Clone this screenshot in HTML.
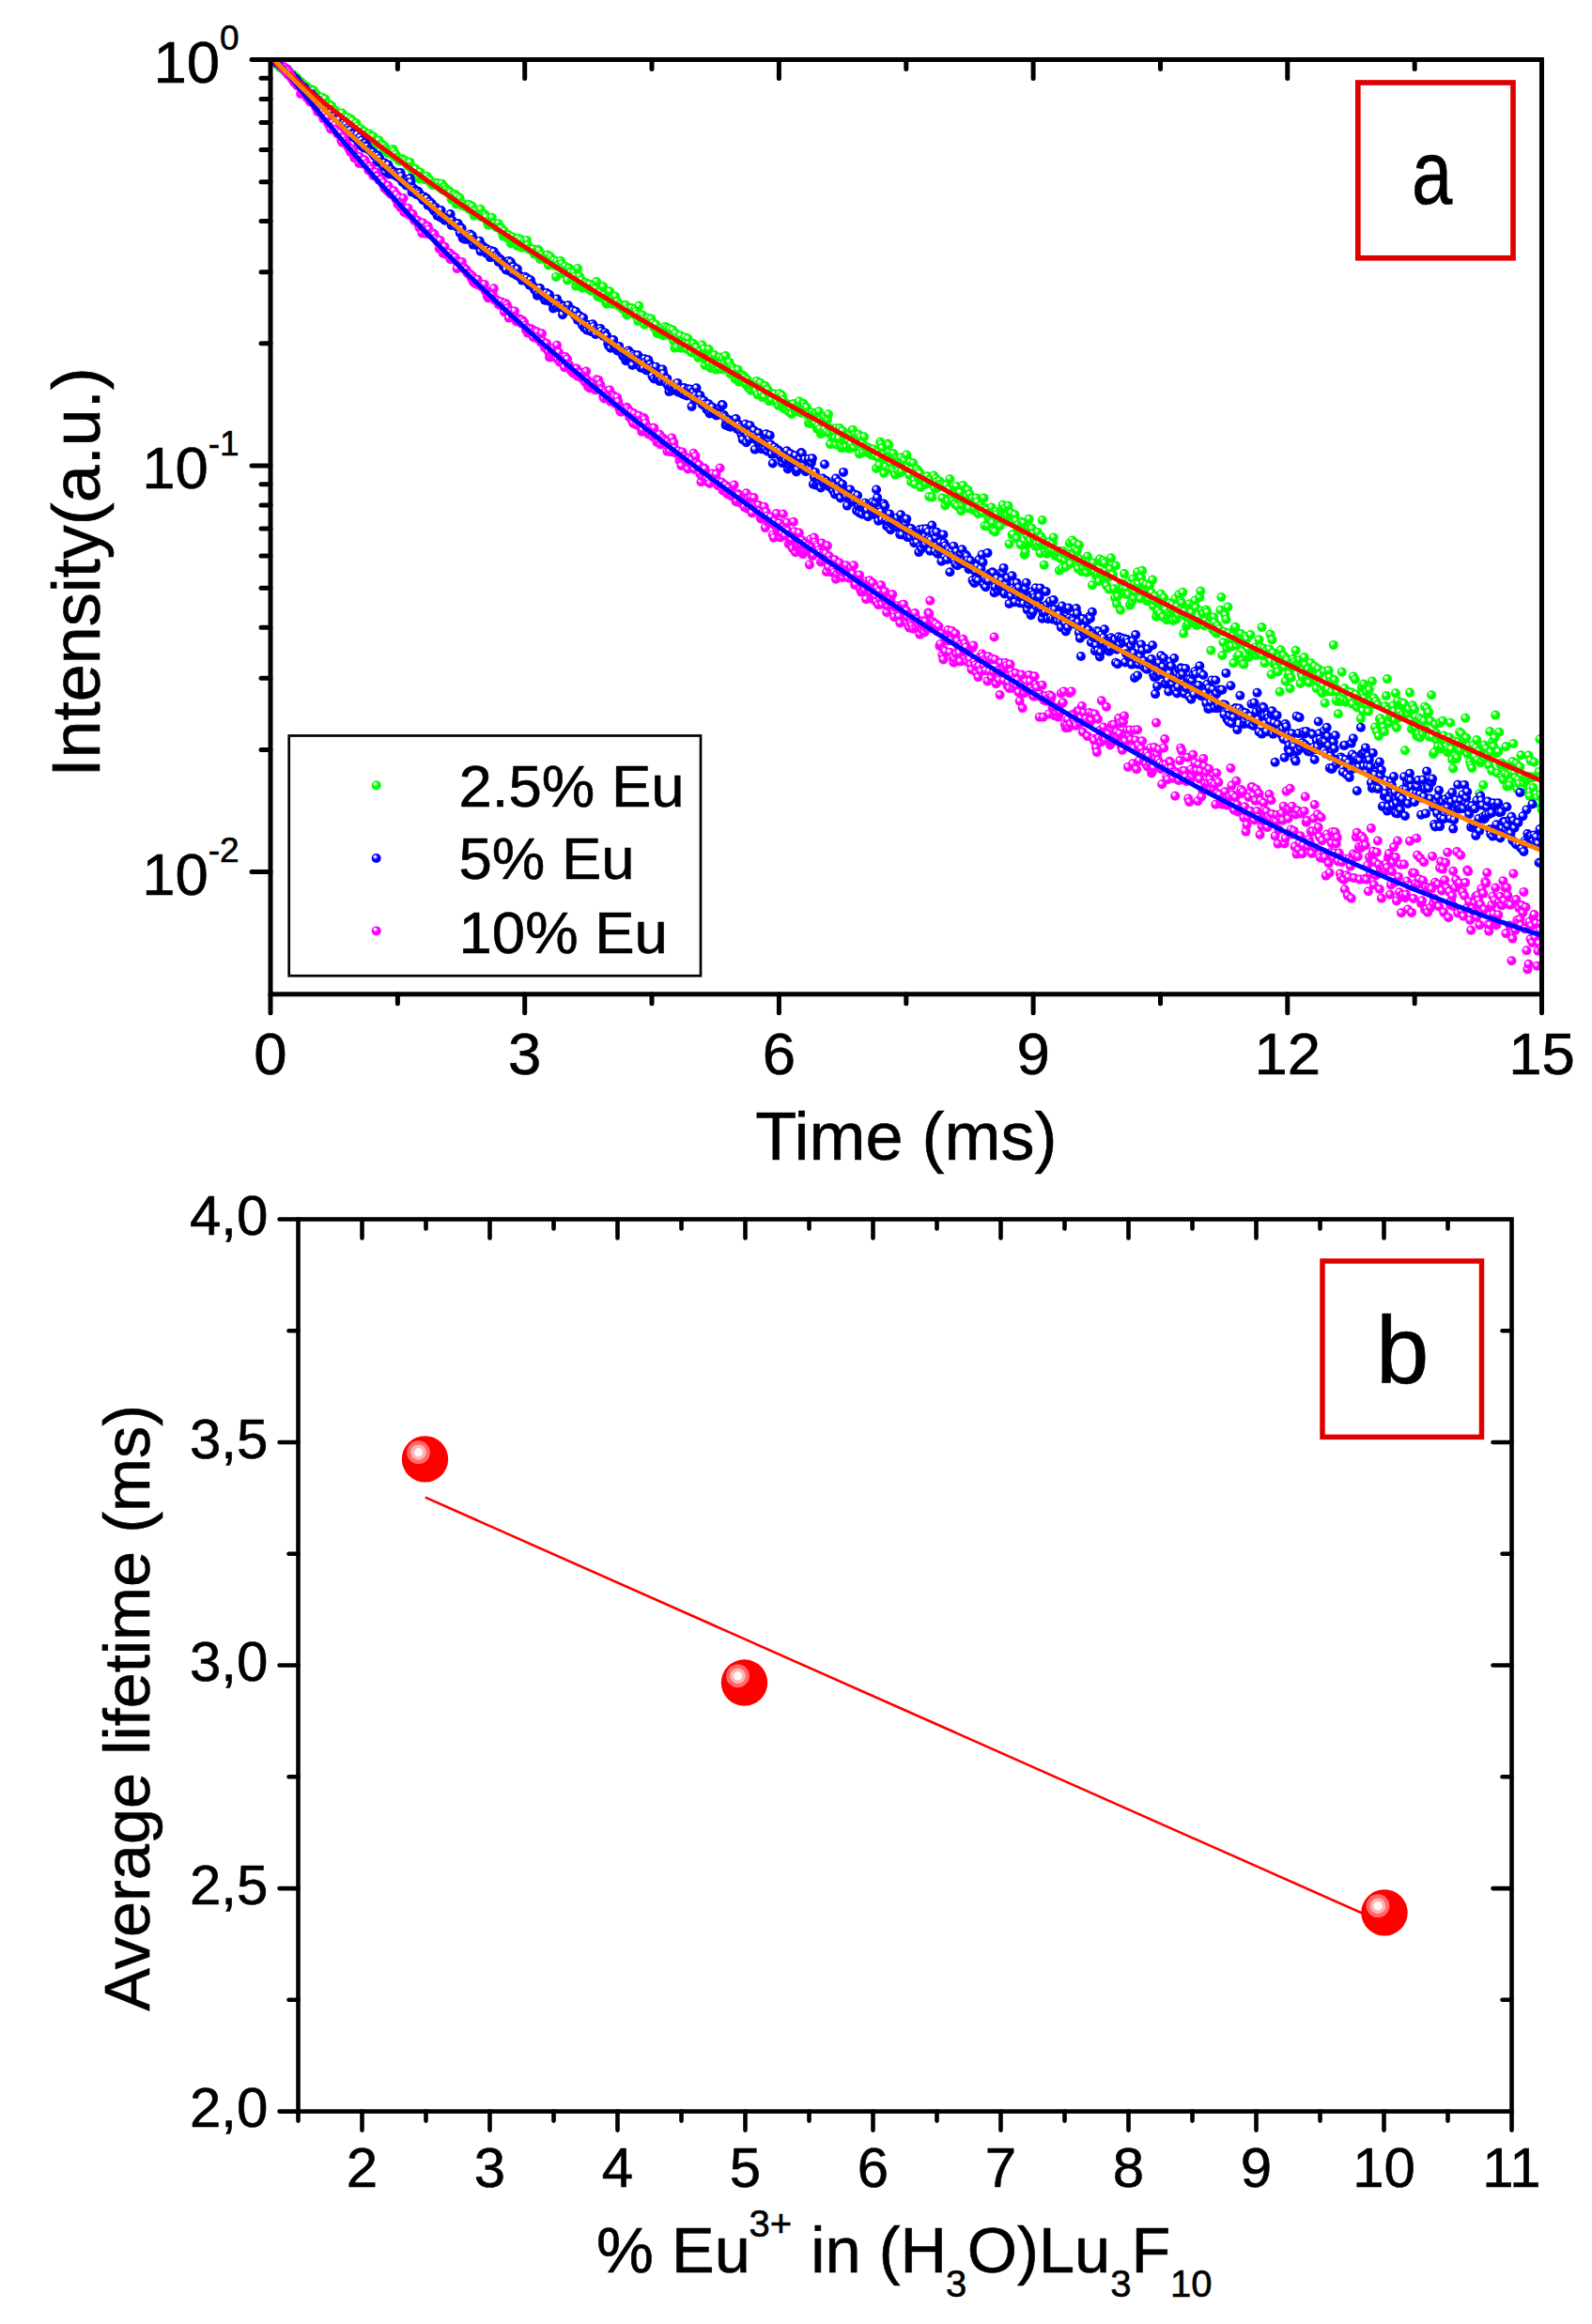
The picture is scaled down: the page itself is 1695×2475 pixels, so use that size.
<!DOCTYPE html>
<html><head><meta charset="utf-8"><title>Luminescence decay of Eu3+ in (H3O)Lu3F10</title><style>html,body{margin:0;padding:0;background:#fff}svg{display:block}text{stroke:#000;stroke-width:0.6px}</style></head><body>
<svg width="1695" height="2475" viewBox="0 0 1695 2475" font-family="'Liberation Sans', Arial, sans-serif">
<defs>
<radialGradient id="gG" cx="0.5" cy="0.5" r="0.5" fx="0.3" fy="0.26"><stop offset="0" stop-color="#fff"/><stop offset="0.12" stop-color="#fff"/><stop offset="0.32" stop-color="#b0ffb0"/><stop offset="0.5" stop-color="#00ff00"/></radialGradient>
<radialGradient id="gB" cx="0.5" cy="0.5" r="0.5" fx="0.3" fy="0.26"><stop offset="0" stop-color="#fff"/><stop offset="0.12" stop-color="#fff"/><stop offset="0.32" stop-color="#b0b0ff"/><stop offset="0.5" stop-color="#0000ff"/></radialGradient>
<radialGradient id="gM" cx="0.5" cy="0.5" r="0.5" fx="0.3" fy="0.26"><stop offset="0" stop-color="#fff"/><stop offset="0.12" stop-color="#fff"/><stop offset="0.32" stop-color="#ffb0ff"/><stop offset="0.5" stop-color="#ff00ff"/></radialGradient>
<clipPath id="cpA"><rect x="288.0" y="63.5" width="1353.5" height="995.3"/></clipPath>
</defs>
<rect width="100%" height="100%" fill="#fff"/>
<g clip-path="url(#cpA)">
<g fill="url(#gG)"><circle cx="288.0" cy="62.1" r="5"/><circle cx="289.0" cy="64.2" r="5"/><circle cx="290.0" cy="65.0" r="5"/><circle cx="291.0" cy="64.0" r="5"/><circle cx="292.0" cy="65.1" r="5"/><circle cx="293.0" cy="65.8" r="5"/><circle cx="294.0" cy="67.8" r="5"/><circle cx="295.0" cy="67.9" r="5"/><circle cx="296.0" cy="69.4" r="5"/><circle cx="297.0" cy="67.6" r="5"/><circle cx="298.0" cy="72.0" r="5"/><circle cx="299.0" cy="71.0" r="5"/><circle cx="300.0" cy="73.1" r="5"/><circle cx="301.0" cy="72.9" r="5"/><circle cx="302.0" cy="73.6" r="5"/><circle cx="303.1" cy="75.5" r="5"/><circle cx="304.1" cy="76.5" r="5"/><circle cx="305.1" cy="76.2" r="5"/><circle cx="306.1" cy="77.3" r="5"/><circle cx="307.1" cy="79.0" r="5"/><circle cx="308.1" cy="77.8" r="5"/><circle cx="309.1" cy="77.7" r="5"/><circle cx="310.1" cy="81.0" r="5"/><circle cx="311.1" cy="80.5" r="5"/><circle cx="312.1" cy="79.4" r="5"/><circle cx="313.1" cy="81.6" r="5"/><circle cx="314.1" cy="82.7" r="5"/><circle cx="315.1" cy="82.5" r="5"/><circle cx="316.1" cy="82.7" r="5"/><circle cx="317.1" cy="85.4" r="5"/><circle cx="318.1" cy="87.4" r="5"/><circle cx="319.1" cy="86.8" r="5"/><circle cx="320.1" cy="86.8" r="5"/><circle cx="321.1" cy="89.0" r="5"/><circle cx="322.1" cy="90.4" r="5"/><circle cx="323.1" cy="89.8" r="5"/><circle cx="324.1" cy="92.1" r="5"/><circle cx="325.1" cy="93.7" r="5"/><circle cx="326.1" cy="92.5" r="5"/><circle cx="327.1" cy="92.5" r="5"/><circle cx="328.1" cy="95.1" r="5"/><circle cx="329.1" cy="96.0" r="5"/><circle cx="330.1" cy="98.1" r="5"/><circle cx="331.1" cy="95.1" r="5"/><circle cx="332.1" cy="96.9" r="5"/><circle cx="333.2" cy="97.2" r="5"/><circle cx="334.2" cy="96.6" r="5"/><circle cx="335.2" cy="100.3" r="5"/><circle cx="336.2" cy="101.7" r="5"/><circle cx="337.2" cy="100.5" r="5"/><circle cx="338.2" cy="104.9" r="5"/><circle cx="339.2" cy="104.5" r="5"/><circle cx="340.2" cy="104.8" r="5"/><circle cx="341.2" cy="105.3" r="5"/><circle cx="342.2" cy="106.9" r="5"/><circle cx="343.2" cy="103.7" r="5"/><circle cx="344.2" cy="107.8" r="5"/><circle cx="345.2" cy="108.7" r="5"/><circle cx="346.2" cy="105.4" r="5"/><circle cx="347.2" cy="110.0" r="5"/><circle cx="348.2" cy="110.0" r="5"/><circle cx="349.2" cy="112.5" r="5"/><circle cx="350.2" cy="110.9" r="5"/><circle cx="351.2" cy="112.8" r="5"/><circle cx="352.2" cy="114.1" r="5"/><circle cx="353.2" cy="112.9" r="5"/><circle cx="354.2" cy="116.9" r="5"/><circle cx="355.2" cy="116.7" r="5"/><circle cx="356.2" cy="119.0" r="5"/><circle cx="357.2" cy="117.9" r="5"/><circle cx="358.2" cy="121.8" r="5"/><circle cx="359.2" cy="121.6" r="5"/><circle cx="360.2" cy="120.8" r="5"/><circle cx="361.2" cy="123.4" r="5"/><circle cx="362.2" cy="124.7" r="5"/><circle cx="363.3" cy="126.6" r="5"/><circle cx="364.3" cy="120.5" r="5"/><circle cx="365.3" cy="126.7" r="5"/><circle cx="366.3" cy="126.4" r="5"/><circle cx="367.3" cy="125.9" r="5"/><circle cx="368.3" cy="124.5" r="5"/><circle cx="369.3" cy="129.8" r="5"/><circle cx="370.3" cy="125.0" r="5"/><circle cx="371.3" cy="129.6" r="5"/><circle cx="372.3" cy="132.2" r="5"/><circle cx="373.3" cy="126.6" r="5"/><circle cx="374.3" cy="130.4" r="5"/><circle cx="375.3" cy="128.5" r="5"/><circle cx="376.3" cy="132.9" r="5"/><circle cx="377.3" cy="137.1" r="5"/><circle cx="378.3" cy="138.8" r="5"/><circle cx="379.3" cy="131.3" r="5"/><circle cx="380.3" cy="134.5" r="5"/><circle cx="381.3" cy="138.0" r="5"/><circle cx="382.3" cy="140.8" r="5"/><circle cx="383.3" cy="138.9" r="5"/><circle cx="384.3" cy="137.2" r="5"/><circle cx="385.3" cy="140.6" r="5"/><circle cx="386.3" cy="140.2" r="5"/><circle cx="387.3" cy="140.6" r="5"/><circle cx="388.3" cy="140.3" r="5"/><circle cx="389.3" cy="143.7" r="5"/><circle cx="390.3" cy="144.4" r="5"/><circle cx="391.3" cy="143.7" r="5"/><circle cx="392.3" cy="144.4" r="5"/><circle cx="393.4" cy="142.5" r="5"/><circle cx="394.4" cy="145.1" r="5"/><circle cx="395.4" cy="149.7" r="5"/><circle cx="396.4" cy="147.6" r="5"/><circle cx="397.4" cy="145.2" r="5"/><circle cx="398.4" cy="152.6" r="5"/><circle cx="399.4" cy="151.6" r="5"/><circle cx="400.4" cy="156.2" r="5"/><circle cx="401.4" cy="152.1" r="5"/><circle cx="402.4" cy="151.3" r="5"/><circle cx="403.4" cy="149.4" r="5"/><circle cx="404.4" cy="156.7" r="5"/><circle cx="405.4" cy="160.4" r="5"/><circle cx="406.4" cy="153.4" r="5"/><circle cx="407.4" cy="154.4" r="5"/><circle cx="408.4" cy="158.3" r="5"/><circle cx="409.4" cy="155.7" r="5"/><circle cx="410.4" cy="158.4" r="5"/><circle cx="411.4" cy="158.8" r="5"/><circle cx="412.4" cy="161.1" r="5"/><circle cx="413.4" cy="163.4" r="5"/><circle cx="414.4" cy="161.0" r="5"/><circle cx="415.4" cy="163.5" r="5"/><circle cx="416.4" cy="161.0" r="5"/><circle cx="417.4" cy="163.8" r="5"/><circle cx="418.4" cy="158.9" r="5"/><circle cx="419.4" cy="161.1" r="5"/><circle cx="420.4" cy="167.2" r="5"/><circle cx="421.4" cy="164.4" r="5"/><circle cx="422.4" cy="168.0" r="5"/><circle cx="423.5" cy="168.4" r="5"/><circle cx="424.5" cy="171.0" r="5"/><circle cx="425.5" cy="170.2" r="5"/><circle cx="426.5" cy="171.6" r="5"/><circle cx="427.5" cy="169.6" r="5"/><circle cx="428.5" cy="169.2" r="5"/><circle cx="429.5" cy="170.2" r="5"/><circle cx="430.5" cy="172.0" r="5"/><circle cx="431.5" cy="171.3" r="5"/><circle cx="432.5" cy="173.6" r="5"/><circle cx="433.5" cy="175.3" r="5"/><circle cx="434.5" cy="176.9" r="5"/><circle cx="435.5" cy="176.2" r="5"/><circle cx="436.5" cy="172.8" r="5"/><circle cx="437.5" cy="178.2" r="5"/><circle cx="438.5" cy="179.7" r="5"/><circle cx="439.5" cy="182.4" r="5"/><circle cx="440.5" cy="182.1" r="5"/><circle cx="441.5" cy="179.5" r="5"/><circle cx="442.5" cy="180.1" r="5"/><circle cx="443.5" cy="188.0" r="5"/><circle cx="444.5" cy="185.6" r="5"/><circle cx="445.5" cy="188.6" r="5"/><circle cx="446.5" cy="190.2" r="5"/><circle cx="447.5" cy="183.6" r="5"/><circle cx="448.5" cy="187.6" r="5"/><circle cx="449.5" cy="188.9" r="5"/><circle cx="450.5" cy="190.0" r="5"/><circle cx="451.5" cy="191.0" r="5"/><circle cx="452.5" cy="190.6" r="5"/><circle cx="453.6" cy="191.2" r="5"/><circle cx="454.6" cy="187.7" r="5"/><circle cx="455.6" cy="191.8" r="5"/><circle cx="456.6" cy="190.9" r="5"/><circle cx="457.6" cy="193.7" r="5"/><circle cx="458.6" cy="192.7" r="5"/><circle cx="459.6" cy="196.1" r="5"/><circle cx="460.6" cy="197.2" r="5"/><circle cx="461.6" cy="196.2" r="5"/><circle cx="462.6" cy="196.4" r="5"/><circle cx="463.6" cy="195.9" r="5"/><circle cx="464.6" cy="194.7" r="5"/><circle cx="465.6" cy="196.0" r="5"/><circle cx="466.6" cy="195.4" r="5"/><circle cx="467.6" cy="198.8" r="5"/><circle cx="468.6" cy="198.6" r="5"/><circle cx="469.6" cy="200.7" r="5"/><circle cx="470.6" cy="195.8" r="5"/><circle cx="471.6" cy="202.5" r="5"/><circle cx="472.6" cy="198.8" r="5"/><circle cx="473.6" cy="199.7" r="5"/><circle cx="474.6" cy="201.9" r="5"/><circle cx="475.6" cy="201.9" r="5"/><circle cx="476.6" cy="205.3" r="5"/><circle cx="477.6" cy="203.6" r="5"/><circle cx="478.6" cy="203.7" r="5"/><circle cx="479.6" cy="205.1" r="5"/><circle cx="480.6" cy="212.1" r="5"/><circle cx="481.6" cy="209.6" r="5"/><circle cx="482.6" cy="206.8" r="5"/><circle cx="483.7" cy="210.6" r="5"/><circle cx="484.7" cy="207.1" r="5"/><circle cx="485.7" cy="217.4" r="5"/><circle cx="486.7" cy="209.0" r="5"/><circle cx="487.7" cy="215.2" r="5"/><circle cx="488.7" cy="216.0" r="5"/><circle cx="489.7" cy="211.0" r="5"/><circle cx="490.7" cy="216.6" r="5"/><circle cx="491.7" cy="218.8" r="5"/><circle cx="492.7" cy="217.9" r="5"/><circle cx="493.7" cy="217.3" r="5"/><circle cx="494.7" cy="220.0" r="5"/><circle cx="495.7" cy="218.5" r="5"/><circle cx="496.7" cy="219.5" r="5"/><circle cx="497.7" cy="218.8" r="5"/><circle cx="498.7" cy="222.1" r="5"/><circle cx="499.7" cy="218.0" r="5"/><circle cx="500.7" cy="223.5" r="5"/><circle cx="501.7" cy="220.4" r="5"/><circle cx="502.7" cy="219.7" r="5"/><circle cx="503.7" cy="224.7" r="5"/><circle cx="504.7" cy="229.6" r="5"/><circle cx="505.7" cy="227.8" r="5"/><circle cx="506.7" cy="224.7" r="5"/><circle cx="507.7" cy="228.7" r="5"/><circle cx="508.7" cy="226.4" r="5"/><circle cx="509.7" cy="227.9" r="5"/><circle cx="510.7" cy="229.5" r="5"/><circle cx="511.7" cy="222.7" r="5"/><circle cx="512.7" cy="231.2" r="5"/><circle cx="513.8" cy="228.3" r="5"/><circle cx="514.8" cy="229.6" r="5"/><circle cx="515.8" cy="228.0" r="5"/><circle cx="516.8" cy="229.0" r="5"/><circle cx="517.8" cy="231.3" r="5"/><circle cx="518.8" cy="236.7" r="5"/><circle cx="519.8" cy="239.7" r="5"/><circle cx="520.8" cy="235.3" r="5"/><circle cx="521.8" cy="238.9" r="5"/><circle cx="522.8" cy="235.6" r="5"/><circle cx="523.8" cy="231.7" r="5"/><circle cx="524.8" cy="238.9" r="5"/><circle cx="525.8" cy="239.9" r="5"/><circle cx="526.8" cy="238.2" r="5"/><circle cx="527.8" cy="241.0" r="5"/><circle cx="528.8" cy="242.5" r="5"/><circle cx="529.8" cy="239.0" r="5"/><circle cx="530.8" cy="238.2" r="5"/><circle cx="531.8" cy="242.0" r="5"/><circle cx="532.8" cy="242.4" r="5"/><circle cx="533.8" cy="243.1" r="5"/><circle cx="534.8" cy="248.5" r="5"/><circle cx="535.8" cy="251.6" r="5"/><circle cx="536.8" cy="246.0" r="5"/><circle cx="537.8" cy="250.6" r="5"/><circle cx="538.8" cy="251.7" r="5"/><circle cx="539.8" cy="251.9" r="5"/><circle cx="540.8" cy="253.9" r="5"/><circle cx="541.8" cy="250.3" r="5"/><circle cx="542.8" cy="254.5" r="5"/><circle cx="543.9" cy="259.2" r="5"/><circle cx="544.9" cy="256.3" r="5"/><circle cx="545.9" cy="252.5" r="5"/><circle cx="546.9" cy="256.8" r="5"/><circle cx="547.9" cy="259.4" r="5"/><circle cx="548.9" cy="257.5" r="5"/><circle cx="549.9" cy="254.9" r="5"/><circle cx="550.9" cy="262.1" r="5"/><circle cx="551.9" cy="253.9" r="5"/><circle cx="552.9" cy="260.1" r="5"/><circle cx="553.9" cy="258.8" r="5"/><circle cx="554.9" cy="255.6" r="5"/><circle cx="555.9" cy="263.7" r="5"/><circle cx="556.9" cy="261.5" r="5"/><circle cx="557.9" cy="257.1" r="5"/><circle cx="558.9" cy="263.4" r="5"/><circle cx="559.9" cy="260.5" r="5"/><circle cx="560.9" cy="255.9" r="5"/><circle cx="561.9" cy="261.2" r="5"/><circle cx="562.9" cy="264.8" r="5"/><circle cx="563.9" cy="265.9" r="5"/><circle cx="564.9" cy="265.0" r="5"/><circle cx="565.9" cy="265.5" r="5"/><circle cx="566.9" cy="267.4" r="5"/><circle cx="567.9" cy="265.5" r="5"/><circle cx="568.9" cy="270.6" r="5"/><circle cx="569.9" cy="268.5" r="5"/><circle cx="570.9" cy="269.4" r="5"/><circle cx="571.9" cy="270.7" r="5"/><circle cx="572.9" cy="265.7" r="5"/><circle cx="574.0" cy="267.1" r="5"/><circle cx="575.0" cy="275.9" r="5"/><circle cx="576.0" cy="272.7" r="5"/><circle cx="577.0" cy="271.3" r="5"/><circle cx="578.0" cy="274.2" r="5"/><circle cx="579.0" cy="273.0" r="5"/><circle cx="580.0" cy="276.1" r="5"/><circle cx="581.0" cy="273.2" r="5"/><circle cx="582.0" cy="277.3" r="5"/><circle cx="583.0" cy="271.5" r="5"/><circle cx="584.0" cy="282.4" r="5"/><circle cx="585.0" cy="276.0" r="5"/><circle cx="586.0" cy="273.4" r="5"/><circle cx="587.0" cy="278.8" r="5"/><circle cx="588.0" cy="279.1" r="5"/><circle cx="589.0" cy="281.2" r="5"/><circle cx="590.0" cy="277.2" r="5"/><circle cx="591.0" cy="283.1" r="5"/><circle cx="592.0" cy="294.9" r="5"/><circle cx="593.0" cy="278.5" r="5"/><circle cx="594.0" cy="283.7" r="5"/><circle cx="595.0" cy="281.7" r="5"/><circle cx="596.0" cy="284.8" r="5"/><circle cx="597.0" cy="278.0" r="5"/><circle cx="598.0" cy="280.9" r="5"/><circle cx="599.0" cy="286.6" r="5"/><circle cx="600.0" cy="285.3" r="5"/><circle cx="601.0" cy="291.7" r="5"/><circle cx="602.0" cy="283.9" r="5"/><circle cx="603.0" cy="287.9" r="5"/><circle cx="604.1" cy="298.5" r="5"/><circle cx="605.1" cy="285.6" r="5"/><circle cx="606.1" cy="285.8" r="5"/><circle cx="607.1" cy="289.5" r="5"/><circle cx="608.1" cy="290.2" r="5"/><circle cx="609.1" cy="295.1" r="5"/><circle cx="610.1" cy="293.6" r="5"/><circle cx="611.1" cy="290.6" r="5"/><circle cx="612.1" cy="294.8" r="5"/><circle cx="613.1" cy="304.6" r="5"/><circle cx="614.1" cy="300.4" r="5"/><circle cx="615.1" cy="286.0" r="5"/><circle cx="616.1" cy="296.0" r="5"/><circle cx="617.1" cy="294.2" r="5"/><circle cx="618.1" cy="300.0" r="5"/><circle cx="619.1" cy="298.3" r="5"/><circle cx="620.1" cy="306.8" r="5"/><circle cx="621.1" cy="303.3" r="5"/><circle cx="622.1" cy="303.6" r="5"/><circle cx="623.1" cy="302.2" r="5"/><circle cx="624.1" cy="301.2" r="5"/><circle cx="625.1" cy="302.8" r="5"/><circle cx="626.1" cy="307.1" r="5"/><circle cx="627.1" cy="305.5" r="5"/><circle cx="628.1" cy="302.8" r="5"/><circle cx="629.1" cy="309.7" r="5"/><circle cx="630.1" cy="306.8" r="5"/><circle cx="631.1" cy="306.8" r="5"/><circle cx="632.1" cy="304.9" r="5"/><circle cx="633.1" cy="307.4" r="5"/><circle cx="634.2" cy="307.3" r="5"/><circle cx="635.2" cy="300.1" r="5"/><circle cx="636.2" cy="315.6" r="5"/><circle cx="637.2" cy="314.7" r="5"/><circle cx="638.2" cy="311.5" r="5"/><circle cx="639.2" cy="317.0" r="5"/><circle cx="640.2" cy="315.8" r="5"/><circle cx="641.2" cy="315.8" r="5"/><circle cx="642.2" cy="305.3" r="5"/><circle cx="643.2" cy="314.1" r="5"/><circle cx="644.2" cy="317.8" r="5"/><circle cx="645.2" cy="322.5" r="5"/><circle cx="646.2" cy="323.8" r="5"/><circle cx="647.2" cy="322.5" r="5"/><circle cx="648.2" cy="312.7" r="5"/><circle cx="649.2" cy="310.2" r="5"/><circle cx="650.2" cy="320.9" r="5"/><circle cx="651.2" cy="319.6" r="5"/><circle cx="652.2" cy="323.7" r="5"/><circle cx="653.2" cy="320.0" r="5"/><circle cx="654.2" cy="322.3" r="5"/><circle cx="655.2" cy="315.7" r="5"/><circle cx="656.2" cy="324.3" r="5"/><circle cx="657.2" cy="321.5" r="5"/><circle cx="658.2" cy="324.8" r="5"/><circle cx="659.2" cy="326.0" r="5"/><circle cx="660.2" cy="324.4" r="5"/><circle cx="661.2" cy="326.6" r="5"/><circle cx="662.2" cy="326.0" r="5"/><circle cx="663.2" cy="329.5" r="5"/><circle cx="664.3" cy="328.0" r="5"/><circle cx="665.3" cy="325.1" r="5"/><circle cx="666.3" cy="325.1" r="5"/><circle cx="667.3" cy="335.4" r="5"/><circle cx="668.3" cy="328.8" r="5"/><circle cx="669.3" cy="333.4" r="5"/><circle cx="670.3" cy="331.8" r="5"/><circle cx="671.3" cy="328.4" r="5"/><circle cx="672.3" cy="328.1" r="5"/><circle cx="673.3" cy="332.5" r="5"/><circle cx="674.3" cy="333.5" r="5"/><circle cx="675.3" cy="335.3" r="5"/><circle cx="676.3" cy="329.0" r="5"/><circle cx="677.3" cy="331.8" r="5"/><circle cx="678.3" cy="334.7" r="5"/><circle cx="679.3" cy="341.9" r="5"/><circle cx="680.3" cy="325.8" r="5"/><circle cx="681.3" cy="338.4" r="5"/><circle cx="682.3" cy="334.9" r="5"/><circle cx="683.3" cy="339.4" r="5"/><circle cx="684.3" cy="335.8" r="5"/><circle cx="685.3" cy="339.6" r="5"/><circle cx="686.3" cy="345.8" r="5"/><circle cx="687.3" cy="341.1" r="5"/><circle cx="688.3" cy="342.2" r="5"/><circle cx="689.3" cy="343.0" r="5"/><circle cx="690.3" cy="338.7" r="5"/><circle cx="691.3" cy="344.0" r="5"/><circle cx="692.3" cy="341.4" r="5"/><circle cx="693.3" cy="339.5" r="5"/><circle cx="694.4" cy="344.6" r="5"/><circle cx="695.4" cy="344.0" r="5"/><circle cx="696.4" cy="348.9" r="5"/><circle cx="697.4" cy="346.3" r="5"/><circle cx="698.4" cy="345.8" r="5"/><circle cx="699.4" cy="354.8" r="5"/><circle cx="700.4" cy="354.0" r="5"/><circle cx="701.4" cy="355.6" r="5"/><circle cx="702.4" cy="352.7" r="5"/><circle cx="703.4" cy="350.7" r="5"/><circle cx="704.4" cy="349.7" r="5"/><circle cx="705.4" cy="351.4" r="5"/><circle cx="706.4" cy="357.4" r="5"/><circle cx="707.4" cy="354.9" r="5"/><circle cx="708.4" cy="347.9" r="5"/><circle cx="709.4" cy="354.4" r="5"/><circle cx="710.4" cy="349.3" r="5"/><circle cx="711.4" cy="356.6" r="5"/><circle cx="712.4" cy="350.3" r="5"/><circle cx="713.4" cy="350.5" r="5"/><circle cx="714.4" cy="358.4" r="5"/><circle cx="715.4" cy="358.4" r="5"/><circle cx="716.4" cy="351.5" r="5"/><circle cx="717.4" cy="363.2" r="5"/><circle cx="718.4" cy="370.6" r="5"/><circle cx="719.4" cy="355.1" r="5"/><circle cx="720.4" cy="369.9" r="5"/><circle cx="721.4" cy="359.5" r="5"/><circle cx="722.4" cy="360.9" r="5"/><circle cx="723.4" cy="363.1" r="5"/><circle cx="724.5" cy="357.4" r="5"/><circle cx="725.5" cy="370.8" r="5"/><circle cx="726.5" cy="368.1" r="5"/><circle cx="727.5" cy="363.5" r="5"/><circle cx="728.5" cy="365.1" r="5"/><circle cx="729.5" cy="359.4" r="5"/><circle cx="730.5" cy="365.0" r="5"/><circle cx="731.5" cy="372.0" r="5"/><circle cx="732.5" cy="360.5" r="5"/><circle cx="733.5" cy="366.8" r="5"/><circle cx="734.5" cy="369.8" r="5"/><circle cx="735.5" cy="374.6" r="5"/><circle cx="736.5" cy="375.5" r="5"/><circle cx="737.5" cy="367.3" r="5"/><circle cx="738.5" cy="366.1" r="5"/><circle cx="739.5" cy="372.5" r="5"/><circle cx="740.5" cy="369.0" r="5"/><circle cx="741.5" cy="370.1" r="5"/><circle cx="742.5" cy="377.3" r="5"/><circle cx="743.5" cy="380.9" r="5"/><circle cx="744.5" cy="375.9" r="5"/><circle cx="745.5" cy="374.5" r="5"/><circle cx="746.5" cy="378.3" r="5"/><circle cx="747.5" cy="367.4" r="5"/><circle cx="748.5" cy="375.8" r="5"/><circle cx="749.5" cy="371.7" r="5"/><circle cx="750.5" cy="388.9" r="5"/><circle cx="751.5" cy="383.3" r="5"/><circle cx="752.5" cy="382.0" r="5"/><circle cx="753.5" cy="382.0" r="5"/><circle cx="754.6" cy="372.1" r="5"/><circle cx="755.6" cy="387.8" r="5"/><circle cx="756.6" cy="392.0" r="5"/><circle cx="757.6" cy="381.4" r="5"/><circle cx="758.6" cy="388.7" r="5"/><circle cx="759.6" cy="388.5" r="5"/><circle cx="760.6" cy="378.0" r="5"/><circle cx="761.6" cy="390.9" r="5"/><circle cx="762.6" cy="393.6" r="5"/><circle cx="763.6" cy="388.5" r="5"/><circle cx="764.6" cy="387.5" r="5"/><circle cx="765.6" cy="392.6" r="5"/><circle cx="766.6" cy="380.6" r="5"/><circle cx="767.6" cy="388.4" r="5"/><circle cx="768.6" cy="393.3" r="5"/><circle cx="769.6" cy="381.7" r="5"/><circle cx="770.6" cy="393.1" r="5"/><circle cx="771.6" cy="387.0" r="5"/><circle cx="772.6" cy="379.0" r="5"/><circle cx="773.6" cy="389.8" r="5"/><circle cx="774.6" cy="386.4" r="5"/><circle cx="775.6" cy="392.9" r="5"/><circle cx="776.6" cy="385.9" r="5"/><circle cx="777.6" cy="397.9" r="5"/><circle cx="778.6" cy="390.3" r="5"/><circle cx="779.6" cy="396.5" r="5"/><circle cx="780.6" cy="392.1" r="5"/><circle cx="781.6" cy="394.6" r="5"/><circle cx="782.6" cy="403.4" r="5"/><circle cx="783.6" cy="399.3" r="5"/><circle cx="784.7" cy="397.0" r="5"/><circle cx="785.7" cy="393.7" r="5"/><circle cx="786.7" cy="406.7" r="5"/><circle cx="787.7" cy="406.0" r="5"/><circle cx="788.7" cy="400.9" r="5"/><circle cx="789.7" cy="404.4" r="5"/><circle cx="790.7" cy="399.6" r="5"/><circle cx="791.7" cy="400.4" r="5"/><circle cx="792.7" cy="401.9" r="5"/><circle cx="793.7" cy="409.1" r="5"/><circle cx="794.7" cy="409.2" r="5"/><circle cx="795.7" cy="404.5" r="5"/><circle cx="796.7" cy="412.6" r="5"/><circle cx="797.7" cy="413.5" r="5"/><circle cx="798.7" cy="410.8" r="5"/><circle cx="799.7" cy="416.0" r="5"/><circle cx="800.7" cy="409.6" r="5"/><circle cx="801.7" cy="410.7" r="5"/><circle cx="802.7" cy="414.1" r="5"/><circle cx="803.7" cy="412.5" r="5"/><circle cx="804.7" cy="416.7" r="5"/><circle cx="805.7" cy="405.9" r="5"/><circle cx="806.7" cy="420.4" r="5"/><circle cx="807.7" cy="409.3" r="5"/><circle cx="808.7" cy="412.5" r="5"/><circle cx="809.7" cy="407.9" r="5"/><circle cx="810.7" cy="419.0" r="5"/><circle cx="811.7" cy="423.1" r="5"/><circle cx="812.7" cy="422.5" r="5"/><circle cx="813.7" cy="422.5" r="5"/><circle cx="814.8" cy="411.0" r="5"/><circle cx="815.8" cy="414.9" r="5"/><circle cx="816.8" cy="417.2" r="5"/><circle cx="817.8" cy="415.2" r="5"/><circle cx="818.8" cy="427.3" r="5"/><circle cx="819.8" cy="422.7" r="5"/><circle cx="820.8" cy="423.1" r="5"/><circle cx="821.8" cy="426.1" r="5"/><circle cx="822.8" cy="419.3" r="5"/><circle cx="823.8" cy="420.0" r="5"/><circle cx="824.8" cy="419.7" r="5"/><circle cx="825.8" cy="427.6" r="5"/><circle cx="826.8" cy="427.4" r="5"/><circle cx="827.8" cy="429.4" r="5"/><circle cx="828.8" cy="432.0" r="5"/><circle cx="829.8" cy="419.3" r="5"/><circle cx="830.8" cy="424.8" r="5"/><circle cx="831.8" cy="428.9" r="5"/><circle cx="832.8" cy="421.3" r="5"/><circle cx="833.8" cy="425.9" r="5"/><circle cx="834.8" cy="435.2" r="5"/><circle cx="835.8" cy="434.8" r="5"/><circle cx="836.8" cy="435.4" r="5"/><circle cx="837.8" cy="430.6" r="5"/><circle cx="838.8" cy="430.4" r="5"/><circle cx="839.8" cy="438.5" r="5"/><circle cx="840.8" cy="431.2" r="5"/><circle cx="841.8" cy="435.3" r="5"/><circle cx="842.8" cy="440.9" r="5"/><circle cx="843.8" cy="431.0" r="5"/><circle cx="844.9" cy="430.1" r="5"/><circle cx="845.9" cy="434.4" r="5"/><circle cx="846.9" cy="437.9" r="5"/><circle cx="847.9" cy="436.9" r="5"/><circle cx="848.9" cy="434.5" r="5"/><circle cx="849.9" cy="437.9" r="5"/><circle cx="850.9" cy="427.6" r="5"/><circle cx="851.9" cy="433.5" r="5"/><circle cx="852.9" cy="439.7" r="5"/><circle cx="853.9" cy="432.9" r="5"/><circle cx="854.9" cy="429.5" r="5"/><circle cx="855.9" cy="430.3" r="5"/><circle cx="856.9" cy="433.3" r="5"/><circle cx="857.9" cy="437.3" r="5"/><circle cx="858.9" cy="434.0" r="5"/><circle cx="859.9" cy="441.9" r="5"/><circle cx="860.9" cy="450.6" r="5"/><circle cx="861.9" cy="441.2" r="5"/><circle cx="862.9" cy="451.2" r="5"/><circle cx="863.9" cy="447.1" r="5"/><circle cx="864.9" cy="439.4" r="5"/><circle cx="865.9" cy="444.8" r="5"/><circle cx="866.9" cy="440.9" r="5"/><circle cx="867.9" cy="450.6" r="5"/><circle cx="868.9" cy="440.0" r="5"/><circle cx="869.9" cy="456.6" r="5"/><circle cx="870.9" cy="453.5" r="5"/><circle cx="871.9" cy="438.2" r="5"/><circle cx="872.9" cy="456.8" r="5"/><circle cx="873.9" cy="462.1" r="5"/><circle cx="875.0" cy="449.3" r="5"/><circle cx="876.0" cy="460.2" r="5"/><circle cx="877.0" cy="444.5" r="5"/><circle cx="878.0" cy="457.3" r="5"/><circle cx="879.0" cy="446.0" r="5"/><circle cx="880.0" cy="460.2" r="5"/><circle cx="881.0" cy="447.1" r="5"/><circle cx="882.0" cy="441.3" r="5"/><circle cx="883.0" cy="461.2" r="5"/><circle cx="884.0" cy="473.1" r="5"/><circle cx="885.0" cy="456.2" r="5"/><circle cx="886.0" cy="466.0" r="5"/><circle cx="887.0" cy="462.3" r="5"/><circle cx="888.0" cy="459.9" r="5"/><circle cx="889.0" cy="466.5" r="5"/><circle cx="890.0" cy="473.4" r="5"/><circle cx="891.0" cy="456.2" r="5"/><circle cx="892.0" cy="468.0" r="5"/><circle cx="893.0" cy="466.9" r="5"/><circle cx="894.0" cy="456.0" r="5"/><circle cx="895.0" cy="475.0" r="5"/><circle cx="896.0" cy="477.1" r="5"/><circle cx="897.0" cy="458.9" r="5"/><circle cx="898.0" cy="477.0" r="5"/><circle cx="899.0" cy="467.9" r="5"/><circle cx="900.0" cy="465.7" r="5"/><circle cx="901.0" cy="476.0" r="5"/><circle cx="902.0" cy="468.2" r="5"/><circle cx="903.0" cy="469.2" r="5"/><circle cx="904.0" cy="477.8" r="5"/><circle cx="905.1" cy="476.0" r="5"/><circle cx="906.1" cy="472.8" r="5"/><circle cx="907.1" cy="458.2" r="5"/><circle cx="908.1" cy="457.9" r="5"/><circle cx="909.1" cy="476.6" r="5"/><circle cx="910.1" cy="463.4" r="5"/><circle cx="911.1" cy="470.8" r="5"/><circle cx="912.1" cy="464.5" r="5"/><circle cx="913.1" cy="469.6" r="5"/><circle cx="914.1" cy="462.8" r="5"/><circle cx="915.1" cy="483.4" r="5"/><circle cx="916.1" cy="465.5" r="5"/><circle cx="917.1" cy="472.8" r="5"/><circle cx="918.1" cy="472.3" r="5"/><circle cx="919.1" cy="481.7" r="5"/><circle cx="920.1" cy="465.2" r="5"/><circle cx="921.1" cy="476.1" r="5"/><circle cx="922.1" cy="475.8" r="5"/><circle cx="923.1" cy="481.7" r="5"/><circle cx="924.1" cy="482.1" r="5"/><circle cx="925.1" cy="477.1" r="5"/><circle cx="926.1" cy="482.3" r="5"/><circle cx="927.1" cy="478.9" r="5"/><circle cx="928.1" cy="484.6" r="5"/><circle cx="929.1" cy="481.4" r="5"/><circle cx="930.1" cy="478.4" r="5"/><circle cx="931.1" cy="484.0" r="5"/><circle cx="932.1" cy="485.7" r="5"/><circle cx="933.1" cy="498.9" r="5"/><circle cx="934.1" cy="481.6" r="5"/><circle cx="935.2" cy="487.5" r="5"/><circle cx="936.2" cy="495.4" r="5"/><circle cx="937.2" cy="470.7" r="5"/><circle cx="938.2" cy="472.9" r="5"/><circle cx="939.2" cy="477.1" r="5"/><circle cx="940.2" cy="484.7" r="5"/><circle cx="941.2" cy="503.9" r="5"/><circle cx="942.2" cy="489.9" r="5"/><circle cx="943.2" cy="497.2" r="5"/><circle cx="944.2" cy="488.3" r="5"/><circle cx="945.2" cy="472.6" r="5"/><circle cx="946.2" cy="474.0" r="5"/><circle cx="947.2" cy="498.3" r="5"/><circle cx="948.2" cy="493.5" r="5"/><circle cx="949.2" cy="483.0" r="5"/><circle cx="950.2" cy="500.4" r="5"/><circle cx="951.2" cy="483.1" r="5"/><circle cx="952.2" cy="502.9" r="5"/><circle cx="953.2" cy="505.6" r="5"/><circle cx="954.2" cy="489.4" r="5"/><circle cx="955.2" cy="488.1" r="5"/><circle cx="956.2" cy="501.9" r="5"/><circle cx="957.2" cy="488.5" r="5"/><circle cx="958.2" cy="503.7" r="5"/><circle cx="959.2" cy="487.3" r="5"/><circle cx="960.2" cy="501.8" r="5"/><circle cx="961.2" cy="495.4" r="5"/><circle cx="962.2" cy="492.3" r="5"/><circle cx="963.2" cy="490.1" r="5"/><circle cx="964.2" cy="498.8" r="5"/><circle cx="965.3" cy="484.5" r="5"/><circle cx="966.3" cy="496.2" r="5"/><circle cx="967.3" cy="497.3" r="5"/><circle cx="968.3" cy="505.9" r="5"/><circle cx="969.3" cy="492.4" r="5"/><circle cx="970.3" cy="513.5" r="5"/><circle cx="971.3" cy="499.3" r="5"/><circle cx="972.3" cy="493.3" r="5"/><circle cx="973.3" cy="511.3" r="5"/><circle cx="974.3" cy="515.7" r="5"/><circle cx="975.3" cy="503.3" r="5"/><circle cx="976.3" cy="499.7" r="5"/><circle cx="977.3" cy="507.7" r="5"/><circle cx="978.3" cy="502.1" r="5"/><circle cx="979.3" cy="504.4" r="5"/><circle cx="980.3" cy="519.0" r="5"/><circle cx="981.3" cy="511.4" r="5"/><circle cx="982.3" cy="509.0" r="5"/><circle cx="983.3" cy="510.6" r="5"/><circle cx="984.3" cy="508.3" r="5"/><circle cx="985.3" cy="516.0" r="5"/><circle cx="986.3" cy="515.5" r="5"/><circle cx="987.3" cy="507.3" r="5"/><circle cx="988.3" cy="511.1" r="5"/><circle cx="989.3" cy="529.0" r="5"/><circle cx="990.3" cy="514.6" r="5"/><circle cx="991.3" cy="511.0" r="5"/><circle cx="992.3" cy="529.6" r="5"/><circle cx="993.3" cy="514.2" r="5"/><circle cx="994.3" cy="506.5" r="5"/><circle cx="995.4" cy="520.5" r="5"/><circle cx="996.4" cy="509.7" r="5"/><circle cx="997.4" cy="513.1" r="5"/><circle cx="998.4" cy="519.4" r="5"/><circle cx="999.4" cy="517.1" r="5"/><circle cx="1000.4" cy="512.4" r="5"/><circle cx="1001.4" cy="515.5" r="5"/><circle cx="1002.4" cy="515.8" r="5"/><circle cx="1003.4" cy="530.3" r="5"/><circle cx="1004.4" cy="515.9" r="5"/><circle cx="1005.4" cy="517.4" r="5"/><circle cx="1006.4" cy="538.4" r="5"/><circle cx="1007.4" cy="516.9" r="5"/><circle cx="1008.4" cy="533.9" r="5"/><circle cx="1009.4" cy="533.5" r="5"/><circle cx="1010.4" cy="521.6" r="5"/><circle cx="1011.4" cy="510.2" r="5"/><circle cx="1012.4" cy="526.9" r="5"/><circle cx="1013.4" cy="530.4" r="5"/><circle cx="1014.4" cy="533.1" r="5"/><circle cx="1015.4" cy="526.5" r="5"/><circle cx="1016.4" cy="536.2" r="5"/><circle cx="1017.4" cy="537.5" r="5"/><circle cx="1018.4" cy="517.9" r="5"/><circle cx="1019.4" cy="539.1" r="5"/><circle cx="1020.4" cy="528.7" r="5"/><circle cx="1021.4" cy="523.3" r="5"/><circle cx="1022.4" cy="524.6" r="5"/><circle cx="1023.4" cy="544.2" r="5"/><circle cx="1024.4" cy="538.1" r="5"/><circle cx="1025.5" cy="517.0" r="5"/><circle cx="1026.5" cy="533.2" r="5"/><circle cx="1027.5" cy="530.4" r="5"/><circle cx="1028.5" cy="531.2" r="5"/><circle cx="1029.5" cy="528.1" r="5"/><circle cx="1030.5" cy="521.7" r="5"/><circle cx="1031.5" cy="541.4" r="5"/><circle cx="1032.5" cy="526.5" r="5"/><circle cx="1033.5" cy="533.7" r="5"/><circle cx="1034.5" cy="530.6" r="5"/><circle cx="1035.5" cy="530.7" r="5"/><circle cx="1036.5" cy="543.5" r="5"/><circle cx="1037.5" cy="541.0" r="5"/><circle cx="1038.5" cy="532.3" r="5"/><circle cx="1039.5" cy="530.4" r="5"/><circle cx="1040.5" cy="534.6" r="5"/><circle cx="1041.5" cy="547.2" r="5"/><circle cx="1042.5" cy="541.4" r="5"/><circle cx="1043.5" cy="542.7" r="5"/><circle cx="1044.5" cy="538.9" r="5"/><circle cx="1045.5" cy="541.0" r="5"/><circle cx="1046.5" cy="546.0" r="5"/><circle cx="1047.5" cy="530.4" r="5"/><circle cx="1048.5" cy="560.1" r="5"/><circle cx="1049.5" cy="541.2" r="5"/><circle cx="1050.5" cy="543.1" r="5"/><circle cx="1051.5" cy="560.2" r="5"/><circle cx="1052.5" cy="552.7" r="5"/><circle cx="1053.5" cy="552.5" r="5"/><circle cx="1054.5" cy="548.1" r="5"/><circle cx="1055.6" cy="540.4" r="5"/><circle cx="1056.6" cy="556.6" r="5"/><circle cx="1057.6" cy="565.3" r="5"/><circle cx="1058.6" cy="546.8" r="5"/><circle cx="1059.6" cy="566.4" r="5"/><circle cx="1060.6" cy="544.9" r="5"/><circle cx="1061.6" cy="547.9" r="5"/><circle cx="1062.6" cy="558.4" r="5"/><circle cx="1063.6" cy="553.7" r="5"/><circle cx="1064.6" cy="560.3" r="5"/><circle cx="1065.6" cy="548.6" r="5"/><circle cx="1066.6" cy="544.7" r="5"/><circle cx="1067.6" cy="537.8" r="5"/><circle cx="1068.6" cy="542.9" r="5"/><circle cx="1069.6" cy="543.9" r="5"/><circle cx="1070.6" cy="541.4" r="5"/><circle cx="1071.6" cy="555.8" r="5"/><circle cx="1072.6" cy="549.6" r="5"/><circle cx="1073.6" cy="538.8" r="5"/><circle cx="1074.6" cy="579.4" r="5"/><circle cx="1075.6" cy="548.7" r="5"/><circle cx="1076.6" cy="546.3" r="5"/><circle cx="1077.6" cy="569.5" r="5"/><circle cx="1078.6" cy="569.1" r="5"/><circle cx="1079.6" cy="549.6" r="5"/><circle cx="1080.6" cy="548.3" r="5"/><circle cx="1081.6" cy="554.5" r="5"/><circle cx="1082.6" cy="573.2" r="5"/><circle cx="1083.6" cy="562.1" r="5"/><circle cx="1084.6" cy="558.3" r="5"/><circle cx="1085.7" cy="565.5" r="5"/><circle cx="1086.7" cy="580.2" r="5"/><circle cx="1087.7" cy="555.8" r="5"/><circle cx="1088.7" cy="565.3" r="5"/><circle cx="1089.7" cy="556.9" r="5"/><circle cx="1090.7" cy="590.7" r="5"/><circle cx="1091.7" cy="587.8" r="5"/><circle cx="1092.7" cy="580.3" r="5"/><circle cx="1093.7" cy="570.8" r="5"/><circle cx="1094.7" cy="578.2" r="5"/><circle cx="1095.7" cy="552.8" r="5"/><circle cx="1096.7" cy="575.7" r="5"/><circle cx="1097.7" cy="562.5" r="5"/><circle cx="1098.7" cy="562.7" r="5"/><circle cx="1099.7" cy="568.9" r="5"/><circle cx="1100.7" cy="573.2" r="5"/><circle cx="1101.7" cy="580.3" r="5"/><circle cx="1102.7" cy="581.7" r="5"/><circle cx="1103.7" cy="579.0" r="5"/><circle cx="1104.7" cy="566.7" r="5"/><circle cx="1105.7" cy="582.8" r="5"/><circle cx="1106.7" cy="578.1" r="5"/><circle cx="1107.7" cy="589.2" r="5"/><circle cx="1108.7" cy="571.8" r="5"/><circle cx="1109.7" cy="554.0" r="5"/><circle cx="1110.7" cy="575.8" r="5"/><circle cx="1111.7" cy="601.8" r="5"/><circle cx="1112.7" cy="587.2" r="5"/><circle cx="1113.7" cy="580.3" r="5"/><circle cx="1114.7" cy="589.7" r="5"/><circle cx="1115.8" cy="585.1" r="5"/><circle cx="1116.8" cy="586.1" r="5"/><circle cx="1117.8" cy="577.3" r="5"/><circle cx="1118.8" cy="582.5" r="5"/><circle cx="1119.8" cy="585.9" r="5"/><circle cx="1120.8" cy="578.4" r="5"/><circle cx="1121.8" cy="572.4" r="5"/><circle cx="1122.8" cy="586.2" r="5"/><circle cx="1123.8" cy="592.2" r="5"/><circle cx="1124.8" cy="592.1" r="5"/><circle cx="1125.8" cy="588.8" r="5"/><circle cx="1126.8" cy="589.1" r="5"/><circle cx="1127.8" cy="607.6" r="5"/><circle cx="1128.8" cy="586.7" r="5"/><circle cx="1129.8" cy="595.2" r="5"/><circle cx="1130.8" cy="605.2" r="5"/><circle cx="1131.8" cy="587.0" r="5"/><circle cx="1132.8" cy="589.6" r="5"/><circle cx="1133.8" cy="596.7" r="5"/><circle cx="1134.8" cy="603.8" r="5"/><circle cx="1135.8" cy="590.5" r="5"/><circle cx="1136.8" cy="592.1" r="5"/><circle cx="1137.8" cy="589.8" r="5"/><circle cx="1138.8" cy="578.6" r="5"/><circle cx="1139.8" cy="600.5" r="5"/><circle cx="1140.8" cy="590.7" r="5"/><circle cx="1141.8" cy="575.5" r="5"/><circle cx="1142.8" cy="591.3" r="5"/><circle cx="1143.8" cy="577.9" r="5"/><circle cx="1144.8" cy="585.0" r="5"/><circle cx="1145.9" cy="595.0" r="5"/><circle cx="1146.9" cy="586.6" r="5"/><circle cx="1147.9" cy="605.6" r="5"/><circle cx="1148.9" cy="580.5" r="5"/><circle cx="1149.9" cy="595.8" r="5"/><circle cx="1150.9" cy="599.9" r="5"/><circle cx="1151.9" cy="608.7" r="5"/><circle cx="1152.9" cy="604.6" r="5"/><circle cx="1153.9" cy="599.3" r="5"/><circle cx="1154.9" cy="597.0" r="5"/><circle cx="1155.9" cy="596.0" r="5"/><circle cx="1156.9" cy="609.8" r="5"/><circle cx="1157.9" cy="592.5" r="5"/><circle cx="1158.9" cy="604.1" r="5"/><circle cx="1159.9" cy="599.1" r="5"/><circle cx="1160.9" cy="603.7" r="5"/><circle cx="1161.9" cy="599.5" r="5"/><circle cx="1162.9" cy="623.2" r="5"/><circle cx="1163.9" cy="599.5" r="5"/><circle cx="1164.9" cy="609.6" r="5"/><circle cx="1165.9" cy="609.9" r="5"/><circle cx="1166.9" cy="612.8" r="5"/><circle cx="1167.9" cy="611.7" r="5"/><circle cx="1168.9" cy="612.0" r="5"/><circle cx="1169.9" cy="619.0" r="5"/><circle cx="1170.9" cy="595.6" r="5"/><circle cx="1171.9" cy="610.4" r="5"/><circle cx="1172.9" cy="598.8" r="5"/><circle cx="1173.9" cy="610.8" r="5"/><circle cx="1174.9" cy="597.4" r="5"/><circle cx="1176.0" cy="599.7" r="5"/><circle cx="1177.0" cy="608.2" r="5"/><circle cx="1178.0" cy="623.6" r="5"/><circle cx="1179.0" cy="615.3" r="5"/><circle cx="1180.0" cy="614.6" r="5"/><circle cx="1181.0" cy="627.7" r="5"/><circle cx="1182.0" cy="606.1" r="5"/><circle cx="1183.0" cy="594.3" r="5"/><circle cx="1184.0" cy="611.3" r="5"/><circle cx="1185.0" cy="612.2" r="5"/><circle cx="1186.0" cy="627.2" r="5"/><circle cx="1187.0" cy="636.8" r="5"/><circle cx="1188.0" cy="602.5" r="5"/><circle cx="1189.0" cy="643.3" r="5"/><circle cx="1190.0" cy="634.8" r="5"/><circle cx="1191.0" cy="627.7" r="5"/><circle cx="1192.0" cy="625.3" r="5"/><circle cx="1193.0" cy="649.7" r="5"/><circle cx="1194.0" cy="626.8" r="5"/><circle cx="1195.0" cy="621.7" r="5"/><circle cx="1196.0" cy="627.0" r="5"/><circle cx="1197.0" cy="611.1" r="5"/><circle cx="1198.0" cy="632.6" r="5"/><circle cx="1199.0" cy="626.7" r="5"/><circle cx="1200.0" cy="633.1" r="5"/><circle cx="1201.0" cy="633.2" r="5"/><circle cx="1202.0" cy="619.6" r="5"/><circle cx="1203.0" cy="644.6" r="5"/><circle cx="1204.0" cy="622.1" r="5"/><circle cx="1205.0" cy="641.1" r="5"/><circle cx="1206.1" cy="616.8" r="5"/><circle cx="1207.1" cy="637.3" r="5"/><circle cx="1208.1" cy="622.4" r="5"/><circle cx="1209.1" cy="630.5" r="5"/><circle cx="1210.1" cy="624.1" r="5"/><circle cx="1211.1" cy="609.2" r="5"/><circle cx="1212.1" cy="621.8" r="5"/><circle cx="1213.1" cy="630.8" r="5"/><circle cx="1214.1" cy="637.4" r="5"/><circle cx="1215.1" cy="615.1" r="5"/><circle cx="1216.1" cy="607.8" r="5"/><circle cx="1217.1" cy="621.0" r="5"/><circle cx="1218.1" cy="629.3" r="5"/><circle cx="1219.1" cy="623.8" r="5"/><circle cx="1220.1" cy="622.6" r="5"/><circle cx="1221.1" cy="639.8" r="5"/><circle cx="1222.1" cy="640.2" r="5"/><circle cx="1223.1" cy="638.2" r="5"/><circle cx="1224.1" cy="623.8" r="5"/><circle cx="1225.1" cy="634.1" r="5"/><circle cx="1226.1" cy="631.2" r="5"/><circle cx="1227.1" cy="617.6" r="5"/><circle cx="1228.1" cy="645.8" r="5"/><circle cx="1229.1" cy="639.8" r="5"/><circle cx="1230.1" cy="635.0" r="5"/><circle cx="1231.1" cy="656.7" r="5"/><circle cx="1232.1" cy="651.1" r="5"/><circle cx="1233.1" cy="650.6" r="5"/><circle cx="1234.1" cy="655.5" r="5"/><circle cx="1235.1" cy="653.0" r="5"/><circle cx="1236.2" cy="632.7" r="5"/><circle cx="1237.2" cy="642.1" r="5"/><circle cx="1238.2" cy="657.2" r="5"/><circle cx="1239.2" cy="636.6" r="5"/><circle cx="1240.2" cy="645.6" r="5"/><circle cx="1241.2" cy="649.5" r="5"/><circle cx="1242.2" cy="660.3" r="5"/><circle cx="1243.2" cy="656.8" r="5"/><circle cx="1244.2" cy="652.7" r="5"/><circle cx="1245.2" cy="642.4" r="5"/><circle cx="1246.2" cy="653.7" r="5"/><circle cx="1247.2" cy="649.2" r="5"/><circle cx="1248.2" cy="643.8" r="5"/><circle cx="1249.2" cy="660.9" r="5"/><circle cx="1250.2" cy="649.6" r="5"/><circle cx="1251.2" cy="637.7" r="5"/><circle cx="1252.2" cy="659.8" r="5"/><circle cx="1253.2" cy="646.0" r="5"/><circle cx="1254.2" cy="655.0" r="5"/><circle cx="1255.2" cy="633.3" r="5"/><circle cx="1256.2" cy="650.0" r="5"/><circle cx="1257.2" cy="640.3" r="5"/><circle cx="1258.2" cy="642.2" r="5"/><circle cx="1259.2" cy="630.8" r="5"/><circle cx="1260.2" cy="674.6" r="5"/><circle cx="1261.2" cy="651.0" r="5"/><circle cx="1262.2" cy="656.4" r="5"/><circle cx="1263.2" cy="666.7" r="5"/><circle cx="1264.2" cy="655.0" r="5"/><circle cx="1265.2" cy="664.4" r="5"/><circle cx="1266.3" cy="643.2" r="5"/><circle cx="1267.3" cy="659.1" r="5"/><circle cx="1268.3" cy="652.5" r="5"/><circle cx="1269.3" cy="663.1" r="5"/><circle cx="1270.3" cy="659.7" r="5"/><circle cx="1271.3" cy="643.9" r="5"/><circle cx="1272.3" cy="639.6" r="5"/><circle cx="1273.3" cy="647.1" r="5"/><circle cx="1274.3" cy="665.9" r="5"/><circle cx="1275.3" cy="661.9" r="5"/><circle cx="1276.3" cy="662.1" r="5"/><circle cx="1277.3" cy="636.1" r="5"/><circle cx="1278.3" cy="629.5" r="5"/><circle cx="1279.3" cy="650.5" r="5"/><circle cx="1280.3" cy="653.0" r="5"/><circle cx="1281.3" cy="653.4" r="5"/><circle cx="1282.3" cy="666.5" r="5"/><circle cx="1283.3" cy="661.3" r="5"/><circle cx="1284.3" cy="649.5" r="5"/><circle cx="1285.3" cy="652.1" r="5"/><circle cx="1286.3" cy="663.7" r="5"/><circle cx="1287.3" cy="664.1" r="5"/><circle cx="1288.3" cy="665.7" r="5"/><circle cx="1289.3" cy="692.8" r="5"/><circle cx="1290.3" cy="666.7" r="5"/><circle cx="1291.3" cy="670.6" r="5"/><circle cx="1292.3" cy="657.4" r="5"/><circle cx="1293.3" cy="663.0" r="5"/><circle cx="1294.3" cy="673.5" r="5"/><circle cx="1295.3" cy="674.8" r="5"/><circle cx="1296.4" cy="666.3" r="5"/><circle cx="1297.4" cy="672.2" r="5"/><circle cx="1298.4" cy="669.7" r="5"/><circle cx="1299.4" cy="649.7" r="5"/><circle cx="1300.4" cy="636.0" r="5"/><circle cx="1301.4" cy="698.0" r="5"/><circle cx="1302.4" cy="684.2" r="5"/><circle cx="1303.4" cy="672.9" r="5"/><circle cx="1304.4" cy="655.0" r="5"/><circle cx="1305.4" cy="659.7" r="5"/><circle cx="1306.4" cy="690.6" r="5"/><circle cx="1307.4" cy="646.5" r="5"/><circle cx="1308.4" cy="674.3" r="5"/><circle cx="1309.4" cy="688.2" r="5"/><circle cx="1310.4" cy="680.8" r="5"/><circle cx="1311.4" cy="688.3" r="5"/><circle cx="1312.4" cy="677.7" r="5"/><circle cx="1313.4" cy="706.2" r="5"/><circle cx="1314.4" cy="669.5" r="5"/><circle cx="1315.4" cy="667.8" r="5"/><circle cx="1316.4" cy="687.7" r="5"/><circle cx="1317.4" cy="699.3" r="5"/><circle cx="1318.4" cy="682.8" r="5"/><circle cx="1319.4" cy="697.6" r="5"/><circle cx="1320.4" cy="681.7" r="5"/><circle cx="1321.4" cy="675.0" r="5"/><circle cx="1322.4" cy="703.7" r="5"/><circle cx="1323.4" cy="706.6" r="5"/><circle cx="1324.4" cy="707.8" r="5"/><circle cx="1325.4" cy="686.8" r="5"/><circle cx="1326.5" cy="677.9" r="5"/><circle cx="1327.5" cy="680.4" r="5"/><circle cx="1328.5" cy="691.0" r="5"/><circle cx="1329.5" cy="700.1" r="5"/><circle cx="1330.5" cy="698.9" r="5"/><circle cx="1331.5" cy="676.0" r="5"/><circle cx="1332.5" cy="696.0" r="5"/><circle cx="1333.5" cy="694.5" r="5"/><circle cx="1334.5" cy="693.9" r="5"/><circle cx="1335.5" cy="691.1" r="5"/><circle cx="1336.5" cy="689.4" r="5"/><circle cx="1337.5" cy="697.9" r="5"/><circle cx="1338.5" cy="693.3" r="5"/><circle cx="1339.5" cy="691.9" r="5"/><circle cx="1340.5" cy="681.3" r="5"/><circle cx="1341.5" cy="695.6" r="5"/><circle cx="1342.5" cy="689.5" r="5"/><circle cx="1343.5" cy="668.1" r="5"/><circle cx="1344.5" cy="698.1" r="5"/><circle cx="1345.5" cy="690.6" r="5"/><circle cx="1346.5" cy="706.3" r="5"/><circle cx="1347.5" cy="692.5" r="5"/><circle cx="1348.5" cy="693.6" r="5"/><circle cx="1349.5" cy="696.7" r="5"/><circle cx="1350.5" cy="696.1" r="5"/><circle cx="1351.5" cy="691.4" r="5"/><circle cx="1352.5" cy="675.6" r="5"/><circle cx="1353.5" cy="718.2" r="5"/><circle cx="1354.5" cy="681.5" r="5"/><circle cx="1355.5" cy="695.3" r="5"/><circle cx="1356.6" cy="707.5" r="5"/><circle cx="1357.6" cy="704.0" r="5"/><circle cx="1358.6" cy="706.6" r="5"/><circle cx="1359.6" cy="710.9" r="5"/><circle cx="1360.6" cy="715.4" r="5"/><circle cx="1361.6" cy="704.3" r="5"/><circle cx="1362.6" cy="736.8" r="5"/><circle cx="1363.6" cy="692.3" r="5"/><circle cx="1364.6" cy="706.1" r="5"/><circle cx="1365.6" cy="699.3" r="5"/><circle cx="1366.6" cy="698.1" r="5"/><circle cx="1367.6" cy="710.3" r="5"/><circle cx="1368.6" cy="725.5" r="5"/><circle cx="1369.6" cy="701.2" r="5"/><circle cx="1370.6" cy="702.9" r="5"/><circle cx="1371.6" cy="719.5" r="5"/><circle cx="1372.6" cy="717.4" r="5"/><circle cx="1373.6" cy="733.3" r="5"/><circle cx="1374.6" cy="721.8" r="5"/><circle cx="1375.6" cy="711.0" r="5"/><circle cx="1376.6" cy="702.1" r="5"/><circle cx="1377.6" cy="708.9" r="5"/><circle cx="1378.6" cy="704.9" r="5"/><circle cx="1379.6" cy="692.8" r="5"/><circle cx="1380.6" cy="708.5" r="5"/><circle cx="1381.6" cy="705.7" r="5"/><circle cx="1382.6" cy="706.5" r="5"/><circle cx="1383.6" cy="703.0" r="5"/><circle cx="1384.6" cy="727.9" r="5"/><circle cx="1385.6" cy="717.9" r="5"/><circle cx="1386.7" cy="720.7" r="5"/><circle cx="1387.7" cy="703.4" r="5"/><circle cx="1388.7" cy="700.1" r="5"/><circle cx="1389.7" cy="708.4" r="5"/><circle cx="1390.7" cy="717.9" r="5"/><circle cx="1391.7" cy="712.0" r="5"/><circle cx="1392.7" cy="712.9" r="5"/><circle cx="1393.7" cy="726.9" r="5"/><circle cx="1394.7" cy="719.7" r="5"/><circle cx="1395.7" cy="706.3" r="5"/><circle cx="1396.7" cy="714.3" r="5"/><circle cx="1397.7" cy="711.5" r="5"/><circle cx="1398.7" cy="723.3" r="5"/><circle cx="1399.7" cy="709.7" r="5"/><circle cx="1400.7" cy="721.3" r="5"/><circle cx="1401.7" cy="733.1" r="5"/><circle cx="1402.7" cy="725.5" r="5"/><circle cx="1403.7" cy="712.4" r="5"/><circle cx="1404.7" cy="718.7" r="5"/><circle cx="1405.7" cy="727.7" r="5"/><circle cx="1406.7" cy="734.5" r="5"/><circle cx="1407.7" cy="738.3" r="5"/><circle cx="1408.7" cy="730.1" r="5"/><circle cx="1409.7" cy="714.9" r="5"/><circle cx="1410.7" cy="748.8" r="5"/><circle cx="1411.7" cy="736.2" r="5"/><circle cx="1412.7" cy="736.4" r="5"/><circle cx="1413.7" cy="733.8" r="5"/><circle cx="1414.7" cy="714.1" r="5"/><circle cx="1415.7" cy="721.3" r="5"/><circle cx="1416.8" cy="726.2" r="5"/><circle cx="1417.8" cy="736.7" r="5"/><circle cx="1418.8" cy="726.6" r="5"/><circle cx="1419.8" cy="686.9" r="5"/><circle cx="1420.8" cy="724.1" r="5"/><circle cx="1421.8" cy="732.4" r="5"/><circle cx="1422.8" cy="746.4" r="5"/><circle cx="1423.8" cy="736.8" r="5"/><circle cx="1424.8" cy="760.3" r="5"/><circle cx="1425.8" cy="747.1" r="5"/><circle cx="1426.8" cy="747.0" r="5"/><circle cx="1427.8" cy="744.0" r="5"/><circle cx="1428.8" cy="715.7" r="5"/><circle cx="1429.8" cy="745.8" r="5"/><circle cx="1430.8" cy="745.2" r="5"/><circle cx="1431.8" cy="733.2" r="5"/><circle cx="1432.8" cy="747.8" r="5"/><circle cx="1433.8" cy="745.8" r="5"/><circle cx="1434.8" cy="736.9" r="5"/><circle cx="1435.8" cy="741.6" r="5"/><circle cx="1436.8" cy="737.5" r="5"/><circle cx="1437.8" cy="744.0" r="5"/><circle cx="1438.8" cy="737.2" r="5"/><circle cx="1439.8" cy="749.7" r="5"/><circle cx="1440.8" cy="720.4" r="5"/><circle cx="1441.8" cy="740.5" r="5"/><circle cx="1442.8" cy="723.6" r="5"/><circle cx="1443.8" cy="739.6" r="5"/><circle cx="1444.8" cy="753.3" r="5"/><circle cx="1445.8" cy="747.4" r="5"/><circle cx="1446.9" cy="745.1" r="5"/><circle cx="1447.9" cy="746.6" r="5"/><circle cx="1448.9" cy="765.3" r="5"/><circle cx="1449.9" cy="731.9" r="5"/><circle cx="1450.9" cy="757.0" r="5"/><circle cx="1451.9" cy="728.6" r="5"/><circle cx="1452.9" cy="742.8" r="5"/><circle cx="1453.9" cy="750.1" r="5"/><circle cx="1454.9" cy="737.2" r="5"/><circle cx="1455.9" cy="751.3" r="5"/><circle cx="1456.9" cy="757.8" r="5"/><circle cx="1457.9" cy="734.5" r="5"/><circle cx="1458.9" cy="749.6" r="5"/><circle cx="1459.9" cy="746.0" r="5"/><circle cx="1460.9" cy="725.5" r="5"/><circle cx="1461.9" cy="750.1" r="5"/><circle cx="1462.9" cy="743.6" r="5"/><circle cx="1463.9" cy="774.5" r="5"/><circle cx="1464.9" cy="746.9" r="5"/><circle cx="1465.9" cy="779.3" r="5"/><circle cx="1466.9" cy="750.6" r="5"/><circle cx="1467.9" cy="783.9" r="5"/><circle cx="1468.9" cy="765.7" r="5"/><circle cx="1469.9" cy="765.2" r="5"/><circle cx="1470.9" cy="768.9" r="5"/><circle cx="1471.9" cy="768.5" r="5"/><circle cx="1472.9" cy="774.6" r="5"/><circle cx="1473.9" cy="779.1" r="5"/><circle cx="1474.9" cy="752.1" r="5"/><circle cx="1475.9" cy="741.0" r="5"/><circle cx="1477.0" cy="723.1" r="5"/><circle cx="1478.0" cy="756.1" r="5"/><circle cx="1479.0" cy="770.3" r="5"/><circle cx="1480.0" cy="764.1" r="5"/><circle cx="1481.0" cy="761.8" r="5"/><circle cx="1482.0" cy="756.2" r="5"/><circle cx="1483.0" cy="751.7" r="5"/><circle cx="1484.0" cy="757.7" r="5"/><circle cx="1485.0" cy="766.8" r="5"/><circle cx="1486.0" cy="738.3" r="5"/><circle cx="1487.0" cy="775.0" r="5"/><circle cx="1488.0" cy="746.4" r="5"/><circle cx="1489.0" cy="764.7" r="5"/><circle cx="1490.0" cy="758.2" r="5"/><circle cx="1491.0" cy="762.5" r="5"/><circle cx="1492.0" cy="750.9" r="5"/><circle cx="1493.0" cy="748.4" r="5"/><circle cx="1494.0" cy="761.0" r="5"/><circle cx="1495.0" cy="749.4" r="5"/><circle cx="1496.0" cy="799.3" r="5"/><circle cx="1497.0" cy="760.2" r="5"/><circle cx="1498.0" cy="758.8" r="5"/><circle cx="1499.0" cy="760.4" r="5"/><circle cx="1500.0" cy="755.4" r="5"/><circle cx="1501.0" cy="737.6" r="5"/><circle cx="1502.0" cy="767.6" r="5"/><circle cx="1503.0" cy="776.5" r="5"/><circle cx="1504.0" cy="751.2" r="5"/><circle cx="1505.0" cy="772.2" r="5"/><circle cx="1506.0" cy="755.4" r="5"/><circle cx="1507.1" cy="774.9" r="5"/><circle cx="1508.1" cy="782.8" r="5"/><circle cx="1509.1" cy="784.4" r="5"/><circle cx="1510.1" cy="781.6" r="5"/><circle cx="1511.1" cy="764.6" r="5"/><circle cx="1512.1" cy="785.4" r="5"/><circle cx="1513.1" cy="766.1" r="5"/><circle cx="1514.1" cy="778.0" r="5"/><circle cx="1515.1" cy="781.6" r="5"/><circle cx="1516.1" cy="768.0" r="5"/><circle cx="1517.1" cy="752.6" r="5"/><circle cx="1518.1" cy="777.7" r="5"/><circle cx="1519.1" cy="754.2" r="5"/><circle cx="1520.1" cy="759.7" r="5"/><circle cx="1521.1" cy="758.7" r="5"/><circle cx="1522.1" cy="784.7" r="5"/><circle cx="1523.1" cy="767.9" r="5"/><circle cx="1524.1" cy="740.2" r="5"/><circle cx="1525.1" cy="785.0" r="5"/><circle cx="1526.1" cy="802.9" r="5"/><circle cx="1527.1" cy="801.3" r="5"/><circle cx="1528.1" cy="771.6" r="5"/><circle cx="1529.1" cy="780.9" r="5"/><circle cx="1530.1" cy="788.7" r="5"/><circle cx="1531.1" cy="795.2" r="5"/><circle cx="1532.1" cy="784.5" r="5"/><circle cx="1533.1" cy="770.0" r="5"/><circle cx="1534.1" cy="797.5" r="5"/><circle cx="1535.1" cy="795.0" r="5"/><circle cx="1536.1" cy="767.8" r="5"/><circle cx="1537.2" cy="783.6" r="5"/><circle cx="1538.2" cy="791.3" r="5"/><circle cx="1539.2" cy="788.4" r="5"/><circle cx="1540.2" cy="794.8" r="5"/><circle cx="1541.2" cy="801.2" r="5"/><circle cx="1542.2" cy="797.3" r="5"/><circle cx="1543.2" cy="785.5" r="5"/><circle cx="1544.2" cy="769.7" r="5"/><circle cx="1545.2" cy="797.6" r="5"/><circle cx="1546.2" cy="808.9" r="5"/><circle cx="1547.2" cy="818.5" r="5"/><circle cx="1548.2" cy="789.6" r="5"/><circle cx="1549.2" cy="789.7" r="5"/><circle cx="1550.2" cy="808.3" r="5"/><circle cx="1551.2" cy="806.9" r="5"/><circle cx="1552.2" cy="790.5" r="5"/><circle cx="1553.2" cy="799.3" r="5"/><circle cx="1554.2" cy="779.7" r="5"/><circle cx="1555.2" cy="799.0" r="5"/><circle cx="1556.2" cy="781.4" r="5"/><circle cx="1557.2" cy="792.5" r="5"/><circle cx="1558.2" cy="794.8" r="5"/><circle cx="1559.2" cy="788.6" r="5"/><circle cx="1560.2" cy="764.8" r="5"/><circle cx="1561.2" cy="785.7" r="5"/><circle cx="1562.2" cy="802.9" r="5"/><circle cx="1563.2" cy="797.5" r="5"/><circle cx="1564.2" cy="794.6" r="5"/><circle cx="1565.2" cy="811.6" r="5"/><circle cx="1566.2" cy="815.1" r="5"/><circle cx="1567.3" cy="818.0" r="5"/><circle cx="1568.3" cy="793.6" r="5"/><circle cx="1569.3" cy="806.6" r="5"/><circle cx="1570.3" cy="805.9" r="5"/><circle cx="1571.3" cy="796.2" r="5"/><circle cx="1572.3" cy="788.0" r="5"/><circle cx="1573.3" cy="809.2" r="5"/><circle cx="1574.3" cy="800.4" r="5"/><circle cx="1575.3" cy="845.3" r="5"/><circle cx="1576.3" cy="812.2" r="5"/><circle cx="1577.3" cy="810.3" r="5"/><circle cx="1578.3" cy="805.3" r="5"/><circle cx="1579.3" cy="836.0" r="5"/><circle cx="1580.3" cy="793.5" r="5"/><circle cx="1581.3" cy="808.1" r="5"/><circle cx="1582.3" cy="797.2" r="5"/><circle cx="1583.3" cy="805.0" r="5"/><circle cx="1584.3" cy="804.6" r="5"/><circle cx="1585.3" cy="814.9" r="5"/><circle cx="1586.3" cy="779.0" r="5"/><circle cx="1587.3" cy="800.8" r="5"/><circle cx="1588.3" cy="820.9" r="5"/><circle cx="1589.3" cy="789.5" r="5"/><circle cx="1590.3" cy="795.1" r="5"/><circle cx="1591.3" cy="785.7" r="5"/><circle cx="1592.3" cy="761.6" r="5"/><circle cx="1593.3" cy="802.2" r="5"/><circle cx="1594.3" cy="823.5" r="5"/><circle cx="1595.3" cy="800.4" r="5"/><circle cx="1596.3" cy="779.7" r="5"/><circle cx="1597.4" cy="814.3" r="5"/><circle cx="1598.4" cy="812.4" r="5"/><circle cx="1599.4" cy="827.3" r="5"/><circle cx="1600.4" cy="830.5" r="5"/><circle cx="1601.4" cy="814.8" r="5"/><circle cx="1602.4" cy="824.1" r="5"/><circle cx="1603.4" cy="795.1" r="5"/><circle cx="1604.4" cy="837.5" r="5"/><circle cx="1605.4" cy="825.2" r="5"/><circle cx="1606.4" cy="837.2" r="5"/><circle cx="1607.4" cy="836.2" r="5"/><circle cx="1608.4" cy="818.6" r="5"/><circle cx="1609.4" cy="823.1" r="5"/><circle cx="1610.4" cy="811.0" r="5"/><circle cx="1611.4" cy="792.0" r="5"/><circle cx="1612.4" cy="822.9" r="5"/><circle cx="1613.4" cy="828.4" r="5"/><circle cx="1614.4" cy="813.0" r="5"/><circle cx="1615.4" cy="840.5" r="5"/><circle cx="1616.4" cy="830.6" r="5"/><circle cx="1617.4" cy="834.8" r="5"/><circle cx="1618.4" cy="816.8" r="5"/><circle cx="1619.4" cy="804.2" r="5"/><circle cx="1620.4" cy="843.0" r="5"/><circle cx="1621.4" cy="840.5" r="5"/><circle cx="1622.4" cy="833.8" r="5"/><circle cx="1623.4" cy="828.5" r="5"/><circle cx="1624.4" cy="828.7" r="5"/><circle cx="1625.4" cy="831.1" r="5"/><circle cx="1626.4" cy="826.7" r="5"/><circle cx="1627.5" cy="804.5" r="5"/><circle cx="1628.5" cy="847.8" r="5"/><circle cx="1629.5" cy="809.9" r="5"/><circle cx="1630.5" cy="827.3" r="5"/><circle cx="1631.5" cy="828.5" r="5"/><circle cx="1632.5" cy="839.1" r="5"/><circle cx="1633.5" cy="811.8" r="5"/><circle cx="1634.5" cy="855.0" r="5"/><circle cx="1635.5" cy="845.7" r="5"/><circle cx="1636.5" cy="849.5" r="5"/><circle cx="1637.5" cy="855.8" r="5"/><circle cx="1638.5" cy="821.9" r="5"/><circle cx="1639.5" cy="787.3" r="5"/><circle cx="1640.5" cy="846.7" r="5"/><circle cx="1641.5" cy="862.3" r="5"/></g>
<g fill="url(#gB)"><circle cx="288.0" cy="60.1" r="5"/><circle cx="289.0" cy="59.3" r="5"/><circle cx="290.0" cy="62.1" r="5"/><circle cx="291.0" cy="61.9" r="5"/><circle cx="292.0" cy="64.3" r="5"/><circle cx="293.0" cy="64.3" r="5"/><circle cx="294.0" cy="63.9" r="5"/><circle cx="295.0" cy="67.4" r="5"/><circle cx="296.0" cy="67.1" r="5"/><circle cx="297.0" cy="67.0" r="5"/><circle cx="298.0" cy="69.1" r="5"/><circle cx="299.0" cy="69.0" r="5"/><circle cx="300.0" cy="71.5" r="5"/><circle cx="301.0" cy="71.9" r="5"/><circle cx="302.0" cy="72.3" r="5"/><circle cx="303.1" cy="74.4" r="5"/><circle cx="304.1" cy="73.0" r="5"/><circle cx="305.1" cy="76.7" r="5"/><circle cx="306.1" cy="74.0" r="5"/><circle cx="307.1" cy="79.6" r="5"/><circle cx="308.1" cy="78.7" r="5"/><circle cx="309.1" cy="79.2" r="5"/><circle cx="310.1" cy="79.3" r="5"/><circle cx="311.1" cy="81.8" r="5"/><circle cx="312.1" cy="82.1" r="5"/><circle cx="313.1" cy="82.9" r="5"/><circle cx="314.1" cy="85.2" r="5"/><circle cx="315.1" cy="84.3" r="5"/><circle cx="316.1" cy="85.8" r="5"/><circle cx="317.1" cy="87.9" r="5"/><circle cx="318.1" cy="90.2" r="5"/><circle cx="319.1" cy="89.5" r="5"/><circle cx="320.1" cy="90.7" r="5"/><circle cx="321.1" cy="91.9" r="5"/><circle cx="322.1" cy="93.7" r="5"/><circle cx="323.1" cy="95.9" r="5"/><circle cx="324.1" cy="93.3" r="5"/><circle cx="325.1" cy="95.3" r="5"/><circle cx="326.1" cy="96.6" r="5"/><circle cx="327.1" cy="98.4" r="5"/><circle cx="328.1" cy="100.9" r="5"/><circle cx="329.1" cy="99.6" r="5"/><circle cx="330.1" cy="100.8" r="5"/><circle cx="331.1" cy="103.0" r="5"/><circle cx="332.1" cy="100.2" r="5"/><circle cx="333.2" cy="101.8" r="5"/><circle cx="334.2" cy="103.1" r="5"/><circle cx="335.2" cy="105.0" r="5"/><circle cx="336.2" cy="106.0" r="5"/><circle cx="337.2" cy="105.9" r="5"/><circle cx="338.2" cy="110.4" r="5"/><circle cx="339.2" cy="107.4" r="5"/><circle cx="340.2" cy="109.3" r="5"/><circle cx="341.2" cy="112.6" r="5"/><circle cx="342.2" cy="112.8" r="5"/><circle cx="343.2" cy="112.3" r="5"/><circle cx="344.2" cy="114.0" r="5"/><circle cx="345.2" cy="115.9" r="5"/><circle cx="346.2" cy="115.4" r="5"/><circle cx="347.2" cy="117.8" r="5"/><circle cx="348.2" cy="116.1" r="5"/><circle cx="349.2" cy="118.9" r="5"/><circle cx="350.2" cy="116.7" r="5"/><circle cx="351.2" cy="119.5" r="5"/><circle cx="352.2" cy="119.9" r="5"/><circle cx="353.2" cy="125.8" r="5"/><circle cx="354.2" cy="123.6" r="5"/><circle cx="355.2" cy="126.0" r="5"/><circle cx="356.2" cy="124.3" r="5"/><circle cx="357.2" cy="126.9" r="5"/><circle cx="358.2" cy="127.6" r="5"/><circle cx="359.2" cy="127.3" r="5"/><circle cx="360.2" cy="131.7" r="5"/><circle cx="361.2" cy="127.5" r="5"/><circle cx="362.2" cy="133.1" r="5"/><circle cx="363.3" cy="137.8" r="5"/><circle cx="364.3" cy="131.5" r="5"/><circle cx="365.3" cy="134.0" r="5"/><circle cx="366.3" cy="131.2" r="5"/><circle cx="367.3" cy="135.5" r="5"/><circle cx="368.3" cy="132.7" r="5"/><circle cx="369.3" cy="138.9" r="5"/><circle cx="370.3" cy="137.8" r="5"/><circle cx="371.3" cy="135.9" r="5"/><circle cx="372.3" cy="138.3" r="5"/><circle cx="373.3" cy="138.7" r="5"/><circle cx="374.3" cy="142.4" r="5"/><circle cx="375.3" cy="145.8" r="5"/><circle cx="376.3" cy="143.7" r="5"/><circle cx="377.3" cy="142.9" r="5"/><circle cx="378.3" cy="145.0" r="5"/><circle cx="379.3" cy="148.3" r="5"/><circle cx="380.3" cy="143.4" r="5"/><circle cx="381.3" cy="151.3" r="5"/><circle cx="382.3" cy="151.8" r="5"/><circle cx="383.3" cy="146.3" r="5"/><circle cx="384.3" cy="155.2" r="5"/><circle cx="385.3" cy="149.4" r="5"/><circle cx="386.3" cy="153.8" r="5"/><circle cx="387.3" cy="157.5" r="5"/><circle cx="388.3" cy="152.0" r="5"/><circle cx="389.3" cy="152.6" r="5"/><circle cx="390.3" cy="155.1" r="5"/><circle cx="391.3" cy="156.2" r="5"/><circle cx="392.3" cy="159.4" r="5"/><circle cx="393.4" cy="159.2" r="5"/><circle cx="394.4" cy="160.0" r="5"/><circle cx="395.4" cy="161.1" r="5"/><circle cx="396.4" cy="162.8" r="5"/><circle cx="397.4" cy="162.5" r="5"/><circle cx="398.4" cy="165.8" r="5"/><circle cx="399.4" cy="166.0" r="5"/><circle cx="400.4" cy="165.0" r="5"/><circle cx="401.4" cy="172.5" r="5"/><circle cx="402.4" cy="166.0" r="5"/><circle cx="403.4" cy="171.4" r="5"/><circle cx="404.4" cy="168.8" r="5"/><circle cx="405.4" cy="172.7" r="5"/><circle cx="406.4" cy="174.2" r="5"/><circle cx="407.4" cy="175.7" r="5"/><circle cx="408.4" cy="178.1" r="5"/><circle cx="409.4" cy="173.5" r="5"/><circle cx="410.4" cy="183.6" r="5"/><circle cx="411.4" cy="178.4" r="5"/><circle cx="412.4" cy="176.0" r="5"/><circle cx="413.4" cy="175.5" r="5"/><circle cx="414.4" cy="185.5" r="5"/><circle cx="415.4" cy="183.7" r="5"/><circle cx="416.4" cy="180.5" r="5"/><circle cx="417.4" cy="183.4" r="5"/><circle cx="418.4" cy="185.9" r="5"/><circle cx="419.4" cy="184.1" r="5"/><circle cx="420.4" cy="183.3" r="5"/><circle cx="421.4" cy="184.9" r="5"/><circle cx="422.4" cy="187.9" r="5"/><circle cx="423.5" cy="186.6" r="5"/><circle cx="424.5" cy="184.2" r="5"/><circle cx="425.5" cy="189.7" r="5"/><circle cx="426.5" cy="184.1" r="5"/><circle cx="427.5" cy="187.7" r="5"/><circle cx="428.5" cy="193.9" r="5"/><circle cx="429.5" cy="192.5" r="5"/><circle cx="430.5" cy="193.7" r="5"/><circle cx="431.5" cy="194.2" r="5"/><circle cx="432.5" cy="197.5" r="5"/><circle cx="433.5" cy="195.6" r="5"/><circle cx="434.5" cy="191.0" r="5"/><circle cx="435.5" cy="197.7" r="5"/><circle cx="436.5" cy="190.0" r="5"/><circle cx="437.5" cy="193.9" r="5"/><circle cx="438.5" cy="204.6" r="5"/><circle cx="439.5" cy="203.9" r="5"/><circle cx="440.5" cy="200.7" r="5"/><circle cx="441.5" cy="202.8" r="5"/><circle cx="442.5" cy="203.7" r="5"/><circle cx="443.5" cy="207.1" r="5"/><circle cx="444.5" cy="203.4" r="5"/><circle cx="445.5" cy="204.1" r="5"/><circle cx="446.5" cy="206.1" r="5"/><circle cx="447.5" cy="208.9" r="5"/><circle cx="448.5" cy="209.8" r="5"/><circle cx="449.5" cy="209.2" r="5"/><circle cx="450.5" cy="213.3" r="5"/><circle cx="451.5" cy="209.4" r="5"/><circle cx="452.5" cy="212.3" r="5"/><circle cx="453.6" cy="211.2" r="5"/><circle cx="454.6" cy="211.5" r="5"/><circle cx="455.6" cy="218.8" r="5"/><circle cx="456.6" cy="215.7" r="5"/><circle cx="457.6" cy="214.9" r="5"/><circle cx="458.6" cy="218.8" r="5"/><circle cx="459.6" cy="216.9" r="5"/><circle cx="460.6" cy="222.2" r="5"/><circle cx="461.6" cy="223.7" r="5"/><circle cx="462.6" cy="225.0" r="5"/><circle cx="463.6" cy="220.7" r="5"/><circle cx="464.6" cy="223.8" r="5"/><circle cx="465.6" cy="229.8" r="5"/><circle cx="466.6" cy="224.5" r="5"/><circle cx="467.6" cy="229.8" r="5"/><circle cx="468.6" cy="231.3" r="5"/><circle cx="469.6" cy="224.0" r="5"/><circle cx="470.6" cy="232.3" r="5"/><circle cx="471.6" cy="231.4" r="5"/><circle cx="472.6" cy="232.0" r="5"/><circle cx="473.6" cy="234.8" r="5"/><circle cx="474.6" cy="232.0" r="5"/><circle cx="475.6" cy="231.8" r="5"/><circle cx="476.6" cy="233.6" r="5"/><circle cx="477.6" cy="231.4" r="5"/><circle cx="478.6" cy="234.4" r="5"/><circle cx="479.6" cy="228.0" r="5"/><circle cx="480.6" cy="239.9" r="5"/><circle cx="481.6" cy="235.0" r="5"/><circle cx="482.6" cy="238.7" r="5"/><circle cx="483.7" cy="239.1" r="5"/><circle cx="484.7" cy="239.4" r="5"/><circle cx="485.7" cy="240.2" r="5"/><circle cx="486.7" cy="241.6" r="5"/><circle cx="487.7" cy="238.1" r="5"/><circle cx="488.7" cy="242.2" r="5"/><circle cx="489.7" cy="248.1" r="5"/><circle cx="490.7" cy="242.5" r="5"/><circle cx="491.7" cy="243.3" r="5"/><circle cx="492.7" cy="253.8" r="5"/><circle cx="493.7" cy="252.3" r="5"/><circle cx="494.7" cy="254.7" r="5"/><circle cx="495.7" cy="251.3" r="5"/><circle cx="496.7" cy="252.5" r="5"/><circle cx="497.7" cy="254.9" r="5"/><circle cx="498.7" cy="254.6" r="5"/><circle cx="499.7" cy="253.4" r="5"/><circle cx="500.7" cy="249.6" r="5"/><circle cx="501.7" cy="252.5" r="5"/><circle cx="502.7" cy="251.0" r="5"/><circle cx="503.7" cy="260.6" r="5"/><circle cx="504.7" cy="255.4" r="5"/><circle cx="505.7" cy="257.2" r="5"/><circle cx="506.7" cy="259.8" r="5"/><circle cx="507.7" cy="259.9" r="5"/><circle cx="508.7" cy="262.0" r="5"/><circle cx="509.7" cy="259.0" r="5"/><circle cx="510.7" cy="256.7" r="5"/><circle cx="511.7" cy="267.7" r="5"/><circle cx="512.7" cy="261.0" r="5"/><circle cx="513.8" cy="262.6" r="5"/><circle cx="514.8" cy="262.8" r="5"/><circle cx="515.8" cy="264.6" r="5"/><circle cx="516.8" cy="266.8" r="5"/><circle cx="517.8" cy="269.8" r="5"/><circle cx="518.8" cy="265.3" r="5"/><circle cx="519.8" cy="270.4" r="5"/><circle cx="520.8" cy="267.8" r="5"/><circle cx="521.8" cy="274.1" r="5"/><circle cx="522.8" cy="266.9" r="5"/><circle cx="523.8" cy="271.4" r="5"/><circle cx="524.8" cy="273.8" r="5"/><circle cx="525.8" cy="268.1" r="5"/><circle cx="526.8" cy="273.1" r="5"/><circle cx="527.8" cy="273.8" r="5"/><circle cx="528.8" cy="272.2" r="5"/><circle cx="529.8" cy="274.3" r="5"/><circle cx="530.8" cy="279.0" r="5"/><circle cx="531.8" cy="277.6" r="5"/><circle cx="532.8" cy="276.0" r="5"/><circle cx="533.8" cy="277.5" r="5"/><circle cx="534.8" cy="280.2" r="5"/><circle cx="535.8" cy="283.8" r="5"/><circle cx="536.8" cy="283.1" r="5"/><circle cx="537.8" cy="283.9" r="5"/><circle cx="538.8" cy="287.4" r="5"/><circle cx="539.8" cy="278.7" r="5"/><circle cx="540.8" cy="279.5" r="5"/><circle cx="541.8" cy="277.9" r="5"/><circle cx="542.8" cy="288.8" r="5"/><circle cx="543.9" cy="279.3" r="5"/><circle cx="544.9" cy="287.5" r="5"/><circle cx="545.9" cy="291.0" r="5"/><circle cx="546.9" cy="284.1" r="5"/><circle cx="547.9" cy="287.2" r="5"/><circle cx="548.9" cy="289.2" r="5"/><circle cx="549.9" cy="293.1" r="5"/><circle cx="550.9" cy="286.6" r="5"/><circle cx="551.9" cy="292.6" r="5"/><circle cx="552.9" cy="294.8" r="5"/><circle cx="553.9" cy="294.2" r="5"/><circle cx="554.9" cy="294.4" r="5"/><circle cx="555.9" cy="298.6" r="5"/><circle cx="556.9" cy="295.8" r="5"/><circle cx="557.9" cy="295.1" r="5"/><circle cx="558.9" cy="294.8" r="5"/><circle cx="559.9" cy="298.8" r="5"/><circle cx="560.9" cy="296.1" r="5"/><circle cx="561.9" cy="300.7" r="5"/><circle cx="562.9" cy="299.5" r="5"/><circle cx="563.9" cy="303.7" r="5"/><circle cx="564.9" cy="298.2" r="5"/><circle cx="565.9" cy="302.3" r="5"/><circle cx="566.9" cy="304.2" r="5"/><circle cx="567.9" cy="305.4" r="5"/><circle cx="568.9" cy="308.5" r="5"/><circle cx="569.9" cy="307.2" r="5"/><circle cx="570.9" cy="310.4" r="5"/><circle cx="571.9" cy="314.7" r="5"/><circle cx="572.9" cy="312.5" r="5"/><circle cx="574.0" cy="307.6" r="5"/><circle cx="575.0" cy="307.1" r="5"/><circle cx="576.0" cy="315.0" r="5"/><circle cx="577.0" cy="312.3" r="5"/><circle cx="578.0" cy="315.4" r="5"/><circle cx="579.0" cy="314.4" r="5"/><circle cx="580.0" cy="319.6" r="5"/><circle cx="581.0" cy="319.7" r="5"/><circle cx="582.0" cy="312.0" r="5"/><circle cx="583.0" cy="317.4" r="5"/><circle cx="584.0" cy="316.1" r="5"/><circle cx="585.0" cy="313.7" r="5"/><circle cx="586.0" cy="321.5" r="5"/><circle cx="587.0" cy="319.2" r="5"/><circle cx="588.0" cy="321.6" r="5"/><circle cx="589.0" cy="328.5" r="5"/><circle cx="590.0" cy="324.8" r="5"/><circle cx="591.0" cy="325.2" r="5"/><circle cx="592.0" cy="320.5" r="5"/><circle cx="593.0" cy="318.4" r="5"/><circle cx="594.0" cy="327.5" r="5"/><circle cx="595.0" cy="323.0" r="5"/><circle cx="596.0" cy="324.7" r="5"/><circle cx="597.0" cy="324.4" r="5"/><circle cx="598.0" cy="326.3" r="5"/><circle cx="599.0" cy="335.2" r="5"/><circle cx="600.0" cy="326.0" r="5"/><circle cx="601.0" cy="326.3" r="5"/><circle cx="602.0" cy="328.9" r="5"/><circle cx="603.0" cy="330.5" r="5"/><circle cx="604.1" cy="326.4" r="5"/><circle cx="605.1" cy="325.2" r="5"/><circle cx="606.1" cy="329.7" r="5"/><circle cx="607.1" cy="331.4" r="5"/><circle cx="608.1" cy="330.2" r="5"/><circle cx="609.1" cy="330.1" r="5"/><circle cx="610.1" cy="330.8" r="5"/><circle cx="611.1" cy="334.0" r="5"/><circle cx="612.1" cy="336.0" r="5"/><circle cx="613.1" cy="331.7" r="5"/><circle cx="614.1" cy="336.8" r="5"/><circle cx="615.1" cy="341.0" r="5"/><circle cx="616.1" cy="339.5" r="5"/><circle cx="617.1" cy="336.3" r="5"/><circle cx="618.1" cy="340.5" r="5"/><circle cx="619.1" cy="342.4" r="5"/><circle cx="620.1" cy="346.5" r="5"/><circle cx="621.1" cy="338.6" r="5"/><circle cx="622.1" cy="349.1" r="5"/><circle cx="623.1" cy="345.4" r="5"/><circle cx="624.1" cy="348.9" r="5"/><circle cx="625.1" cy="351.6" r="5"/><circle cx="626.1" cy="346.0" r="5"/><circle cx="627.1" cy="346.2" r="5"/><circle cx="628.1" cy="349.4" r="5"/><circle cx="629.1" cy="352.9" r="5"/><circle cx="630.1" cy="348.2" r="5"/><circle cx="631.1" cy="345.2" r="5"/><circle cx="632.1" cy="347.7" r="5"/><circle cx="633.1" cy="352.8" r="5"/><circle cx="634.2" cy="356.1" r="5"/><circle cx="635.2" cy="350.2" r="5"/><circle cx="636.2" cy="351.2" r="5"/><circle cx="637.2" cy="352.1" r="5"/><circle cx="638.2" cy="352.5" r="5"/><circle cx="639.2" cy="349.9" r="5"/><circle cx="640.2" cy="352.7" r="5"/><circle cx="641.2" cy="356.3" r="5"/><circle cx="642.2" cy="357.6" r="5"/><circle cx="643.2" cy="358.3" r="5"/><circle cx="644.2" cy="354.4" r="5"/><circle cx="645.2" cy="357.1" r="5"/><circle cx="646.2" cy="357.8" r="5"/><circle cx="647.2" cy="366.1" r="5"/><circle cx="648.2" cy="368.4" r="5"/><circle cx="649.2" cy="365.5" r="5"/><circle cx="650.2" cy="370.7" r="5"/><circle cx="651.2" cy="364.3" r="5"/><circle cx="652.2" cy="365.3" r="5"/><circle cx="653.2" cy="362.0" r="5"/><circle cx="654.2" cy="369.8" r="5"/><circle cx="655.2" cy="368.3" r="5"/><circle cx="656.2" cy="371.2" r="5"/><circle cx="657.2" cy="373.5" r="5"/><circle cx="658.2" cy="371.0" r="5"/><circle cx="659.2" cy="368.9" r="5"/><circle cx="660.2" cy="374.3" r="5"/><circle cx="661.2" cy="374.6" r="5"/><circle cx="662.2" cy="376.0" r="5"/><circle cx="663.2" cy="379.2" r="5"/><circle cx="664.3" cy="375.5" r="5"/><circle cx="665.3" cy="375.7" r="5"/><circle cx="666.3" cy="384.2" r="5"/><circle cx="667.3" cy="381.2" r="5"/><circle cx="668.3" cy="377.7" r="5"/><circle cx="669.3" cy="373.6" r="5"/><circle cx="670.3" cy="375.8" r="5"/><circle cx="671.3" cy="379.7" r="5"/><circle cx="672.3" cy="381.3" r="5"/><circle cx="673.3" cy="388.9" r="5"/><circle cx="674.3" cy="377.6" r="5"/><circle cx="675.3" cy="380.2" r="5"/><circle cx="676.3" cy="378.9" r="5"/><circle cx="677.3" cy="381.5" r="5"/><circle cx="678.3" cy="380.2" r="5"/><circle cx="679.3" cy="378.3" r="5"/><circle cx="680.3" cy="388.8" r="5"/><circle cx="681.3" cy="385.7" r="5"/><circle cx="682.3" cy="391.8" r="5"/><circle cx="683.3" cy="385.0" r="5"/><circle cx="684.3" cy="389.5" r="5"/><circle cx="685.3" cy="392.5" r="5"/><circle cx="686.3" cy="382.2" r="5"/><circle cx="687.3" cy="385.5" r="5"/><circle cx="688.3" cy="394.5" r="5"/><circle cx="689.3" cy="392.3" r="5"/><circle cx="690.3" cy="383.3" r="5"/><circle cx="691.3" cy="388.7" r="5"/><circle cx="692.3" cy="388.1" r="5"/><circle cx="693.3" cy="391.4" r="5"/><circle cx="694.4" cy="400.6" r="5"/><circle cx="695.4" cy="391.1" r="5"/><circle cx="696.4" cy="403.4" r="5"/><circle cx="697.4" cy="393.3" r="5"/><circle cx="698.4" cy="390.7" r="5"/><circle cx="699.4" cy="402.7" r="5"/><circle cx="700.4" cy="400.0" r="5"/><circle cx="701.4" cy="402.4" r="5"/><circle cx="702.4" cy="406.1" r="5"/><circle cx="703.4" cy="404.0" r="5"/><circle cx="704.4" cy="405.5" r="5"/><circle cx="705.4" cy="393.4" r="5"/><circle cx="706.4" cy="397.9" r="5"/><circle cx="707.4" cy="403.5" r="5"/><circle cx="708.4" cy="403.6" r="5"/><circle cx="709.4" cy="408.2" r="5"/><circle cx="710.4" cy="403.4" r="5"/><circle cx="711.4" cy="411.1" r="5"/><circle cx="712.4" cy="417.1" r="5"/><circle cx="713.4" cy="412.0" r="5"/><circle cx="714.4" cy="413.3" r="5"/><circle cx="715.4" cy="412.9" r="5"/><circle cx="716.4" cy="415.8" r="5"/><circle cx="717.4" cy="413.0" r="5"/><circle cx="718.4" cy="410.0" r="5"/><circle cx="719.4" cy="414.1" r="5"/><circle cx="720.4" cy="414.6" r="5"/><circle cx="721.4" cy="407.9" r="5"/><circle cx="722.4" cy="417.7" r="5"/><circle cx="723.4" cy="416.9" r="5"/><circle cx="724.5" cy="416.3" r="5"/><circle cx="725.5" cy="413.7" r="5"/><circle cx="726.5" cy="419.4" r="5"/><circle cx="727.5" cy="419.8" r="5"/><circle cx="728.5" cy="413.1" r="5"/><circle cx="729.5" cy="418.8" r="5"/><circle cx="730.5" cy="421.0" r="5"/><circle cx="731.5" cy="421.4" r="5"/><circle cx="732.5" cy="414.4" r="5"/><circle cx="733.5" cy="414.5" r="5"/><circle cx="734.5" cy="420.3" r="5"/><circle cx="735.5" cy="414.7" r="5"/><circle cx="736.5" cy="433.0" r="5"/><circle cx="737.5" cy="417.2" r="5"/><circle cx="738.5" cy="417.7" r="5"/><circle cx="739.5" cy="426.4" r="5"/><circle cx="740.5" cy="421.3" r="5"/><circle cx="741.5" cy="413.3" r="5"/><circle cx="742.5" cy="425.4" r="5"/><circle cx="743.5" cy="422.8" r="5"/><circle cx="744.5" cy="425.1" r="5"/><circle cx="745.5" cy="421.1" r="5"/><circle cx="746.5" cy="425.8" r="5"/><circle cx="747.5" cy="430.4" r="5"/><circle cx="748.5" cy="431.1" r="5"/><circle cx="749.5" cy="426.8" r="5"/><circle cx="750.5" cy="430.6" r="5"/><circle cx="751.5" cy="430.5" r="5"/><circle cx="752.5" cy="436.3" r="5"/><circle cx="753.5" cy="435.6" r="5"/><circle cx="754.6" cy="430.2" r="5"/><circle cx="755.6" cy="440.4" r="5"/><circle cx="756.6" cy="434.0" r="5"/><circle cx="757.6" cy="440.0" r="5"/><circle cx="758.6" cy="433.7" r="5"/><circle cx="759.6" cy="440.1" r="5"/><circle cx="760.6" cy="438.1" r="5"/><circle cx="761.6" cy="439.8" r="5"/><circle cx="762.6" cy="442.5" r="5"/><circle cx="763.6" cy="442.0" r="5"/><circle cx="764.6" cy="440.9" r="5"/><circle cx="765.6" cy="441.4" r="5"/><circle cx="766.6" cy="434.5" r="5"/><circle cx="767.6" cy="441.3" r="5"/><circle cx="768.6" cy="431.0" r="5"/><circle cx="769.6" cy="431.5" r="5"/><circle cx="770.6" cy="441.9" r="5"/><circle cx="771.6" cy="443.8" r="5"/><circle cx="772.6" cy="452.8" r="5"/><circle cx="773.6" cy="449.2" r="5"/><circle cx="774.6" cy="453.4" r="5"/><circle cx="775.6" cy="447.1" r="5"/><circle cx="776.6" cy="451.0" r="5"/><circle cx="777.6" cy="454.8" r="5"/><circle cx="778.6" cy="452.7" r="5"/><circle cx="779.6" cy="452.6" r="5"/><circle cx="780.6" cy="451.5" r="5"/><circle cx="781.6" cy="447.3" r="5"/><circle cx="782.6" cy="447.9" r="5"/><circle cx="783.6" cy="446.0" r="5"/><circle cx="784.7" cy="456.6" r="5"/><circle cx="785.7" cy="454.2" r="5"/><circle cx="786.7" cy="452.1" r="5"/><circle cx="787.7" cy="459.0" r="5"/><circle cx="788.7" cy="454.8" r="5"/><circle cx="789.7" cy="463.5" r="5"/><circle cx="790.7" cy="468.1" r="5"/><circle cx="791.7" cy="460.0" r="5"/><circle cx="792.7" cy="454.8" r="5"/><circle cx="793.7" cy="451.7" r="5"/><circle cx="794.7" cy="471.3" r="5"/><circle cx="795.7" cy="463.6" r="5"/><circle cx="796.7" cy="454.9" r="5"/><circle cx="797.7" cy="467.6" r="5"/><circle cx="798.7" cy="453.3" r="5"/><circle cx="799.7" cy="460.8" r="5"/><circle cx="800.7" cy="462.7" r="5"/><circle cx="801.7" cy="463.2" r="5"/><circle cx="802.7" cy="458.4" r="5"/><circle cx="803.7" cy="478.7" r="5"/><circle cx="804.7" cy="463.7" r="5"/><circle cx="805.7" cy="469.3" r="5"/><circle cx="806.7" cy="469.5" r="5"/><circle cx="807.7" cy="461.1" r="5"/><circle cx="808.7" cy="467.2" r="5"/><circle cx="809.7" cy="473.5" r="5"/><circle cx="810.7" cy="478.2" r="5"/><circle cx="811.7" cy="471.2" r="5"/><circle cx="812.7" cy="476.7" r="5"/><circle cx="813.7" cy="472.4" r="5"/><circle cx="814.8" cy="478.8" r="5"/><circle cx="815.8" cy="462.2" r="5"/><circle cx="816.8" cy="480.4" r="5"/><circle cx="817.8" cy="475.5" r="5"/><circle cx="818.8" cy="476.3" r="5"/><circle cx="819.8" cy="463.7" r="5"/><circle cx="820.8" cy="473.6" r="5"/><circle cx="821.8" cy="483.6" r="5"/><circle cx="822.8" cy="493.5" r="5"/><circle cx="823.8" cy="477.1" r="5"/><circle cx="824.8" cy="476.4" r="5"/><circle cx="825.8" cy="483.3" r="5"/><circle cx="826.8" cy="483.4" r="5"/><circle cx="827.8" cy="478.9" r="5"/><circle cx="828.8" cy="482.6" r="5"/><circle cx="829.8" cy="480.6" r="5"/><circle cx="830.8" cy="485.8" r="5"/><circle cx="831.8" cy="487.8" r="5"/><circle cx="832.8" cy="493.1" r="5"/><circle cx="833.8" cy="488.2" r="5"/><circle cx="834.8" cy="487.7" r="5"/><circle cx="835.8" cy="486.0" r="5"/><circle cx="836.8" cy="490.6" r="5"/><circle cx="837.8" cy="480.2" r="5"/><circle cx="838.8" cy="499.4" r="5"/><circle cx="839.8" cy="488.7" r="5"/><circle cx="840.8" cy="496.5" r="5"/><circle cx="841.8" cy="483.2" r="5"/><circle cx="842.8" cy="494.3" r="5"/><circle cx="843.8" cy="491.5" r="5"/><circle cx="844.9" cy="489.0" r="5"/><circle cx="845.9" cy="487.0" r="5"/><circle cx="846.9" cy="485.2" r="5"/><circle cx="847.9" cy="502.5" r="5"/><circle cx="848.9" cy="500.2" r="5"/><circle cx="849.9" cy="493.3" r="5"/><circle cx="850.9" cy="493.1" r="5"/><circle cx="851.9" cy="488.7" r="5"/><circle cx="852.9" cy="482.1" r="5"/><circle cx="853.9" cy="482.8" r="5"/><circle cx="854.9" cy="491.4" r="5"/><circle cx="855.9" cy="494.6" r="5"/><circle cx="856.9" cy="489.3" r="5"/><circle cx="857.9" cy="502.2" r="5"/><circle cx="858.9" cy="501.0" r="5"/><circle cx="859.9" cy="499.7" r="5"/><circle cx="860.9" cy="488.8" r="5"/><circle cx="861.9" cy="498.7" r="5"/><circle cx="862.9" cy="500.7" r="5"/><circle cx="863.9" cy="492.8" r="5"/><circle cx="864.9" cy="488.3" r="5"/><circle cx="865.9" cy="515.8" r="5"/><circle cx="866.9" cy="508.1" r="5"/><circle cx="867.9" cy="502.9" r="5"/><circle cx="868.9" cy="516.6" r="5"/><circle cx="869.9" cy="514.2" r="5"/><circle cx="870.9" cy="510.5" r="5"/><circle cx="871.9" cy="510.0" r="5"/><circle cx="872.9" cy="514.0" r="5"/><circle cx="873.9" cy="519.5" r="5"/><circle cx="875.0" cy="511.2" r="5"/><circle cx="876.0" cy="509.5" r="5"/><circle cx="877.0" cy="515.5" r="5"/><circle cx="878.0" cy="494.5" r="5"/><circle cx="879.0" cy="514.2" r="5"/><circle cx="880.0" cy="512.1" r="5"/><circle cx="881.0" cy="515.3" r="5"/><circle cx="882.0" cy="515.3" r="5"/><circle cx="883.0" cy="518.4" r="5"/><circle cx="884.0" cy="517.2" r="5"/><circle cx="885.0" cy="517.4" r="5"/><circle cx="886.0" cy="517.3" r="5"/><circle cx="887.0" cy="522.5" r="5"/><circle cx="888.0" cy="516.9" r="5"/><circle cx="889.0" cy="526.5" r="5"/><circle cx="890.0" cy="509.5" r="5"/><circle cx="891.0" cy="522.3" r="5"/><circle cx="892.0" cy="525.2" r="5"/><circle cx="893.0" cy="513.0" r="5"/><circle cx="894.0" cy="519.1" r="5"/><circle cx="895.0" cy="530.5" r="5"/><circle cx="896.0" cy="520.3" r="5"/><circle cx="897.0" cy="515.7" r="5"/><circle cx="898.0" cy="502.9" r="5"/><circle cx="899.0" cy="526.0" r="5"/><circle cx="900.0" cy="525.4" r="5"/><circle cx="901.0" cy="529.1" r="5"/><circle cx="902.0" cy="538.6" r="5"/><circle cx="903.0" cy="524.4" r="5"/><circle cx="904.0" cy="526.5" r="5"/><circle cx="905.1" cy="521.4" r="5"/><circle cx="906.1" cy="527.8" r="5"/><circle cx="907.1" cy="528.1" r="5"/><circle cx="908.1" cy="534.5" r="5"/><circle cx="909.1" cy="533.7" r="5"/><circle cx="910.1" cy="526.6" r="5"/><circle cx="911.1" cy="530.5" r="5"/><circle cx="912.1" cy="543.9" r="5"/><circle cx="913.1" cy="527.7" r="5"/><circle cx="914.1" cy="540.1" r="5"/><circle cx="915.1" cy="546.1" r="5"/><circle cx="916.1" cy="540.5" r="5"/><circle cx="917.1" cy="538.2" r="5"/><circle cx="918.1" cy="547.8" r="5"/><circle cx="919.1" cy="541.0" r="5"/><circle cx="920.1" cy="538.0" r="5"/><circle cx="921.1" cy="535.7" r="5"/><circle cx="922.1" cy="546.0" r="5"/><circle cx="923.1" cy="543.5" r="5"/><circle cx="924.1" cy="550.2" r="5"/><circle cx="925.1" cy="537.0" r="5"/><circle cx="926.1" cy="538.1" r="5"/><circle cx="927.1" cy="537.8" r="5"/><circle cx="928.1" cy="542.6" r="5"/><circle cx="929.1" cy="534.9" r="5"/><circle cx="930.1" cy="547.9" r="5"/><circle cx="931.1" cy="544.5" r="5"/><circle cx="932.1" cy="535.6" r="5"/><circle cx="933.1" cy="521.5" r="5"/><circle cx="934.1" cy="530.1" r="5"/><circle cx="935.2" cy="554.8" r="5"/><circle cx="936.2" cy="545.8" r="5"/><circle cx="937.2" cy="548.1" r="5"/><circle cx="938.2" cy="545.0" r="5"/><circle cx="939.2" cy="553.4" r="5"/><circle cx="940.2" cy="536.4" r="5"/><circle cx="941.2" cy="536.8" r="5"/><circle cx="942.2" cy="539.0" r="5"/><circle cx="943.2" cy="553.8" r="5"/><circle cx="944.2" cy="560.5" r="5"/><circle cx="945.2" cy="560.4" r="5"/><circle cx="946.2" cy="555.7" r="5"/><circle cx="947.2" cy="547.4" r="5"/><circle cx="948.2" cy="564.2" r="5"/><circle cx="949.2" cy="556.0" r="5"/><circle cx="950.2" cy="559.2" r="5"/><circle cx="951.2" cy="558.3" r="5"/><circle cx="952.2" cy="557.1" r="5"/><circle cx="953.2" cy="555.2" r="5"/><circle cx="954.2" cy="556.3" r="5"/><circle cx="955.2" cy="551.6" r="5"/><circle cx="956.2" cy="562.1" r="5"/><circle cx="957.2" cy="559.0" r="5"/><circle cx="958.2" cy="569.2" r="5"/><circle cx="959.2" cy="548.2" r="5"/><circle cx="960.2" cy="569.5" r="5"/><circle cx="961.2" cy="560.3" r="5"/><circle cx="962.2" cy="561.3" r="5"/><circle cx="963.2" cy="555.0" r="5"/><circle cx="964.2" cy="557.8" r="5"/><circle cx="965.3" cy="552.7" r="5"/><circle cx="966.3" cy="572.1" r="5"/><circle cx="967.3" cy="564.0" r="5"/><circle cx="968.3" cy="572.0" r="5"/><circle cx="969.3" cy="572.3" r="5"/><circle cx="970.3" cy="563.1" r="5"/><circle cx="971.3" cy="566.7" r="5"/><circle cx="972.3" cy="568.5" r="5"/><circle cx="973.3" cy="578.2" r="5"/><circle cx="974.3" cy="570.9" r="5"/><circle cx="975.3" cy="572.9" r="5"/><circle cx="976.3" cy="577.8" r="5"/><circle cx="977.3" cy="570.1" r="5"/><circle cx="978.3" cy="588.1" r="5"/><circle cx="979.3" cy="564.0" r="5"/><circle cx="980.3" cy="581.7" r="5"/><circle cx="981.3" cy="584.5" r="5"/><circle cx="982.3" cy="563.6" r="5"/><circle cx="983.3" cy="580.1" r="5"/><circle cx="984.3" cy="575.6" r="5"/><circle cx="985.3" cy="579.8" r="5"/><circle cx="986.3" cy="563.3" r="5"/><circle cx="987.3" cy="575.1" r="5"/><circle cx="988.3" cy="566.5" r="5"/><circle cx="989.3" cy="573.8" r="5"/><circle cx="990.3" cy="586.8" r="5"/><circle cx="991.3" cy="575.0" r="5"/><circle cx="992.3" cy="559.6" r="5"/><circle cx="993.3" cy="566.8" r="5"/><circle cx="994.3" cy="569.0" r="5"/><circle cx="995.4" cy="587.3" r="5"/><circle cx="996.4" cy="573.2" r="5"/><circle cx="997.4" cy="566.8" r="5"/><circle cx="998.4" cy="589.8" r="5"/><circle cx="999.4" cy="583.7" r="5"/><circle cx="1000.4" cy="586.4" r="5"/><circle cx="1001.4" cy="577.9" r="5"/><circle cx="1002.4" cy="597.8" r="5"/><circle cx="1003.4" cy="585.3" r="5"/><circle cx="1004.4" cy="569.4" r="5"/><circle cx="1005.4" cy="578.5" r="5"/><circle cx="1006.4" cy="581.2" r="5"/><circle cx="1007.4" cy="586.8" r="5"/><circle cx="1008.4" cy="595.9" r="5"/><circle cx="1009.4" cy="583.9" r="5"/><circle cx="1010.4" cy="585.6" r="5"/><circle cx="1011.4" cy="609.3" r="5"/><circle cx="1012.4" cy="591.6" r="5"/><circle cx="1013.4" cy="586.7" r="5"/><circle cx="1014.4" cy="591.7" r="5"/><circle cx="1015.4" cy="581.7" r="5"/><circle cx="1016.4" cy="597.2" r="5"/><circle cx="1017.4" cy="600.9" r="5"/><circle cx="1018.4" cy="587.5" r="5"/><circle cx="1019.4" cy="602.2" r="5"/><circle cx="1020.4" cy="591.5" r="5"/><circle cx="1021.4" cy="598.0" r="5"/><circle cx="1022.4" cy="591.1" r="5"/><circle cx="1023.4" cy="590.0" r="5"/><circle cx="1024.4" cy="585.3" r="5"/><circle cx="1025.5" cy="600.1" r="5"/><circle cx="1026.5" cy="597.5" r="5"/><circle cx="1027.5" cy="599.0" r="5"/><circle cx="1028.5" cy="591.1" r="5"/><circle cx="1029.5" cy="592.7" r="5"/><circle cx="1030.5" cy="596.7" r="5"/><circle cx="1031.5" cy="606.2" r="5"/><circle cx="1032.5" cy="604.1" r="5"/><circle cx="1033.5" cy="597.3" r="5"/><circle cx="1034.5" cy="605.2" r="5"/><circle cx="1035.5" cy="618.1" r="5"/><circle cx="1036.5" cy="604.7" r="5"/><circle cx="1037.5" cy="621.0" r="5"/><circle cx="1038.5" cy="609.0" r="5"/><circle cx="1039.5" cy="617.0" r="5"/><circle cx="1040.5" cy="602.9" r="5"/><circle cx="1041.5" cy="618.2" r="5"/><circle cx="1042.5" cy="596.1" r="5"/><circle cx="1043.5" cy="609.8" r="5"/><circle cx="1044.5" cy="605.6" r="5"/><circle cx="1045.5" cy="590.7" r="5"/><circle cx="1046.5" cy="598.9" r="5"/><circle cx="1047.5" cy="622.5" r="5"/><circle cx="1048.5" cy="616.1" r="5"/><circle cx="1049.5" cy="625.3" r="5"/><circle cx="1050.5" cy="618.0" r="5"/><circle cx="1051.5" cy="588.9" r="5"/><circle cx="1052.5" cy="618.8" r="5"/><circle cx="1053.5" cy="611.0" r="5"/><circle cx="1054.5" cy="611.4" r="5"/><circle cx="1055.6" cy="611.9" r="5"/><circle cx="1056.6" cy="609.3" r="5"/><circle cx="1057.6" cy="610.2" r="5"/><circle cx="1058.6" cy="631.3" r="5"/><circle cx="1059.6" cy="625.5" r="5"/><circle cx="1060.6" cy="615.8" r="5"/><circle cx="1061.6" cy="615.8" r="5"/><circle cx="1062.6" cy="629.4" r="5"/><circle cx="1063.6" cy="625.5" r="5"/><circle cx="1064.6" cy="622.9" r="5"/><circle cx="1065.6" cy="610.2" r="5"/><circle cx="1066.6" cy="618.0" r="5"/><circle cx="1067.6" cy="610.7" r="5"/><circle cx="1068.6" cy="604.9" r="5"/><circle cx="1069.6" cy="632.4" r="5"/><circle cx="1070.6" cy="623.3" r="5"/><circle cx="1071.6" cy="621.6" r="5"/><circle cx="1072.6" cy="615.8" r="5"/><circle cx="1073.6" cy="632.0" r="5"/><circle cx="1074.6" cy="642.9" r="5"/><circle cx="1075.6" cy="630.1" r="5"/><circle cx="1076.6" cy="634.8" r="5"/><circle cx="1077.6" cy="613.3" r="5"/><circle cx="1078.6" cy="626.7" r="5"/><circle cx="1079.6" cy="629.3" r="5"/><circle cx="1080.6" cy="641.2" r="5"/><circle cx="1081.6" cy="627.8" r="5"/><circle cx="1082.6" cy="620.8" r="5"/><circle cx="1083.6" cy="629.6" r="5"/><circle cx="1084.6" cy="625.8" r="5"/><circle cx="1085.7" cy="642.2" r="5"/><circle cx="1086.7" cy="636.5" r="5"/><circle cx="1087.7" cy="637.1" r="5"/><circle cx="1088.7" cy="636.5" r="5"/><circle cx="1089.7" cy="643.0" r="5"/><circle cx="1090.7" cy="630.8" r="5"/><circle cx="1091.7" cy="627.3" r="5"/><circle cx="1092.7" cy="620.7" r="5"/><circle cx="1093.7" cy="649.4" r="5"/><circle cx="1094.7" cy="642.0" r="5"/><circle cx="1095.7" cy="643.9" r="5"/><circle cx="1096.7" cy="639.5" r="5"/><circle cx="1097.7" cy="655.3" r="5"/><circle cx="1098.7" cy="630.6" r="5"/><circle cx="1099.7" cy="651.6" r="5"/><circle cx="1100.7" cy="632.9" r="5"/><circle cx="1101.7" cy="636.3" r="5"/><circle cx="1102.7" cy="626.2" r="5"/><circle cx="1103.7" cy="639.7" r="5"/><circle cx="1104.7" cy="636.6" r="5"/><circle cx="1105.7" cy="644.0" r="5"/><circle cx="1106.7" cy="635.6" r="5"/><circle cx="1107.7" cy="626.4" r="5"/><circle cx="1108.7" cy="648.4" r="5"/><circle cx="1109.7" cy="658.7" r="5"/><circle cx="1110.7" cy="653.0" r="5"/><circle cx="1111.7" cy="646.2" r="5"/><circle cx="1112.7" cy="651.9" r="5"/><circle cx="1113.7" cy="630.0" r="5"/><circle cx="1114.7" cy="644.0" r="5"/><circle cx="1115.8" cy="659.1" r="5"/><circle cx="1116.8" cy="651.9" r="5"/><circle cx="1117.8" cy="640.5" r="5"/><circle cx="1118.8" cy="657.9" r="5"/><circle cx="1119.8" cy="649.6" r="5"/><circle cx="1120.8" cy="659.4" r="5"/><circle cx="1121.8" cy="639.1" r="5"/><circle cx="1122.8" cy="649.1" r="5"/><circle cx="1123.8" cy="658.8" r="5"/><circle cx="1124.8" cy="657.7" r="5"/><circle cx="1125.8" cy="661.4" r="5"/><circle cx="1126.8" cy="655.3" r="5"/><circle cx="1127.8" cy="654.1" r="5"/><circle cx="1128.8" cy="661.9" r="5"/><circle cx="1129.8" cy="668.1" r="5"/><circle cx="1130.8" cy="645.5" r="5"/><circle cx="1131.8" cy="659.3" r="5"/><circle cx="1132.8" cy="660.3" r="5"/><circle cx="1133.8" cy="663.7" r="5"/><circle cx="1134.8" cy="672.5" r="5"/><circle cx="1135.8" cy="649.1" r="5"/><circle cx="1136.8" cy="668.3" r="5"/><circle cx="1137.8" cy="647.6" r="5"/><circle cx="1138.8" cy="658.3" r="5"/><circle cx="1139.8" cy="661.0" r="5"/><circle cx="1140.8" cy="663.4" r="5"/><circle cx="1141.8" cy="659.6" r="5"/><circle cx="1142.8" cy="661.0" r="5"/><circle cx="1143.8" cy="664.4" r="5"/><circle cx="1144.8" cy="664.8" r="5"/><circle cx="1145.9" cy="648.0" r="5"/><circle cx="1146.9" cy="653.6" r="5"/><circle cx="1147.9" cy="662.7" r="5"/><circle cx="1148.9" cy="673.9" r="5"/><circle cx="1149.9" cy="679.7" r="5"/><circle cx="1150.9" cy="699.0" r="5"/><circle cx="1151.9" cy="669.4" r="5"/><circle cx="1152.9" cy="659.1" r="5"/><circle cx="1153.9" cy="668.7" r="5"/><circle cx="1154.9" cy="675.8" r="5"/><circle cx="1155.9" cy="671.9" r="5"/><circle cx="1156.9" cy="661.4" r="5"/><circle cx="1157.9" cy="671.3" r="5"/><circle cx="1158.9" cy="670.8" r="5"/><circle cx="1159.9" cy="656.8" r="5"/><circle cx="1160.9" cy="658.4" r="5"/><circle cx="1161.9" cy="684.3" r="5"/><circle cx="1162.9" cy="651.8" r="5"/><circle cx="1163.9" cy="678.6" r="5"/><circle cx="1164.9" cy="675.1" r="5"/><circle cx="1165.9" cy="693.3" r="5"/><circle cx="1166.9" cy="687.3" r="5"/><circle cx="1167.9" cy="672.0" r="5"/><circle cx="1168.9" cy="693.0" r="5"/><circle cx="1169.9" cy="672.7" r="5"/><circle cx="1170.9" cy="699.5" r="5"/><circle cx="1171.9" cy="694.5" r="5"/><circle cx="1172.9" cy="676.1" r="5"/><circle cx="1173.9" cy="684.8" r="5"/><circle cx="1174.9" cy="679.0" r="5"/><circle cx="1176.0" cy="670.2" r="5"/><circle cx="1177.0" cy="691.3" r="5"/><circle cx="1178.0" cy="685.2" r="5"/><circle cx="1179.0" cy="689.6" r="5"/><circle cx="1180.0" cy="691.1" r="5"/><circle cx="1181.0" cy="693.8" r="5"/><circle cx="1182.0" cy="690.1" r="5"/><circle cx="1183.0" cy="679.3" r="5"/><circle cx="1184.0" cy="682.1" r="5"/><circle cx="1185.0" cy="685.7" r="5"/><circle cx="1186.0" cy="681.4" r="5"/><circle cx="1187.0" cy="681.5" r="5"/><circle cx="1188.0" cy="705.7" r="5"/><circle cx="1189.0" cy="691.8" r="5"/><circle cx="1190.0" cy="707.2" r="5"/><circle cx="1191.0" cy="678.3" r="5"/><circle cx="1192.0" cy="686.3" r="5"/><circle cx="1193.0" cy="680.0" r="5"/><circle cx="1194.0" cy="679.6" r="5"/><circle cx="1195.0" cy="681.5" r="5"/><circle cx="1196.0" cy="684.0" r="5"/><circle cx="1197.0" cy="680.3" r="5"/><circle cx="1198.0" cy="705.4" r="5"/><circle cx="1199.0" cy="696.2" r="5"/><circle cx="1200.0" cy="681.1" r="5"/><circle cx="1201.0" cy="684.2" r="5"/><circle cx="1202.0" cy="700.2" r="5"/><circle cx="1203.0" cy="697.9" r="5"/><circle cx="1204.0" cy="687.9" r="5"/><circle cx="1205.0" cy="707.6" r="5"/><circle cx="1206.1" cy="682.7" r="5"/><circle cx="1207.1" cy="695.6" r="5"/><circle cx="1208.1" cy="721.9" r="5"/><circle cx="1209.1" cy="676.1" r="5"/><circle cx="1210.1" cy="704.0" r="5"/><circle cx="1211.1" cy="719.4" r="5"/><circle cx="1212.1" cy="707.6" r="5"/><circle cx="1213.1" cy="702.2" r="5"/><circle cx="1214.1" cy="698.9" r="5"/><circle cx="1215.1" cy="686.4" r="5"/><circle cx="1216.1" cy="692.9" r="5"/><circle cx="1217.1" cy="709.3" r="5"/><circle cx="1218.1" cy="703.9" r="5"/><circle cx="1219.1" cy="711.5" r="5"/><circle cx="1220.1" cy="708.7" r="5"/><circle cx="1221.1" cy="712.8" r="5"/><circle cx="1222.1" cy="691.3" r="5"/><circle cx="1223.1" cy="707.4" r="5"/><circle cx="1224.1" cy="707.1" r="5"/><circle cx="1225.1" cy="707.9" r="5"/><circle cx="1226.1" cy="702.0" r="5"/><circle cx="1227.1" cy="687.2" r="5"/><circle cx="1228.1" cy="718.7" r="5"/><circle cx="1229.1" cy="721.1" r="5"/><circle cx="1230.1" cy="739.1" r="5"/><circle cx="1231.1" cy="720.6" r="5"/><circle cx="1232.1" cy="730.7" r="5"/><circle cx="1233.1" cy="717.5" r="5"/><circle cx="1234.1" cy="706.0" r="5"/><circle cx="1235.1" cy="718.2" r="5"/><circle cx="1236.2" cy="698.3" r="5"/><circle cx="1237.2" cy="713.6" r="5"/><circle cx="1238.2" cy="710.2" r="5"/><circle cx="1239.2" cy="700.8" r="5"/><circle cx="1240.2" cy="728.3" r="5"/><circle cx="1241.2" cy="727.8" r="5"/><circle cx="1242.2" cy="720.7" r="5"/><circle cx="1243.2" cy="724.5" r="5"/><circle cx="1244.2" cy="736.5" r="5"/><circle cx="1245.2" cy="717.1" r="5"/><circle cx="1246.2" cy="704.8" r="5"/><circle cx="1247.2" cy="709.5" r="5"/><circle cx="1248.2" cy="728.5" r="5"/><circle cx="1249.2" cy="722.2" r="5"/><circle cx="1250.2" cy="701.0" r="5"/><circle cx="1251.2" cy="734.6" r="5"/><circle cx="1252.2" cy="723.1" r="5"/><circle cx="1253.2" cy="738.5" r="5"/><circle cx="1254.2" cy="731.6" r="5"/><circle cx="1255.2" cy="713.2" r="5"/><circle cx="1256.2" cy="720.4" r="5"/><circle cx="1257.2" cy="711.3" r="5"/><circle cx="1258.2" cy="712.2" r="5"/><circle cx="1259.2" cy="718.2" r="5"/><circle cx="1260.2" cy="726.9" r="5"/><circle cx="1261.2" cy="738.7" r="5"/><circle cx="1262.2" cy="712.0" r="5"/><circle cx="1263.2" cy="732.9" r="5"/><circle cx="1264.2" cy="724.6" r="5"/><circle cx="1265.2" cy="723.5" r="5"/><circle cx="1266.3" cy="742.0" r="5"/><circle cx="1267.3" cy="723.7" r="5"/><circle cx="1268.3" cy="744.7" r="5"/><circle cx="1269.3" cy="725.2" r="5"/><circle cx="1270.3" cy="718.5" r="5"/><circle cx="1271.3" cy="739.8" r="5"/><circle cx="1272.3" cy="715.0" r="5"/><circle cx="1273.3" cy="717.8" r="5"/><circle cx="1274.3" cy="730.8" r="5"/><circle cx="1275.3" cy="734.1" r="5"/><circle cx="1276.3" cy="729.9" r="5"/><circle cx="1277.3" cy="709.2" r="5"/><circle cx="1278.3" cy="716.7" r="5"/><circle cx="1279.3" cy="741.4" r="5"/><circle cx="1280.3" cy="739.5" r="5"/><circle cx="1281.3" cy="719.0" r="5"/><circle cx="1282.3" cy="737.1" r="5"/><circle cx="1283.3" cy="737.9" r="5"/><circle cx="1284.3" cy="748.9" r="5"/><circle cx="1285.3" cy="728.8" r="5"/><circle cx="1286.3" cy="755.0" r="5"/><circle cx="1287.3" cy="732.9" r="5"/><circle cx="1288.3" cy="754.5" r="5"/><circle cx="1289.3" cy="747.9" r="5"/><circle cx="1290.3" cy="724.6" r="5"/><circle cx="1291.3" cy="734.2" r="5"/><circle cx="1292.3" cy="743.5" r="5"/><circle cx="1293.3" cy="754.1" r="5"/><circle cx="1294.3" cy="724.5" r="5"/><circle cx="1295.3" cy="738.7" r="5"/><circle cx="1296.4" cy="754.3" r="5"/><circle cx="1297.4" cy="751.3" r="5"/><circle cx="1298.4" cy="734.4" r="5"/><circle cx="1299.4" cy="734.9" r="5"/><circle cx="1300.4" cy="750.9" r="5"/><circle cx="1301.4" cy="734.7" r="5"/><circle cx="1302.4" cy="750.2" r="5"/><circle cx="1303.4" cy="760.9" r="5"/><circle cx="1304.4" cy="750.7" r="5"/><circle cx="1305.4" cy="716.9" r="5"/><circle cx="1306.4" cy="765.7" r="5"/><circle cx="1307.4" cy="765.2" r="5"/><circle cx="1308.4" cy="768.7" r="5"/><circle cx="1309.4" cy="762.1" r="5"/><circle cx="1310.4" cy="730.2" r="5"/><circle cx="1311.4" cy="770.5" r="5"/><circle cx="1312.4" cy="757.7" r="5"/><circle cx="1313.4" cy="764.0" r="5"/><circle cx="1314.4" cy="754.9" r="5"/><circle cx="1315.4" cy="754.1" r="5"/><circle cx="1316.4" cy="754.6" r="5"/><circle cx="1317.4" cy="777.2" r="5"/><circle cx="1318.4" cy="758.6" r="5"/><circle cx="1319.4" cy="754.6" r="5"/><circle cx="1320.4" cy="740.7" r="5"/><circle cx="1321.4" cy="762.6" r="5"/><circle cx="1322.4" cy="757.8" r="5"/><circle cx="1323.4" cy="759.7" r="5"/><circle cx="1324.4" cy="771.1" r="5"/><circle cx="1325.4" cy="767.5" r="5"/><circle cx="1326.5" cy="759.2" r="5"/><circle cx="1327.5" cy="762.9" r="5"/><circle cx="1328.5" cy="762.8" r="5"/><circle cx="1329.5" cy="769.5" r="5"/><circle cx="1330.5" cy="771.3" r="5"/><circle cx="1331.5" cy="762.8" r="5"/><circle cx="1332.5" cy="749.7" r="5"/><circle cx="1333.5" cy="772.0" r="5"/><circle cx="1334.5" cy="773.0" r="5"/><circle cx="1335.5" cy="748.5" r="5"/><circle cx="1336.5" cy="768.4" r="5"/><circle cx="1337.5" cy="758.3" r="5"/><circle cx="1338.5" cy="737.7" r="5"/><circle cx="1339.5" cy="766.6" r="5"/><circle cx="1340.5" cy="779.5" r="5"/><circle cx="1341.5" cy="756.3" r="5"/><circle cx="1342.5" cy="755.7" r="5"/><circle cx="1343.5" cy="781.6" r="5"/><circle cx="1344.5" cy="752.7" r="5"/><circle cx="1345.5" cy="753.9" r="5"/><circle cx="1346.5" cy="762.6" r="5"/><circle cx="1347.5" cy="778.6" r="5"/><circle cx="1348.5" cy="779.2" r="5"/><circle cx="1349.5" cy="761.2" r="5"/><circle cx="1350.5" cy="764.5" r="5"/><circle cx="1351.5" cy="771.3" r="5"/><circle cx="1352.5" cy="768.4" r="5"/><circle cx="1353.5" cy="760.7" r="5"/><circle cx="1354.5" cy="757.2" r="5"/><circle cx="1355.5" cy="781.8" r="5"/><circle cx="1356.6" cy="769.8" r="5"/><circle cx="1357.6" cy="811.8" r="5"/><circle cx="1358.6" cy="779.4" r="5"/><circle cx="1359.6" cy="761.9" r="5"/><circle cx="1360.6" cy="771.6" r="5"/><circle cx="1361.6" cy="778.1" r="5"/><circle cx="1362.6" cy="778.1" r="5"/><circle cx="1363.6" cy="780.5" r="5"/><circle cx="1364.6" cy="782.6" r="5"/><circle cx="1365.6" cy="776.1" r="5"/><circle cx="1366.6" cy="787.3" r="5"/><circle cx="1367.6" cy="806.8" r="5"/><circle cx="1368.6" cy="771.0" r="5"/><circle cx="1369.6" cy="773.9" r="5"/><circle cx="1370.6" cy="788.7" r="5"/><circle cx="1371.6" cy="797.5" r="5"/><circle cx="1372.6" cy="793.8" r="5"/><circle cx="1373.6" cy="801.2" r="5"/><circle cx="1374.6" cy="783.8" r="5"/><circle cx="1375.6" cy="781.3" r="5"/><circle cx="1376.6" cy="792.7" r="5"/><circle cx="1377.6" cy="794.9" r="5"/><circle cx="1378.6" cy="808.4" r="5"/><circle cx="1379.6" cy="810.6" r="5"/><circle cx="1380.6" cy="762.7" r="5"/><circle cx="1381.6" cy="799.7" r="5"/><circle cx="1382.6" cy="781.1" r="5"/><circle cx="1383.6" cy="764.1" r="5"/><circle cx="1384.6" cy="796.9" r="5"/><circle cx="1385.6" cy="791.9" r="5"/><circle cx="1386.7" cy="791.1" r="5"/><circle cx="1387.7" cy="779.4" r="5"/><circle cx="1388.7" cy="781.6" r="5"/><circle cx="1389.7" cy="793.2" r="5"/><circle cx="1390.7" cy="778.9" r="5"/><circle cx="1391.7" cy="798.4" r="5"/><circle cx="1392.7" cy="800.2" r="5"/><circle cx="1393.7" cy="796.4" r="5"/><circle cx="1394.7" cy="800.7" r="5"/><circle cx="1395.7" cy="796.7" r="5"/><circle cx="1396.7" cy="781.3" r="5"/><circle cx="1397.7" cy="782.4" r="5"/><circle cx="1398.7" cy="795.8" r="5"/><circle cx="1399.7" cy="809.0" r="5"/><circle cx="1400.7" cy="798.2" r="5"/><circle cx="1401.7" cy="788.7" r="5"/><circle cx="1402.7" cy="795.5" r="5"/><circle cx="1403.7" cy="768.5" r="5"/><circle cx="1404.7" cy="781.3" r="5"/><circle cx="1405.7" cy="787.3" r="5"/><circle cx="1406.7" cy="791.3" r="5"/><circle cx="1407.7" cy="789.8" r="5"/><circle cx="1408.7" cy="791.6" r="5"/><circle cx="1409.7" cy="778.6" r="5"/><circle cx="1410.7" cy="789.8" r="5"/><circle cx="1411.7" cy="802.6" r="5"/><circle cx="1412.7" cy="774.8" r="5"/><circle cx="1413.7" cy="784.2" r="5"/><circle cx="1414.7" cy="794.1" r="5"/><circle cx="1415.7" cy="818.0" r="5"/><circle cx="1416.8" cy="805.1" r="5"/><circle cx="1417.8" cy="819.1" r="5"/><circle cx="1418.8" cy="818.2" r="5"/><circle cx="1419.8" cy="790.2" r="5"/><circle cx="1420.8" cy="797.1" r="5"/><circle cx="1421.8" cy="783.2" r="5"/><circle cx="1422.8" cy="814.0" r="5"/><circle cx="1423.8" cy="809.1" r="5"/><circle cx="1424.8" cy="808.9" r="5"/><circle cx="1425.8" cy="810.6" r="5"/><circle cx="1426.8" cy="809.4" r="5"/><circle cx="1427.8" cy="806.4" r="5"/><circle cx="1428.8" cy="808.2" r="5"/><circle cx="1429.8" cy="822.2" r="5"/><circle cx="1430.8" cy="794.0" r="5"/><circle cx="1431.8" cy="793.7" r="5"/><circle cx="1432.8" cy="809.1" r="5"/><circle cx="1433.8" cy="825.0" r="5"/><circle cx="1434.8" cy="815.9" r="5"/><circle cx="1435.8" cy="812.2" r="5"/><circle cx="1436.8" cy="827.9" r="5"/><circle cx="1437.8" cy="820.1" r="5"/><circle cx="1438.8" cy="791.6" r="5"/><circle cx="1439.8" cy="803.5" r="5"/><circle cx="1440.8" cy="786.4" r="5"/><circle cx="1441.8" cy="808.9" r="5"/><circle cx="1442.8" cy="805.9" r="5"/><circle cx="1443.8" cy="818.2" r="5"/><circle cx="1444.8" cy="842.2" r="5"/><circle cx="1445.8" cy="808.9" r="5"/><circle cx="1446.9" cy="816.7" r="5"/><circle cx="1447.9" cy="809.7" r="5"/><circle cx="1448.9" cy="774.7" r="5"/><circle cx="1449.9" cy="803.1" r="5"/><circle cx="1450.9" cy="803.3" r="5"/><circle cx="1451.9" cy="816.2" r="5"/><circle cx="1452.9" cy="801.1" r="5"/><circle cx="1453.9" cy="796.4" r="5"/><circle cx="1454.9" cy="821.9" r="5"/><circle cx="1455.9" cy="816.0" r="5"/><circle cx="1456.9" cy="805.1" r="5"/><circle cx="1457.9" cy="809.5" r="5"/><circle cx="1458.9" cy="817.0" r="5"/><circle cx="1459.9" cy="833.5" r="5"/><circle cx="1460.9" cy="839.4" r="5"/><circle cx="1461.9" cy="802.0" r="5"/><circle cx="1462.9" cy="838.9" r="5"/><circle cx="1463.9" cy="825.1" r="5"/><circle cx="1464.9" cy="831.2" r="5"/><circle cx="1465.9" cy="839.7" r="5"/><circle cx="1466.9" cy="815.2" r="5"/><circle cx="1467.9" cy="840.0" r="5"/><circle cx="1468.9" cy="811.5" r="5"/><circle cx="1469.9" cy="826.2" r="5"/><circle cx="1470.9" cy="820.0" r="5"/><circle cx="1471.9" cy="859.0" r="5"/><circle cx="1472.9" cy="858.4" r="5"/><circle cx="1473.9" cy="847.9" r="5"/><circle cx="1474.9" cy="845.0" r="5"/><circle cx="1475.9" cy="831.4" r="5"/><circle cx="1477.0" cy="863.6" r="5"/><circle cx="1478.0" cy="859.1" r="5"/><circle cx="1479.0" cy="851.5" r="5"/><circle cx="1480.0" cy="836.7" r="5"/><circle cx="1481.0" cy="832.7" r="5"/><circle cx="1482.0" cy="836.9" r="5"/><circle cx="1483.0" cy="857.8" r="5"/><circle cx="1484.0" cy="827.1" r="5"/><circle cx="1485.0" cy="843.7" r="5"/><circle cx="1486.0" cy="866.0" r="5"/><circle cx="1487.0" cy="855.4" r="5"/><circle cx="1488.0" cy="866.5" r="5"/><circle cx="1489.0" cy="848.6" r="5"/><circle cx="1490.0" cy="848.5" r="5"/><circle cx="1491.0" cy="862.4" r="5"/><circle cx="1492.0" cy="854.5" r="5"/><circle cx="1493.0" cy="850.9" r="5"/><circle cx="1494.0" cy="840.4" r="5"/><circle cx="1495.0" cy="827.2" r="5"/><circle cx="1496.0" cy="869.0" r="5"/><circle cx="1497.0" cy="840.2" r="5"/><circle cx="1498.0" cy="833.6" r="5"/><circle cx="1499.0" cy="855.9" r="5"/><circle cx="1500.0" cy="830.5" r="5"/><circle cx="1501.0" cy="823.8" r="5"/><circle cx="1502.0" cy="831.3" r="5"/><circle cx="1503.0" cy="838.2" r="5"/><circle cx="1504.0" cy="844.8" r="5"/><circle cx="1505.0" cy="848.2" r="5"/><circle cx="1506.0" cy="854.3" r="5"/><circle cx="1507.1" cy="837.5" r="5"/><circle cx="1508.1" cy="845.0" r="5"/><circle cx="1509.1" cy="837.8" r="5"/><circle cx="1510.1" cy="831.1" r="5"/><circle cx="1511.1" cy="846.0" r="5"/><circle cx="1512.1" cy="846.1" r="5"/><circle cx="1513.1" cy="867.7" r="5"/><circle cx="1514.1" cy="849.9" r="5"/><circle cx="1515.1" cy="830.5" r="5"/><circle cx="1516.1" cy="848.4" r="5"/><circle cx="1517.1" cy="839.8" r="5"/><circle cx="1518.1" cy="866.4" r="5"/><circle cx="1519.1" cy="821.4" r="5"/><circle cx="1520.1" cy="838.3" r="5"/><circle cx="1521.1" cy="839.5" r="5"/><circle cx="1522.1" cy="851.5" r="5"/><circle cx="1523.1" cy="850.6" r="5"/><circle cx="1524.1" cy="833.5" r="5"/><circle cx="1525.1" cy="829.5" r="5"/><circle cx="1526.1" cy="859.8" r="5"/><circle cx="1527.1" cy="878.0" r="5"/><circle cx="1528.1" cy="880.4" r="5"/><circle cx="1529.1" cy="853.7" r="5"/><circle cx="1530.1" cy="866.1" r="5"/><circle cx="1531.1" cy="849.1" r="5"/><circle cx="1532.1" cy="841.8" r="5"/><circle cx="1533.1" cy="880.1" r="5"/><circle cx="1534.1" cy="871.0" r="5"/><circle cx="1535.1" cy="856.9" r="5"/><circle cx="1536.1" cy="853.9" r="5"/><circle cx="1537.2" cy="872.1" r="5"/><circle cx="1538.2" cy="860.8" r="5"/><circle cx="1539.2" cy="851.2" r="5"/><circle cx="1540.2" cy="862.5" r="5"/><circle cx="1541.2" cy="859.4" r="5"/><circle cx="1542.2" cy="852.8" r="5"/><circle cx="1543.2" cy="848.1" r="5"/><circle cx="1544.2" cy="871.8" r="5"/><circle cx="1545.2" cy="854.1" r="5"/><circle cx="1546.2" cy="844.1" r="5"/><circle cx="1547.2" cy="882.6" r="5"/><circle cx="1548.2" cy="873.1" r="5"/><circle cx="1549.2" cy="862.1" r="5"/><circle cx="1550.2" cy="851.9" r="5"/><circle cx="1551.2" cy="858.6" r="5"/><circle cx="1552.2" cy="835.7" r="5"/><circle cx="1553.2" cy="857.6" r="5"/><circle cx="1554.2" cy="861.4" r="5"/><circle cx="1555.2" cy="852.4" r="5"/><circle cx="1556.2" cy="860.6" r="5"/><circle cx="1557.2" cy="846.2" r="5"/><circle cx="1558.2" cy="860.9" r="5"/><circle cx="1559.2" cy="835.9" r="5"/><circle cx="1560.2" cy="854.5" r="5"/><circle cx="1561.2" cy="849.8" r="5"/><circle cx="1562.2" cy="843.2" r="5"/><circle cx="1563.2" cy="857.7" r="5"/><circle cx="1564.2" cy="867.1" r="5"/><circle cx="1565.2" cy="859.9" r="5"/><circle cx="1566.2" cy="880.9" r="5"/><circle cx="1567.3" cy="858.2" r="5"/><circle cx="1568.3" cy="880.9" r="5"/><circle cx="1569.3" cy="877.9" r="5"/><circle cx="1570.3" cy="861.2" r="5"/><circle cx="1571.3" cy="889.9" r="5"/><circle cx="1572.3" cy="852.5" r="5"/><circle cx="1573.3" cy="878.9" r="5"/><circle cx="1574.3" cy="871.9" r="5"/><circle cx="1575.3" cy="884.7" r="5"/><circle cx="1576.3" cy="847.8" r="5"/><circle cx="1577.3" cy="852.4" r="5"/><circle cx="1578.3" cy="857.8" r="5"/><circle cx="1579.3" cy="869.9" r="5"/><circle cx="1580.3" cy="872.2" r="5"/><circle cx="1581.3" cy="870.7" r="5"/><circle cx="1582.3" cy="867.8" r="5"/><circle cx="1583.3" cy="859.9" r="5"/><circle cx="1584.3" cy="853.6" r="5"/><circle cx="1585.3" cy="867.2" r="5"/><circle cx="1586.3" cy="883.2" r="5"/><circle cx="1587.3" cy="888.5" r="5"/><circle cx="1588.3" cy="865.7" r="5"/><circle cx="1589.3" cy="890.6" r="5"/><circle cx="1590.3" cy="855.2" r="5"/><circle cx="1591.3" cy="885.8" r="5"/><circle cx="1592.3" cy="859.2" r="5"/><circle cx="1593.3" cy="878.2" r="5"/><circle cx="1594.3" cy="857.3" r="5"/><circle cx="1595.3" cy="855.3" r="5"/><circle cx="1596.3" cy="865.2" r="5"/><circle cx="1597.4" cy="892.5" r="5"/><circle cx="1598.4" cy="864.7" r="5"/><circle cx="1599.4" cy="881.8" r="5"/><circle cx="1600.4" cy="875.3" r="5"/><circle cx="1601.4" cy="875.1" r="5"/><circle cx="1602.4" cy="875.6" r="5"/><circle cx="1603.4" cy="883.6" r="5"/><circle cx="1604.4" cy="859.3" r="5"/><circle cx="1605.4" cy="879.7" r="5"/><circle cx="1606.4" cy="887.5" r="5"/><circle cx="1607.4" cy="873.4" r="5"/><circle cx="1608.4" cy="887.4" r="5"/><circle cx="1609.4" cy="869.8" r="5"/><circle cx="1610.4" cy="895.1" r="5"/><circle cx="1611.4" cy="874.0" r="5"/><circle cx="1612.4" cy="881.8" r="5"/><circle cx="1613.4" cy="897.9" r="5"/><circle cx="1614.4" cy="899.5" r="5"/><circle cx="1615.4" cy="875.9" r="5"/><circle cx="1616.4" cy="876.3" r="5"/><circle cx="1617.4" cy="900.0" r="5"/><circle cx="1618.4" cy="844.1" r="5"/><circle cx="1619.4" cy="903.3" r="5"/><circle cx="1620.4" cy="903.9" r="5"/><circle cx="1621.4" cy="869.2" r="5"/><circle cx="1622.4" cy="906.9" r="5"/><circle cx="1623.4" cy="895.7" r="5"/><circle cx="1624.4" cy="898.1" r="5"/><circle cx="1625.4" cy="862.4" r="5"/><circle cx="1626.4" cy="888.1" r="5"/><circle cx="1627.5" cy="891.6" r="5"/><circle cx="1628.5" cy="890.1" r="5"/><circle cx="1629.5" cy="890.4" r="5"/><circle cx="1630.5" cy="890.4" r="5"/><circle cx="1631.5" cy="856.4" r="5"/><circle cx="1632.5" cy="895.8" r="5"/><circle cx="1633.5" cy="889.5" r="5"/><circle cx="1634.5" cy="898.3" r="5"/><circle cx="1635.5" cy="891.5" r="5"/><circle cx="1636.5" cy="897.5" r="5"/><circle cx="1637.5" cy="898.5" r="5"/><circle cx="1638.5" cy="918.7" r="5"/><circle cx="1639.5" cy="883.1" r="5"/><circle cx="1640.5" cy="919.1" r="5"/><circle cx="1641.5" cy="892.4" r="5"/></g>
<g fill="url(#gM)"><circle cx="291.0" cy="60.6" r="5"/><circle cx="292.0" cy="60.8" r="5"/><circle cx="293.0" cy="61.3" r="5"/><circle cx="294.0" cy="63.2" r="5"/><circle cx="295.0" cy="65.1" r="5"/><circle cx="296.0" cy="66.4" r="5"/><circle cx="297.0" cy="67.1" r="5"/><circle cx="298.0" cy="68.4" r="5"/><circle cx="299.0" cy="68.3" r="5"/><circle cx="300.0" cy="71.4" r="5"/><circle cx="301.0" cy="72.3" r="5"/><circle cx="302.0" cy="73.3" r="5"/><circle cx="303.1" cy="71.8" r="5"/><circle cx="304.1" cy="75.5" r="5"/><circle cx="305.1" cy="77.1" r="5"/><circle cx="306.1" cy="78.6" r="5"/><circle cx="307.1" cy="75.2" r="5"/><circle cx="308.1" cy="77.4" r="5"/><circle cx="309.1" cy="81.8" r="5"/><circle cx="310.1" cy="81.3" r="5"/><circle cx="311.1" cy="84.4" r="5"/><circle cx="312.1" cy="85.1" r="5"/><circle cx="313.1" cy="87.8" r="5"/><circle cx="314.1" cy="87.1" r="5"/><circle cx="315.1" cy="87.5" r="5"/><circle cx="316.1" cy="90.9" r="5"/><circle cx="317.1" cy="91.1" r="5"/><circle cx="318.1" cy="91.2" r="5"/><circle cx="319.1" cy="91.1" r="5"/><circle cx="320.1" cy="100.0" r="5"/><circle cx="321.1" cy="95.9" r="5"/><circle cx="322.1" cy="97.4" r="5"/><circle cx="323.1" cy="95.7" r="5"/><circle cx="324.1" cy="98.3" r="5"/><circle cx="325.1" cy="101.0" r="5"/><circle cx="326.1" cy="102.7" r="5"/><circle cx="327.1" cy="104.4" r="5"/><circle cx="328.1" cy="103.0" r="5"/><circle cx="329.1" cy="106.1" r="5"/><circle cx="330.1" cy="108.4" r="5"/><circle cx="331.1" cy="106.8" r="5"/><circle cx="332.1" cy="108.9" r="5"/><circle cx="333.2" cy="106.9" r="5"/><circle cx="334.2" cy="109.6" r="5"/><circle cx="335.2" cy="109.5" r="5"/><circle cx="336.2" cy="114.4" r="5"/><circle cx="337.2" cy="114.1" r="5"/><circle cx="338.2" cy="118.9" r="5"/><circle cx="339.2" cy="117.3" r="5"/><circle cx="340.2" cy="119.3" r="5"/><circle cx="341.2" cy="120.2" r="5"/><circle cx="342.2" cy="121.0" r="5"/><circle cx="343.2" cy="119.5" r="5"/><circle cx="344.2" cy="126.1" r="5"/><circle cx="345.2" cy="124.0" r="5"/><circle cx="346.2" cy="122.2" r="5"/><circle cx="347.2" cy="125.7" r="5"/><circle cx="348.2" cy="125.7" r="5"/><circle cx="349.2" cy="131.1" r="5"/><circle cx="350.2" cy="132.6" r="5"/><circle cx="351.2" cy="134.7" r="5"/><circle cx="352.2" cy="137.4" r="5"/><circle cx="353.2" cy="132.3" r="5"/><circle cx="354.2" cy="131.1" r="5"/><circle cx="355.2" cy="134.5" r="5"/><circle cx="356.2" cy="138.3" r="5"/><circle cx="357.2" cy="132.6" r="5"/><circle cx="358.2" cy="138.4" r="5"/><circle cx="359.2" cy="142.5" r="5"/><circle cx="360.2" cy="140.0" r="5"/><circle cx="361.2" cy="142.5" r="5"/><circle cx="362.2" cy="141.8" r="5"/><circle cx="363.3" cy="149.5" r="5"/><circle cx="364.3" cy="151.7" r="5"/><circle cx="365.3" cy="145.7" r="5"/><circle cx="366.3" cy="146.9" r="5"/><circle cx="367.3" cy="150.4" r="5"/><circle cx="368.3" cy="153.1" r="5"/><circle cx="369.3" cy="153.6" r="5"/><circle cx="370.3" cy="155.6" r="5"/><circle cx="371.3" cy="157.6" r="5"/><circle cx="372.3" cy="159.4" r="5"/><circle cx="373.3" cy="162.3" r="5"/><circle cx="374.3" cy="159.5" r="5"/><circle cx="375.3" cy="158.8" r="5"/><circle cx="376.3" cy="161.2" r="5"/><circle cx="377.3" cy="168.2" r="5"/><circle cx="378.3" cy="165.7" r="5"/><circle cx="379.3" cy="166.3" r="5"/><circle cx="380.3" cy="169.1" r="5"/><circle cx="381.3" cy="170.1" r="5"/><circle cx="382.3" cy="173.9" r="5"/><circle cx="383.3" cy="167.0" r="5"/><circle cx="384.3" cy="171.0" r="5"/><circle cx="385.3" cy="173.1" r="5"/><circle cx="386.3" cy="174.5" r="5"/><circle cx="387.3" cy="172.4" r="5"/><circle cx="388.3" cy="170.3" r="5"/><circle cx="389.3" cy="174.7" r="5"/><circle cx="390.3" cy="174.5" r="5"/><circle cx="391.3" cy="177.0" r="5"/><circle cx="392.3" cy="181.5" r="5"/><circle cx="393.4" cy="181.5" r="5"/><circle cx="394.4" cy="177.7" r="5"/><circle cx="395.4" cy="179.9" r="5"/><circle cx="396.4" cy="183.5" r="5"/><circle cx="397.4" cy="187.3" r="5"/><circle cx="398.4" cy="185.4" r="5"/><circle cx="399.4" cy="186.6" r="5"/><circle cx="400.4" cy="183.4" r="5"/><circle cx="401.4" cy="187.3" r="5"/><circle cx="402.4" cy="187.9" r="5"/><circle cx="403.4" cy="191.7" r="5"/><circle cx="404.4" cy="191.4" r="5"/><circle cx="405.4" cy="191.1" r="5"/><circle cx="406.4" cy="191.4" r="5"/><circle cx="407.4" cy="195.8" r="5"/><circle cx="408.4" cy="194.5" r="5"/><circle cx="409.4" cy="200.4" r="5"/><circle cx="410.4" cy="199.3" r="5"/><circle cx="411.4" cy="199.2" r="5"/><circle cx="412.4" cy="203.2" r="5"/><circle cx="413.4" cy="197.8" r="5"/><circle cx="414.4" cy="205.1" r="5"/><circle cx="415.4" cy="202.0" r="5"/><circle cx="416.4" cy="207.0" r="5"/><circle cx="417.4" cy="204.0" r="5"/><circle cx="418.4" cy="204.2" r="5"/><circle cx="419.4" cy="203.2" r="5"/><circle cx="420.4" cy="209.3" r="5"/><circle cx="421.4" cy="211.9" r="5"/><circle cx="422.4" cy="207.6" r="5"/><circle cx="423.5" cy="217.4" r="5"/><circle cx="424.5" cy="213.6" r="5"/><circle cx="425.5" cy="210.7" r="5"/><circle cx="426.5" cy="220.9" r="5"/><circle cx="427.5" cy="215.2" r="5"/><circle cx="428.5" cy="221.8" r="5"/><circle cx="429.5" cy="211.0" r="5"/><circle cx="430.5" cy="226.2" r="5"/><circle cx="431.5" cy="221.9" r="5"/><circle cx="432.5" cy="222.8" r="5"/><circle cx="433.5" cy="224.9" r="5"/><circle cx="434.5" cy="221.7" r="5"/><circle cx="435.5" cy="228.8" r="5"/><circle cx="436.5" cy="228.6" r="5"/><circle cx="437.5" cy="229.2" r="5"/><circle cx="438.5" cy="228.0" r="5"/><circle cx="439.5" cy="228.0" r="5"/><circle cx="440.5" cy="233.5" r="5"/><circle cx="441.5" cy="235.2" r="5"/><circle cx="442.5" cy="234.5" r="5"/><circle cx="443.5" cy="234.5" r="5"/><circle cx="444.5" cy="234.9" r="5"/><circle cx="445.5" cy="239.1" r="5"/><circle cx="446.5" cy="242.4" r="5"/><circle cx="447.5" cy="238.5" r="5"/><circle cx="448.5" cy="237.6" r="5"/><circle cx="449.5" cy="248.4" r="5"/><circle cx="450.5" cy="237.5" r="5"/><circle cx="451.5" cy="243.7" r="5"/><circle cx="452.5" cy="243.8" r="5"/><circle cx="453.6" cy="249.0" r="5"/><circle cx="454.6" cy="244.8" r="5"/><circle cx="455.6" cy="241.1" r="5"/><circle cx="456.6" cy="244.4" r="5"/><circle cx="457.6" cy="249.2" r="5"/><circle cx="458.6" cy="249.9" r="5"/><circle cx="459.6" cy="249.3" r="5"/><circle cx="460.6" cy="250.7" r="5"/><circle cx="461.6" cy="248.6" r="5"/><circle cx="462.6" cy="249.9" r="5"/><circle cx="463.6" cy="253.5" r="5"/><circle cx="464.6" cy="254.4" r="5"/><circle cx="465.6" cy="257.2" r="5"/><circle cx="466.6" cy="255.4" r="5"/><circle cx="467.6" cy="264.8" r="5"/><circle cx="468.6" cy="256.0" r="5"/><circle cx="469.6" cy="265.1" r="5"/><circle cx="470.6" cy="265.5" r="5"/><circle cx="471.6" cy="269.6" r="5"/><circle cx="472.6" cy="270.0" r="5"/><circle cx="473.6" cy="262.8" r="5"/><circle cx="474.6" cy="268.4" r="5"/><circle cx="475.6" cy="270.4" r="5"/><circle cx="476.6" cy="271.8" r="5"/><circle cx="477.6" cy="271.6" r="5"/><circle cx="478.6" cy="269.4" r="5"/><circle cx="479.6" cy="276.2" r="5"/><circle cx="480.6" cy="272.7" r="5"/><circle cx="481.6" cy="272.1" r="5"/><circle cx="482.6" cy="275.1" r="5"/><circle cx="483.7" cy="273.8" r="5"/><circle cx="484.7" cy="274.3" r="5"/><circle cx="485.7" cy="277.9" r="5"/><circle cx="486.7" cy="286.1" r="5"/><circle cx="487.7" cy="279.3" r="5"/><circle cx="488.7" cy="279.5" r="5"/><circle cx="489.7" cy="278.8" r="5"/><circle cx="490.7" cy="282.3" r="5"/><circle cx="491.7" cy="278.9" r="5"/><circle cx="492.7" cy="285.1" r="5"/><circle cx="493.7" cy="285.2" r="5"/><circle cx="494.7" cy="285.7" r="5"/><circle cx="495.7" cy="288.0" r="5"/><circle cx="496.7" cy="287.4" r="5"/><circle cx="497.7" cy="290.9" r="5"/><circle cx="498.7" cy="291.5" r="5"/><circle cx="499.7" cy="292.4" r="5"/><circle cx="500.7" cy="292.0" r="5"/><circle cx="501.7" cy="295.9" r="5"/><circle cx="502.7" cy="293.9" r="5"/><circle cx="503.7" cy="299.9" r="5"/><circle cx="504.7" cy="296.7" r="5"/><circle cx="505.7" cy="302.0" r="5"/><circle cx="506.7" cy="299.6" r="5"/><circle cx="507.7" cy="299.5" r="5"/><circle cx="508.7" cy="297.7" r="5"/><circle cx="509.7" cy="303.6" r="5"/><circle cx="510.7" cy="303.7" r="5"/><circle cx="511.7" cy="303.1" r="5"/><circle cx="512.7" cy="305.2" r="5"/><circle cx="513.8" cy="305.4" r="5"/><circle cx="514.8" cy="303.3" r="5"/><circle cx="515.8" cy="302.9" r="5"/><circle cx="516.8" cy="310.3" r="5"/><circle cx="517.8" cy="310.1" r="5"/><circle cx="518.8" cy="315.4" r="5"/><circle cx="519.8" cy="317.4" r="5"/><circle cx="520.8" cy="314.6" r="5"/><circle cx="521.8" cy="315.0" r="5"/><circle cx="522.8" cy="315.6" r="5"/><circle cx="523.8" cy="314.5" r="5"/><circle cx="524.8" cy="313.1" r="5"/><circle cx="525.8" cy="307.2" r="5"/><circle cx="526.8" cy="319.6" r="5"/><circle cx="527.8" cy="320.0" r="5"/><circle cx="528.8" cy="319.6" r="5"/><circle cx="529.8" cy="320.3" r="5"/><circle cx="530.8" cy="324.2" r="5"/><circle cx="531.8" cy="324.5" r="5"/><circle cx="532.8" cy="322.7" r="5"/><circle cx="533.8" cy="321.5" r="5"/><circle cx="534.8" cy="325.3" r="5"/><circle cx="535.8" cy="326.9" r="5"/><circle cx="536.8" cy="332.1" r="5"/><circle cx="537.8" cy="322.9" r="5"/><circle cx="538.8" cy="328.3" r="5"/><circle cx="539.8" cy="324.8" r="5"/><circle cx="540.8" cy="328.1" r="5"/><circle cx="541.8" cy="338.6" r="5"/><circle cx="542.8" cy="330.6" r="5"/><circle cx="543.9" cy="332.0" r="5"/><circle cx="544.9" cy="331.6" r="5"/><circle cx="545.9" cy="337.9" r="5"/><circle cx="546.9" cy="334.3" r="5"/><circle cx="547.9" cy="331.4" r="5"/><circle cx="548.9" cy="338.8" r="5"/><circle cx="549.9" cy="342.4" r="5"/><circle cx="550.9" cy="340.4" r="5"/><circle cx="551.9" cy="341.6" r="5"/><circle cx="552.9" cy="339.5" r="5"/><circle cx="553.9" cy="340.2" r="5"/><circle cx="554.9" cy="344.4" r="5"/><circle cx="555.9" cy="340.9" r="5"/><circle cx="556.9" cy="344.3" r="5"/><circle cx="557.9" cy="343.0" r="5"/><circle cx="558.9" cy="346.5" r="5"/><circle cx="559.9" cy="351.4" r="5"/><circle cx="560.9" cy="349.6" r="5"/><circle cx="561.9" cy="354.7" r="5"/><circle cx="562.9" cy="353.1" r="5"/><circle cx="563.9" cy="352.5" r="5"/><circle cx="564.9" cy="350.1" r="5"/><circle cx="565.9" cy="354.3" r="5"/><circle cx="566.9" cy="351.1" r="5"/><circle cx="567.9" cy="359.3" r="5"/><circle cx="568.9" cy="352.5" r="5"/><circle cx="569.9" cy="352.9" r="5"/><circle cx="570.9" cy="355.7" r="5"/><circle cx="571.9" cy="353.6" r="5"/><circle cx="572.9" cy="361.0" r="5"/><circle cx="574.0" cy="358.7" r="5"/><circle cx="575.0" cy="360.6" r="5"/><circle cx="576.0" cy="364.6" r="5"/><circle cx="577.0" cy="355.3" r="5"/><circle cx="578.0" cy="363.3" r="5"/><circle cx="579.0" cy="366.6" r="5"/><circle cx="580.0" cy="370.2" r="5"/><circle cx="581.0" cy="368.1" r="5"/><circle cx="582.0" cy="365.9" r="5"/><circle cx="583.0" cy="372.9" r="5"/><circle cx="584.0" cy="374.4" r="5"/><circle cx="585.0" cy="380.4" r="5"/><circle cx="586.0" cy="380.4" r="5"/><circle cx="587.0" cy="371.8" r="5"/><circle cx="588.0" cy="378.3" r="5"/><circle cx="589.0" cy="374.4" r="5"/><circle cx="590.0" cy="370.4" r="5"/><circle cx="591.0" cy="378.1" r="5"/><circle cx="592.0" cy="381.0" r="5"/><circle cx="593.0" cy="367.8" r="5"/><circle cx="594.0" cy="382.9" r="5"/><circle cx="595.0" cy="375.2" r="5"/><circle cx="596.0" cy="385.7" r="5"/><circle cx="597.0" cy="381.3" r="5"/><circle cx="598.0" cy="381.2" r="5"/><circle cx="599.0" cy="386.0" r="5"/><circle cx="600.0" cy="380.2" r="5"/><circle cx="601.0" cy="391.2" r="5"/><circle cx="602.0" cy="380.0" r="5"/><circle cx="603.0" cy="382.8" r="5"/><circle cx="604.1" cy="382.5" r="5"/><circle cx="605.1" cy="389.9" r="5"/><circle cx="606.1" cy="388.8" r="5"/><circle cx="607.1" cy="393.0" r="5"/><circle cx="608.1" cy="394.9" r="5"/><circle cx="609.1" cy="395.0" r="5"/><circle cx="610.1" cy="397.4" r="5"/><circle cx="611.1" cy="397.5" r="5"/><circle cx="612.1" cy="394.2" r="5"/><circle cx="613.1" cy="392.5" r="5"/><circle cx="614.1" cy="392.8" r="5"/><circle cx="615.1" cy="400.8" r="5"/><circle cx="616.1" cy="396.6" r="5"/><circle cx="617.1" cy="396.3" r="5"/><circle cx="618.1" cy="397.6" r="5"/><circle cx="619.1" cy="401.1" r="5"/><circle cx="620.1" cy="403.4" r="5"/><circle cx="621.1" cy="401.6" r="5"/><circle cx="622.1" cy="399.5" r="5"/><circle cx="623.1" cy="407.3" r="5"/><circle cx="624.1" cy="395.6" r="5"/><circle cx="625.1" cy="404.4" r="5"/><circle cx="626.1" cy="411.9" r="5"/><circle cx="627.1" cy="409.0" r="5"/><circle cx="628.1" cy="413.4" r="5"/><circle cx="629.1" cy="408.8" r="5"/><circle cx="630.1" cy="411.8" r="5"/><circle cx="631.1" cy="409.8" r="5"/><circle cx="632.1" cy="408.3" r="5"/><circle cx="633.1" cy="412.7" r="5"/><circle cx="634.2" cy="415.5" r="5"/><circle cx="635.2" cy="404.3" r="5"/><circle cx="636.2" cy="409.6" r="5"/><circle cx="637.2" cy="404.9" r="5"/><circle cx="638.2" cy="409.9" r="5"/><circle cx="639.2" cy="409.5" r="5"/><circle cx="640.2" cy="414.0" r="5"/><circle cx="641.2" cy="415.5" r="5"/><circle cx="642.2" cy="422.2" r="5"/><circle cx="643.2" cy="424.5" r="5"/><circle cx="644.2" cy="416.5" r="5"/><circle cx="645.2" cy="418.0" r="5"/><circle cx="646.2" cy="424.5" r="5"/><circle cx="647.2" cy="419.2" r="5"/><circle cx="648.2" cy="420.8" r="5"/><circle cx="649.2" cy="415.6" r="5"/><circle cx="650.2" cy="427.7" r="5"/><circle cx="651.2" cy="426.8" r="5"/><circle cx="652.2" cy="421.4" r="5"/><circle cx="653.2" cy="421.3" r="5"/><circle cx="654.2" cy="422.9" r="5"/><circle cx="655.2" cy="429.9" r="5"/><circle cx="656.2" cy="426.2" r="5"/><circle cx="657.2" cy="423.4" r="5"/><circle cx="658.2" cy="427.8" r="5"/><circle cx="659.2" cy="434.6" r="5"/><circle cx="660.2" cy="437.6" r="5"/><circle cx="661.2" cy="438.7" r="5"/><circle cx="662.2" cy="434.3" r="5"/><circle cx="663.2" cy="435.5" r="5"/><circle cx="664.3" cy="435.7" r="5"/><circle cx="665.3" cy="438.2" r="5"/><circle cx="666.3" cy="438.8" r="5"/><circle cx="667.3" cy="433.7" r="5"/><circle cx="668.3" cy="435.1" r="5"/><circle cx="669.3" cy="437.9" r="5"/><circle cx="670.3" cy="444.4" r="5"/><circle cx="671.3" cy="439.1" r="5"/><circle cx="672.3" cy="438.9" r="5"/><circle cx="673.3" cy="448.7" r="5"/><circle cx="674.3" cy="450.9" r="5"/><circle cx="675.3" cy="440.6" r="5"/><circle cx="676.3" cy="445.4" r="5"/><circle cx="677.3" cy="452.2" r="5"/><circle cx="678.3" cy="445.9" r="5"/><circle cx="679.3" cy="453.3" r="5"/><circle cx="680.3" cy="442.8" r="5"/><circle cx="681.3" cy="450.0" r="5"/><circle cx="682.3" cy="454.4" r="5"/><circle cx="683.3" cy="459.7" r="5"/><circle cx="684.3" cy="457.7" r="5"/><circle cx="685.3" cy="444.9" r="5"/><circle cx="686.3" cy="446.8" r="5"/><circle cx="687.3" cy="450.7" r="5"/><circle cx="688.3" cy="460.0" r="5"/><circle cx="689.3" cy="460.3" r="5"/><circle cx="690.3" cy="462.4" r="5"/><circle cx="691.3" cy="461.0" r="5"/><circle cx="692.3" cy="455.7" r="5"/><circle cx="693.3" cy="457.7" r="5"/><circle cx="694.4" cy="455.8" r="5"/><circle cx="695.4" cy="465.3" r="5"/><circle cx="696.4" cy="455.8" r="5"/><circle cx="697.4" cy="463.1" r="5"/><circle cx="698.4" cy="465.2" r="5"/><circle cx="699.4" cy="471.0" r="5"/><circle cx="700.4" cy="463.2" r="5"/><circle cx="701.4" cy="469.5" r="5"/><circle cx="702.4" cy="462.7" r="5"/><circle cx="703.4" cy="473.4" r="5"/><circle cx="704.4" cy="468.2" r="5"/><circle cx="705.4" cy="470.0" r="5"/><circle cx="706.4" cy="466.8" r="5"/><circle cx="707.4" cy="468.7" r="5"/><circle cx="708.4" cy="469.1" r="5"/><circle cx="709.4" cy="471.0" r="5"/><circle cx="710.4" cy="480.8" r="5"/><circle cx="711.4" cy="470.2" r="5"/><circle cx="712.4" cy="477.5" r="5"/><circle cx="713.4" cy="481.0" r="5"/><circle cx="714.4" cy="471.2" r="5"/><circle cx="715.4" cy="466.5" r="5"/><circle cx="716.4" cy="481.4" r="5"/><circle cx="717.4" cy="471.4" r="5"/><circle cx="718.4" cy="477.6" r="5"/><circle cx="719.4" cy="481.0" r="5"/><circle cx="720.4" cy="483.0" r="5"/><circle cx="721.4" cy="481.0" r="5"/><circle cx="722.4" cy="480.5" r="5"/><circle cx="723.4" cy="490.5" r="5"/><circle cx="724.5" cy="486.4" r="5"/><circle cx="725.5" cy="496.0" r="5"/><circle cx="726.5" cy="481.4" r="5"/><circle cx="727.5" cy="485.7" r="5"/><circle cx="728.5" cy="486.1" r="5"/><circle cx="729.5" cy="490.2" r="5"/><circle cx="730.5" cy="489.3" r="5"/><circle cx="731.5" cy="488.4" r="5"/><circle cx="732.5" cy="499.5" r="5"/><circle cx="733.5" cy="488.5" r="5"/><circle cx="734.5" cy="493.5" r="5"/><circle cx="735.5" cy="493.2" r="5"/><circle cx="736.5" cy="489.7" r="5"/><circle cx="737.5" cy="496.6" r="5"/><circle cx="738.5" cy="482.8" r="5"/><circle cx="739.5" cy="500.0" r="5"/><circle cx="740.5" cy="485.9" r="5"/><circle cx="741.5" cy="493.3" r="5"/><circle cx="742.5" cy="496.6" r="5"/><circle cx="743.5" cy="494.5" r="5"/><circle cx="744.5" cy="495.3" r="5"/><circle cx="745.5" cy="504.9" r="5"/><circle cx="746.5" cy="513.3" r="5"/><circle cx="747.5" cy="507.3" r="5"/><circle cx="748.5" cy="502.7" r="5"/><circle cx="749.5" cy="498.6" r="5"/><circle cx="750.5" cy="499.1" r="5"/><circle cx="751.5" cy="510.8" r="5"/><circle cx="752.5" cy="510.2" r="5"/><circle cx="753.5" cy="513.1" r="5"/><circle cx="754.6" cy="511.8" r="5"/><circle cx="755.6" cy="514.9" r="5"/><circle cx="756.6" cy="505.1" r="5"/><circle cx="757.6" cy="505.1" r="5"/><circle cx="758.6" cy="504.5" r="5"/><circle cx="759.6" cy="510.4" r="5"/><circle cx="760.6" cy="511.2" r="5"/><circle cx="761.6" cy="512.8" r="5"/><circle cx="762.6" cy="505.1" r="5"/><circle cx="763.6" cy="513.1" r="5"/><circle cx="764.6" cy="517.1" r="5"/><circle cx="765.6" cy="513.1" r="5"/><circle cx="766.6" cy="498.5" r="5"/><circle cx="767.6" cy="514.9" r="5"/><circle cx="768.6" cy="513.8" r="5"/><circle cx="769.6" cy="522.5" r="5"/><circle cx="770.6" cy="516.9" r="5"/><circle cx="771.6" cy="521.8" r="5"/><circle cx="772.6" cy="516.8" r="5"/><circle cx="773.6" cy="521.8" r="5"/><circle cx="774.6" cy="526.2" r="5"/><circle cx="775.6" cy="519.6" r="5"/><circle cx="776.6" cy="523.8" r="5"/><circle cx="777.6" cy="523.7" r="5"/><circle cx="778.6" cy="528.1" r="5"/><circle cx="779.6" cy="525.7" r="5"/><circle cx="780.6" cy="529.3" r="5"/><circle cx="781.6" cy="516.5" r="5"/><circle cx="782.6" cy="526.8" r="5"/><circle cx="783.6" cy="534.3" r="5"/><circle cx="784.7" cy="534.4" r="5"/><circle cx="785.7" cy="525.9" r="5"/><circle cx="786.7" cy="527.3" r="5"/><circle cx="787.7" cy="535.2" r="5"/><circle cx="788.7" cy="534.8" r="5"/><circle cx="789.7" cy="535.8" r="5"/><circle cx="790.7" cy="533.2" r="5"/><circle cx="791.7" cy="534.4" r="5"/><circle cx="792.7" cy="540.2" r="5"/><circle cx="793.7" cy="528.8" r="5"/><circle cx="794.7" cy="525.3" r="5"/><circle cx="795.7" cy="541.8" r="5"/><circle cx="796.7" cy="531.7" r="5"/><circle cx="797.7" cy="540.7" r="5"/><circle cx="798.7" cy="532.4" r="5"/><circle cx="799.7" cy="529.8" r="5"/><circle cx="800.7" cy="546.4" r="5"/><circle cx="801.7" cy="538.4" r="5"/><circle cx="802.7" cy="530.1" r="5"/><circle cx="803.7" cy="538.5" r="5"/><circle cx="804.7" cy="539.9" r="5"/><circle cx="805.7" cy="541.8" r="5"/><circle cx="806.7" cy="544.5" r="5"/><circle cx="807.7" cy="538.1" r="5"/><circle cx="808.7" cy="544.6" r="5"/><circle cx="809.7" cy="551.7" r="5"/><circle cx="810.7" cy="552.8" r="5"/><circle cx="811.7" cy="550.0" r="5"/><circle cx="812.7" cy="544.8" r="5"/><circle cx="813.7" cy="539.7" r="5"/><circle cx="814.8" cy="562.1" r="5"/><circle cx="815.8" cy="545.3" r="5"/><circle cx="816.8" cy="549.7" r="5"/><circle cx="817.8" cy="553.7" r="5"/><circle cx="818.8" cy="557.2" r="5"/><circle cx="819.8" cy="555.3" r="5"/><circle cx="820.8" cy="550.6" r="5"/><circle cx="821.8" cy="556.9" r="5"/><circle cx="822.8" cy="569.7" r="5"/><circle cx="823.8" cy="572.7" r="5"/><circle cx="824.8" cy="555.1" r="5"/><circle cx="825.8" cy="560.4" r="5"/><circle cx="826.8" cy="547.0" r="5"/><circle cx="827.8" cy="559.9" r="5"/><circle cx="828.8" cy="562.2" r="5"/><circle cx="829.8" cy="557.1" r="5"/><circle cx="830.8" cy="572.5" r="5"/><circle cx="831.8" cy="567.9" r="5"/><circle cx="832.8" cy="567.8" r="5"/><circle cx="833.8" cy="547.5" r="5"/><circle cx="834.8" cy="561.3" r="5"/><circle cx="835.8" cy="570.2" r="5"/><circle cx="836.8" cy="562.8" r="5"/><circle cx="837.8" cy="556.7" r="5"/><circle cx="838.8" cy="565.2" r="5"/><circle cx="839.8" cy="579.4" r="5"/><circle cx="840.8" cy="575.3" r="5"/><circle cx="841.8" cy="576.9" r="5"/><circle cx="842.8" cy="574.4" r="5"/><circle cx="843.8" cy="584.0" r="5"/><circle cx="844.9" cy="555.8" r="5"/><circle cx="845.9" cy="566.3" r="5"/><circle cx="846.9" cy="588.2" r="5"/><circle cx="847.9" cy="582.8" r="5"/><circle cx="848.9" cy="579.7" r="5"/><circle cx="849.9" cy="575.7" r="5"/><circle cx="850.9" cy="567.6" r="5"/><circle cx="851.9" cy="577.4" r="5"/><circle cx="852.9" cy="579.8" r="5"/><circle cx="853.9" cy="575.2" r="5"/><circle cx="854.9" cy="590.2" r="5"/><circle cx="855.9" cy="587.8" r="5"/><circle cx="856.9" cy="578.7" r="5"/><circle cx="857.9" cy="586.9" r="5"/><circle cx="858.9" cy="582.3" r="5"/><circle cx="859.9" cy="584.8" r="5"/><circle cx="860.9" cy="581.1" r="5"/><circle cx="861.9" cy="601.4" r="5"/><circle cx="862.9" cy="574.5" r="5"/><circle cx="863.9" cy="583.6" r="5"/><circle cx="864.9" cy="592.2" r="5"/><circle cx="865.9" cy="591.3" r="5"/><circle cx="866.9" cy="572.6" r="5"/><circle cx="867.9" cy="577.6" r="5"/><circle cx="868.9" cy="583.4" r="5"/><circle cx="869.9" cy="580.3" r="5"/><circle cx="870.9" cy="582.2" r="5"/><circle cx="871.9" cy="586.0" r="5"/><circle cx="872.9" cy="588.9" r="5"/><circle cx="873.9" cy="598.5" r="5"/><circle cx="875.0" cy="578.4" r="5"/><circle cx="876.0" cy="598.1" r="5"/><circle cx="877.0" cy="589.1" r="5"/><circle cx="878.0" cy="595.0" r="5"/><circle cx="879.0" cy="589.5" r="5"/><circle cx="880.0" cy="609.0" r="5"/><circle cx="881.0" cy="581.3" r="5"/><circle cx="882.0" cy="603.9" r="5"/><circle cx="883.0" cy="592.6" r="5"/><circle cx="884.0" cy="597.1" r="5"/><circle cx="885.0" cy="609.5" r="5"/><circle cx="886.0" cy="598.3" r="5"/><circle cx="887.0" cy="607.2" r="5"/><circle cx="888.0" cy="609.7" r="5"/><circle cx="889.0" cy="596.2" r="5"/><circle cx="890.0" cy="616.8" r="5"/><circle cx="891.0" cy="611.4" r="5"/><circle cx="892.0" cy="602.4" r="5"/><circle cx="893.0" cy="607.0" r="5"/><circle cx="894.0" cy="599.5" r="5"/><circle cx="895.0" cy="608.7" r="5"/><circle cx="896.0" cy="613.6" r="5"/><circle cx="897.0" cy="615.0" r="5"/><circle cx="898.0" cy="609.8" r="5"/><circle cx="899.0" cy="603.0" r="5"/><circle cx="900.0" cy="602.7" r="5"/><circle cx="901.0" cy="602.3" r="5"/><circle cx="902.0" cy="608.4" r="5"/><circle cx="903.0" cy="615.5" r="5"/><circle cx="904.0" cy="606.1" r="5"/><circle cx="905.1" cy="605.6" r="5"/><circle cx="906.1" cy="605.0" r="5"/><circle cx="907.1" cy="616.3" r="5"/><circle cx="908.1" cy="611.3" r="5"/><circle cx="909.1" cy="602.2" r="5"/><circle cx="910.1" cy="622.9" r="5"/><circle cx="911.1" cy="622.5" r="5"/><circle cx="912.1" cy="616.2" r="5"/><circle cx="913.1" cy="614.2" r="5"/><circle cx="914.1" cy="616.9" r="5"/><circle cx="915.1" cy="612.4" r="5"/><circle cx="916.1" cy="627.9" r="5"/><circle cx="917.1" cy="630.6" r="5"/><circle cx="918.1" cy="630.0" r="5"/><circle cx="919.1" cy="625.2" r="5"/><circle cx="920.1" cy="626.8" r="5"/><circle cx="921.1" cy="628.2" r="5"/><circle cx="922.1" cy="638.2" r="5"/><circle cx="923.1" cy="619.0" r="5"/><circle cx="924.1" cy="625.6" r="5"/><circle cx="925.1" cy="620.1" r="5"/><circle cx="926.1" cy="618.3" r="5"/><circle cx="927.1" cy="630.6" r="5"/><circle cx="928.1" cy="637.8" r="5"/><circle cx="929.1" cy="620.9" r="5"/><circle cx="930.1" cy="637.0" r="5"/><circle cx="931.1" cy="635.3" r="5"/><circle cx="932.1" cy="635.1" r="5"/><circle cx="933.1" cy="641.1" r="5"/><circle cx="934.1" cy="626.5" r="5"/><circle cx="935.2" cy="644.1" r="5"/><circle cx="936.2" cy="629.2" r="5"/><circle cx="937.2" cy="638.4" r="5"/><circle cx="938.2" cy="623.3" r="5"/><circle cx="939.2" cy="643.7" r="5"/><circle cx="940.2" cy="637.1" r="5"/><circle cx="941.2" cy="632.3" r="5"/><circle cx="942.2" cy="630.1" r="5"/><circle cx="943.2" cy="641.1" r="5"/><circle cx="944.2" cy="652.2" r="5"/><circle cx="945.2" cy="645.5" r="5"/><circle cx="946.2" cy="639.9" r="5"/><circle cx="947.2" cy="637.1" r="5"/><circle cx="948.2" cy="636.5" r="5"/><circle cx="949.2" cy="642.8" r="5"/><circle cx="950.2" cy="633.1" r="5"/><circle cx="951.2" cy="645.1" r="5"/><circle cx="952.2" cy="657.3" r="5"/><circle cx="953.2" cy="646.7" r="5"/><circle cx="954.2" cy="647.2" r="5"/><circle cx="955.2" cy="645.6" r="5"/><circle cx="956.2" cy="657.4" r="5"/><circle cx="957.2" cy="656.3" r="5"/><circle cx="958.2" cy="663.5" r="5"/><circle cx="959.2" cy="646.7" r="5"/><circle cx="960.2" cy="644.3" r="5"/><circle cx="961.2" cy="647.3" r="5"/><circle cx="962.2" cy="643.7" r="5"/><circle cx="963.2" cy="654.7" r="5"/><circle cx="964.2" cy="653.0" r="5"/><circle cx="965.3" cy="650.5" r="5"/><circle cx="966.3" cy="657.4" r="5"/><circle cx="967.3" cy="666.6" r="5"/><circle cx="968.3" cy="668.6" r="5"/><circle cx="969.3" cy="658.1" r="5"/><circle cx="970.3" cy="663.4" r="5"/><circle cx="971.3" cy="666.6" r="5"/><circle cx="972.3" cy="669.7" r="5"/><circle cx="973.3" cy="659.8" r="5"/><circle cx="974.3" cy="653.1" r="5"/><circle cx="975.3" cy="668.3" r="5"/><circle cx="976.3" cy="659.3" r="5"/><circle cx="977.3" cy="665.0" r="5"/><circle cx="978.3" cy="666.5" r="5"/><circle cx="979.3" cy="675.6" r="5"/><circle cx="980.3" cy="665.1" r="5"/><circle cx="981.3" cy="670.3" r="5"/><circle cx="982.3" cy="665.9" r="5"/><circle cx="983.3" cy="661.3" r="5"/><circle cx="984.3" cy="673.4" r="5"/><circle cx="985.3" cy="661.9" r="5"/><circle cx="986.3" cy="668.9" r="5"/><circle cx="987.3" cy="668.4" r="5"/><circle cx="988.3" cy="652.6" r="5"/><circle cx="989.3" cy="653.6" r="5"/><circle cx="990.3" cy="639.8" r="5"/><circle cx="991.3" cy="669.1" r="5"/><circle cx="992.3" cy="668.9" r="5"/><circle cx="993.3" cy="662.3" r="5"/><circle cx="994.3" cy="663.9" r="5"/><circle cx="995.4" cy="665.7" r="5"/><circle cx="996.4" cy="664.7" r="5"/><circle cx="997.4" cy="672.0" r="5"/><circle cx="998.4" cy="672.8" r="5"/><circle cx="999.4" cy="667.0" r="5"/><circle cx="1000.4" cy="688.0" r="5"/><circle cx="1001.4" cy="685.7" r="5"/><circle cx="1002.4" cy="674.9" r="5"/><circle cx="1003.4" cy="697.6" r="5"/><circle cx="1004.4" cy="702.4" r="5"/><circle cx="1005.4" cy="692.5" r="5"/><circle cx="1006.4" cy="693.7" r="5"/><circle cx="1007.4" cy="679.7" r="5"/><circle cx="1008.4" cy="682.5" r="5"/><circle cx="1009.4" cy="671.1" r="5"/><circle cx="1010.4" cy="682.2" r="5"/><circle cx="1011.4" cy="694.7" r="5"/><circle cx="1012.4" cy="681.8" r="5"/><circle cx="1013.4" cy="671.9" r="5"/><circle cx="1014.4" cy="700.4" r="5"/><circle cx="1015.4" cy="705.6" r="5"/><circle cx="1016.4" cy="701.5" r="5"/><circle cx="1017.4" cy="674.8" r="5"/><circle cx="1018.4" cy="696.7" r="5"/><circle cx="1019.4" cy="682.8" r="5"/><circle cx="1020.4" cy="689.7" r="5"/><circle cx="1021.4" cy="695.5" r="5"/><circle cx="1022.4" cy="704.6" r="5"/><circle cx="1023.4" cy="685.5" r="5"/><circle cx="1024.4" cy="688.8" r="5"/><circle cx="1025.5" cy="680.8" r="5"/><circle cx="1026.5" cy="693.1" r="5"/><circle cx="1027.5" cy="685.6" r="5"/><circle cx="1028.5" cy="689.3" r="5"/><circle cx="1029.5" cy="704.5" r="5"/><circle cx="1030.5" cy="696.8" r="5"/><circle cx="1031.5" cy="699.7" r="5"/><circle cx="1032.5" cy="702.1" r="5"/><circle cx="1033.5" cy="707.8" r="5"/><circle cx="1034.5" cy="713.1" r="5"/><circle cx="1035.5" cy="690.1" r="5"/><circle cx="1036.5" cy="687.5" r="5"/><circle cx="1037.5" cy="705.1" r="5"/><circle cx="1038.5" cy="708.2" r="5"/><circle cx="1039.5" cy="716.2" r="5"/><circle cx="1040.5" cy="710.5" r="5"/><circle cx="1041.5" cy="721.1" r="5"/><circle cx="1042.5" cy="709.4" r="5"/><circle cx="1043.5" cy="699.9" r="5"/><circle cx="1044.5" cy="714.8" r="5"/><circle cx="1045.5" cy="696.6" r="5"/><circle cx="1046.5" cy="699.1" r="5"/><circle cx="1047.5" cy="708.8" r="5"/><circle cx="1048.5" cy="702.2" r="5"/><circle cx="1049.5" cy="714.0" r="5"/><circle cx="1050.5" cy="702.8" r="5"/><circle cx="1051.5" cy="725.4" r="5"/><circle cx="1052.5" cy="699.3" r="5"/><circle cx="1053.5" cy="715.0" r="5"/><circle cx="1054.5" cy="702.6" r="5"/><circle cx="1055.6" cy="721.7" r="5"/><circle cx="1056.6" cy="701.7" r="5"/><circle cx="1057.6" cy="715.5" r="5"/><circle cx="1058.6" cy="678.5" r="5"/><circle cx="1059.6" cy="702.5" r="5"/><circle cx="1060.6" cy="728.1" r="5"/><circle cx="1061.6" cy="714.4" r="5"/><circle cx="1062.6" cy="714.0" r="5"/><circle cx="1063.6" cy="724.3" r="5"/><circle cx="1064.6" cy="740.1" r="5"/><circle cx="1065.6" cy="706.0" r="5"/><circle cx="1066.6" cy="715.9" r="5"/><circle cx="1067.6" cy="712.3" r="5"/><circle cx="1068.6" cy="724.5" r="5"/><circle cx="1069.6" cy="712.1" r="5"/><circle cx="1070.6" cy="706.0" r="5"/><circle cx="1071.6" cy="708.9" r="5"/><circle cx="1072.6" cy="730.2" r="5"/><circle cx="1073.6" cy="726.7" r="5"/><circle cx="1074.6" cy="732.9" r="5"/><circle cx="1075.6" cy="707.5" r="5"/><circle cx="1076.6" cy="715.0" r="5"/><circle cx="1077.6" cy="718.8" r="5"/><circle cx="1078.6" cy="732.8" r="5"/><circle cx="1079.6" cy="728.8" r="5"/><circle cx="1080.6" cy="723.2" r="5"/><circle cx="1081.6" cy="717.0" r="5"/><circle cx="1082.6" cy="730.5" r="5"/><circle cx="1083.6" cy="724.0" r="5"/><circle cx="1084.6" cy="737.4" r="5"/><circle cx="1085.7" cy="746.8" r="5"/><circle cx="1086.7" cy="729.4" r="5"/><circle cx="1087.7" cy="718.6" r="5"/><circle cx="1088.7" cy="754.1" r="5"/><circle cx="1089.7" cy="738.1" r="5"/><circle cx="1090.7" cy="738.0" r="5"/><circle cx="1091.7" cy="732.2" r="5"/><circle cx="1092.7" cy="734.0" r="5"/><circle cx="1093.7" cy="732.3" r="5"/><circle cx="1094.7" cy="734.0" r="5"/><circle cx="1095.7" cy="718.9" r="5"/><circle cx="1096.7" cy="725.8" r="5"/><circle cx="1097.7" cy="733.2" r="5"/><circle cx="1098.7" cy="735.9" r="5"/><circle cx="1099.7" cy="740.8" r="5"/><circle cx="1100.7" cy="741.7" r="5"/><circle cx="1101.7" cy="720.2" r="5"/><circle cx="1102.7" cy="729.4" r="5"/><circle cx="1103.7" cy="732.3" r="5"/><circle cx="1104.7" cy="741.3" r="5"/><circle cx="1105.7" cy="739.4" r="5"/><circle cx="1106.7" cy="763.7" r="5"/><circle cx="1107.7" cy="739.4" r="5"/><circle cx="1108.7" cy="742.4" r="5"/><circle cx="1109.7" cy="729.7" r="5"/><circle cx="1110.7" cy="763.8" r="5"/><circle cx="1111.7" cy="746.0" r="5"/><circle cx="1112.7" cy="743.6" r="5"/><circle cx="1113.7" cy="741.3" r="5"/><circle cx="1114.7" cy="746.8" r="5"/><circle cx="1115.8" cy="744.2" r="5"/><circle cx="1116.8" cy="760.5" r="5"/><circle cx="1117.8" cy="740.3" r="5"/><circle cx="1118.8" cy="744.7" r="5"/><circle cx="1119.8" cy="741.7" r="5"/><circle cx="1120.8" cy="753.8" r="5"/><circle cx="1121.8" cy="753.1" r="5"/><circle cx="1122.8" cy="762.2" r="5"/><circle cx="1123.8" cy="759.2" r="5"/><circle cx="1124.8" cy="759.6" r="5"/><circle cx="1125.8" cy="754.2" r="5"/><circle cx="1126.8" cy="763.6" r="5"/><circle cx="1127.8" cy="760.3" r="5"/><circle cx="1128.8" cy="758.2" r="5"/><circle cx="1129.8" cy="738.4" r="5"/><circle cx="1130.8" cy="749.3" r="5"/><circle cx="1131.8" cy="748.2" r="5"/><circle cx="1132.8" cy="736.4" r="5"/><circle cx="1133.8" cy="771.6" r="5"/><circle cx="1134.8" cy="775.3" r="5"/><circle cx="1135.8" cy="772.6" r="5"/><circle cx="1136.8" cy="766.2" r="5"/><circle cx="1137.8" cy="774.9" r="5"/><circle cx="1138.8" cy="738.0" r="5"/><circle cx="1139.8" cy="771.3" r="5"/><circle cx="1140.8" cy="736.4" r="5"/><circle cx="1141.8" cy="760.9" r="5"/><circle cx="1142.8" cy="762.2" r="5"/><circle cx="1143.8" cy="767.4" r="5"/><circle cx="1144.8" cy="770.9" r="5"/><circle cx="1145.9" cy="772.7" r="5"/><circle cx="1146.9" cy="757.2" r="5"/><circle cx="1147.9" cy="758.3" r="5"/><circle cx="1148.9" cy="757.6" r="5"/><circle cx="1149.9" cy="770.3" r="5"/><circle cx="1150.9" cy="764.7" r="5"/><circle cx="1151.9" cy="752.0" r="5"/><circle cx="1152.9" cy="779.8" r="5"/><circle cx="1153.9" cy="759.1" r="5"/><circle cx="1154.9" cy="767.6" r="5"/><circle cx="1155.9" cy="765.9" r="5"/><circle cx="1156.9" cy="769.4" r="5"/><circle cx="1157.9" cy="784.1" r="5"/><circle cx="1158.9" cy="769.0" r="5"/><circle cx="1159.9" cy="759.0" r="5"/><circle cx="1160.9" cy="768.6" r="5"/><circle cx="1161.9" cy="766.8" r="5"/><circle cx="1162.9" cy="760.3" r="5"/><circle cx="1163.9" cy="786.7" r="5"/><circle cx="1164.9" cy="788.7" r="5"/><circle cx="1165.9" cy="760.6" r="5"/><circle cx="1166.9" cy="796.2" r="5"/><circle cx="1167.9" cy="801.2" r="5"/><circle cx="1168.9" cy="765.7" r="5"/><circle cx="1169.9" cy="785.9" r="5"/><circle cx="1170.9" cy="778.1" r="5"/><circle cx="1171.9" cy="790.4" r="5"/><circle cx="1172.9" cy="746.2" r="5"/><circle cx="1173.9" cy="786.0" r="5"/><circle cx="1174.9" cy="774.5" r="5"/><circle cx="1176.0" cy="784.1" r="5"/><circle cx="1177.0" cy="787.9" r="5"/><circle cx="1178.0" cy="752.8" r="5"/><circle cx="1179.0" cy="781.0" r="5"/><circle cx="1180.0" cy="782.0" r="5"/><circle cx="1181.0" cy="788.1" r="5"/><circle cx="1182.0" cy="793.4" r="5"/><circle cx="1183.0" cy="790.3" r="5"/><circle cx="1184.0" cy="771.9" r="5"/><circle cx="1185.0" cy="789.1" r="5"/><circle cx="1186.0" cy="771.9" r="5"/><circle cx="1187.0" cy="789.3" r="5"/><circle cx="1188.0" cy="779.2" r="5"/><circle cx="1189.0" cy="779.6" r="5"/><circle cx="1190.0" cy="784.8" r="5"/><circle cx="1191.0" cy="765.1" r="5"/><circle cx="1192.0" cy="781.2" r="5"/><circle cx="1193.0" cy="770.3" r="5"/><circle cx="1194.0" cy="795.1" r="5"/><circle cx="1195.0" cy="799.0" r="5"/><circle cx="1196.0" cy="768.8" r="5"/><circle cx="1197.0" cy="762.4" r="5"/><circle cx="1198.0" cy="789.3" r="5"/><circle cx="1199.0" cy="781.9" r="5"/><circle cx="1200.0" cy="777.8" r="5"/><circle cx="1201.0" cy="816.9" r="5"/><circle cx="1202.0" cy="783.4" r="5"/><circle cx="1203.0" cy="777.6" r="5"/><circle cx="1204.0" cy="787.8" r="5"/><circle cx="1205.0" cy="795.9" r="5"/><circle cx="1206.1" cy="813.3" r="5"/><circle cx="1207.1" cy="796.7" r="5"/><circle cx="1208.1" cy="777.5" r="5"/><circle cx="1209.1" cy="788.4" r="5"/><circle cx="1210.1" cy="819.2" r="5"/><circle cx="1211.1" cy="777.2" r="5"/><circle cx="1212.1" cy="793.9" r="5"/><circle cx="1213.1" cy="810.1" r="5"/><circle cx="1214.1" cy="800.0" r="5"/><circle cx="1215.1" cy="797.2" r="5"/><circle cx="1216.1" cy="789.3" r="5"/><circle cx="1217.1" cy="802.6" r="5"/><circle cx="1218.1" cy="808.4" r="5"/><circle cx="1219.1" cy="804.7" r="5"/><circle cx="1220.1" cy="813.7" r="5"/><circle cx="1221.1" cy="802.2" r="5"/><circle cx="1222.1" cy="816.6" r="5"/><circle cx="1223.1" cy="805.2" r="5"/><circle cx="1224.1" cy="812.9" r="5"/><circle cx="1225.1" cy="796.5" r="5"/><circle cx="1226.1" cy="823.4" r="5"/><circle cx="1227.1" cy="821.0" r="5"/><circle cx="1228.1" cy="817.5" r="5"/><circle cx="1229.1" cy="796.0" r="5"/><circle cx="1230.1" cy="807.5" r="5"/><circle cx="1231.1" cy="769.7" r="5"/><circle cx="1232.1" cy="803.5" r="5"/><circle cx="1233.1" cy="809.6" r="5"/><circle cx="1234.1" cy="798.3" r="5"/><circle cx="1235.1" cy="812.6" r="5"/><circle cx="1236.2" cy="819.0" r="5"/><circle cx="1237.2" cy="835.2" r="5"/><circle cx="1238.2" cy="814.6" r="5"/><circle cx="1239.2" cy="796.5" r="5"/><circle cx="1240.2" cy="787.1" r="5"/><circle cx="1241.2" cy="814.3" r="5"/><circle cx="1242.2" cy="827.6" r="5"/><circle cx="1243.2" cy="830.1" r="5"/><circle cx="1244.2" cy="818.3" r="5"/><circle cx="1245.2" cy="810.7" r="5"/><circle cx="1246.2" cy="812.0" r="5"/><circle cx="1247.2" cy="818.2" r="5"/><circle cx="1248.2" cy="822.4" r="5"/><circle cx="1249.2" cy="828.8" r="5"/><circle cx="1250.2" cy="823.3" r="5"/><circle cx="1251.2" cy="847.7" r="5"/><circle cx="1252.2" cy="822.3" r="5"/><circle cx="1253.2" cy="824.2" r="5"/><circle cx="1254.2" cy="830.5" r="5"/><circle cx="1255.2" cy="831.1" r="5"/><circle cx="1256.2" cy="810.0" r="5"/><circle cx="1257.2" cy="796.7" r="5"/><circle cx="1258.2" cy="799.6" r="5"/><circle cx="1259.2" cy="821.1" r="5"/><circle cx="1260.2" cy="824.7" r="5"/><circle cx="1261.2" cy="820.9" r="5"/><circle cx="1262.2" cy="827.6" r="5"/><circle cx="1263.2" cy="832.1" r="5"/><circle cx="1264.2" cy="806.8" r="5"/><circle cx="1265.2" cy="850.5" r="5"/><circle cx="1266.3" cy="854.1" r="5"/><circle cx="1267.3" cy="830.7" r="5"/><circle cx="1268.3" cy="819.5" r="5"/><circle cx="1269.3" cy="826.9" r="5"/><circle cx="1270.3" cy="803.8" r="5"/><circle cx="1271.3" cy="822.0" r="5"/><circle cx="1272.3" cy="812.4" r="5"/><circle cx="1273.3" cy="822.8" r="5"/><circle cx="1274.3" cy="820.7" r="5"/><circle cx="1275.3" cy="853.2" r="5"/><circle cx="1276.3" cy="814.3" r="5"/><circle cx="1277.3" cy="829.6" r="5"/><circle cx="1278.3" cy="821.1" r="5"/><circle cx="1279.3" cy="848.5" r="5"/><circle cx="1280.3" cy="841.3" r="5"/><circle cx="1281.3" cy="807.9" r="5"/><circle cx="1282.3" cy="816.2" r="5"/><circle cx="1283.3" cy="834.7" r="5"/><circle cx="1284.3" cy="822.5" r="5"/><circle cx="1285.3" cy="837.1" r="5"/><circle cx="1286.3" cy="834.2" r="5"/><circle cx="1287.3" cy="819.0" r="5"/><circle cx="1288.3" cy="830.0" r="5"/><circle cx="1289.3" cy="840.6" r="5"/><circle cx="1290.3" cy="834.0" r="5"/><circle cx="1291.3" cy="837.1" r="5"/><circle cx="1292.3" cy="840.1" r="5"/><circle cx="1293.3" cy="835.3" r="5"/><circle cx="1294.3" cy="856.7" r="5"/><circle cx="1295.3" cy="823.3" r="5"/><circle cx="1296.4" cy="844.9" r="5"/><circle cx="1297.4" cy="833.1" r="5"/><circle cx="1298.4" cy="846.4" r="5"/><circle cx="1299.4" cy="854.3" r="5"/><circle cx="1300.4" cy="854.8" r="5"/><circle cx="1301.4" cy="856.8" r="5"/><circle cx="1302.4" cy="855.6" r="5"/><circle cx="1303.4" cy="853.9" r="5"/><circle cx="1304.4" cy="843.2" r="5"/><circle cx="1305.4" cy="854.8" r="5"/><circle cx="1306.4" cy="857.4" r="5"/><circle cx="1307.4" cy="857.0" r="5"/><circle cx="1308.4" cy="848.8" r="5"/><circle cx="1309.4" cy="848.4" r="5"/><circle cx="1310.4" cy="818.1" r="5"/><circle cx="1311.4" cy="836.6" r="5"/><circle cx="1312.4" cy="846.4" r="5"/><circle cx="1313.4" cy="861.7" r="5"/><circle cx="1314.4" cy="862.9" r="5"/><circle cx="1315.4" cy="849.1" r="5"/><circle cx="1316.4" cy="831.8" r="5"/><circle cx="1317.4" cy="857.1" r="5"/><circle cx="1318.4" cy="864.7" r="5"/><circle cx="1319.4" cy="862.2" r="5"/><circle cx="1320.4" cy="845.3" r="5"/><circle cx="1321.4" cy="841.0" r="5"/><circle cx="1322.4" cy="844.8" r="5"/><circle cx="1323.4" cy="843.1" r="5"/><circle cx="1324.4" cy="870.9" r="5"/><circle cx="1325.4" cy="859.2" r="5"/><circle cx="1326.5" cy="885.6" r="5"/><circle cx="1327.5" cy="878.4" r="5"/><circle cx="1328.5" cy="870.5" r="5"/><circle cx="1329.5" cy="849.1" r="5"/><circle cx="1330.5" cy="865.7" r="5"/><circle cx="1331.5" cy="863.8" r="5"/><circle cx="1332.5" cy="838.1" r="5"/><circle cx="1333.5" cy="838.4" r="5"/><circle cx="1334.5" cy="847.0" r="5"/><circle cx="1335.5" cy="873.5" r="5"/><circle cx="1336.5" cy="852.7" r="5"/><circle cx="1337.5" cy="840.6" r="5"/><circle cx="1338.5" cy="864.0" r="5"/><circle cx="1339.5" cy="870.5" r="5"/><circle cx="1340.5" cy="845.0" r="5"/><circle cx="1341.5" cy="889.0" r="5"/><circle cx="1342.5" cy="852.7" r="5"/><circle cx="1343.5" cy="879.9" r="5"/><circle cx="1344.5" cy="874.3" r="5"/><circle cx="1345.5" cy="855.0" r="5"/><circle cx="1346.5" cy="862.8" r="5"/><circle cx="1347.5" cy="867.9" r="5"/><circle cx="1348.5" cy="864.1" r="5"/><circle cx="1349.5" cy="881.1" r="5"/><circle cx="1350.5" cy="870.5" r="5"/><circle cx="1351.5" cy="846.0" r="5"/><circle cx="1352.5" cy="871.8" r="5"/><circle cx="1353.5" cy="852.3" r="5"/><circle cx="1354.5" cy="867.1" r="5"/><circle cx="1355.5" cy="876.1" r="5"/><circle cx="1356.6" cy="874.4" r="5"/><circle cx="1357.6" cy="890.5" r="5"/><circle cx="1358.6" cy="874.8" r="5"/><circle cx="1359.6" cy="868.1" r="5"/><circle cx="1360.6" cy="898.7" r="5"/><circle cx="1361.6" cy="883.8" r="5"/><circle cx="1362.6" cy="869.0" r="5"/><circle cx="1363.6" cy="872.0" r="5"/><circle cx="1364.6" cy="866.4" r="5"/><circle cx="1365.6" cy="873.7" r="5"/><circle cx="1366.6" cy="858.7" r="5"/><circle cx="1367.6" cy="898.4" r="5"/><circle cx="1368.6" cy="892.8" r="5"/><circle cx="1369.6" cy="842.6" r="5"/><circle cx="1370.6" cy="862.0" r="5"/><circle cx="1371.6" cy="871.8" r="5"/><circle cx="1372.6" cy="861.9" r="5"/><circle cx="1373.6" cy="839.8" r="5"/><circle cx="1374.6" cy="883.5" r="5"/><circle cx="1375.6" cy="858.7" r="5"/><circle cx="1376.6" cy="888.6" r="5"/><circle cx="1377.6" cy="884.9" r="5"/><circle cx="1378.6" cy="901.6" r="5"/><circle cx="1379.6" cy="867.4" r="5"/><circle cx="1380.6" cy="909.6" r="5"/><circle cx="1381.6" cy="863.2" r="5"/><circle cx="1382.6" cy="904.7" r="5"/><circle cx="1383.6" cy="897.7" r="5"/><circle cx="1384.6" cy="890.3" r="5"/><circle cx="1385.6" cy="866.6" r="5"/><circle cx="1386.7" cy="909.3" r="5"/><circle cx="1387.7" cy="900.2" r="5"/><circle cx="1388.7" cy="863.9" r="5"/><circle cx="1389.7" cy="848.5" r="5"/><circle cx="1390.7" cy="875.7" r="5"/><circle cx="1391.7" cy="874.1" r="5"/><circle cx="1392.7" cy="901.8" r="5"/><circle cx="1393.7" cy="894.0" r="5"/><circle cx="1394.7" cy="897.4" r="5"/><circle cx="1395.7" cy="885.3" r="5"/><circle cx="1396.7" cy="908.9" r="5"/><circle cx="1397.7" cy="885.5" r="5"/><circle cx="1398.7" cy="871.8" r="5"/><circle cx="1399.7" cy="857.0" r="5"/><circle cx="1400.7" cy="903.1" r="5"/><circle cx="1401.7" cy="885.0" r="5"/><circle cx="1402.7" cy="867.2" r="5"/><circle cx="1403.7" cy="881.1" r="5"/><circle cx="1404.7" cy="891.1" r="5"/><circle cx="1405.7" cy="913.4" r="5"/><circle cx="1406.7" cy="870.5" r="5"/><circle cx="1407.7" cy="895.2" r="5"/><circle cx="1408.7" cy="914.3" r="5"/><circle cx="1409.7" cy="907.8" r="5"/><circle cx="1410.7" cy="912.9" r="5"/><circle cx="1411.7" cy="932.7" r="5"/><circle cx="1412.7" cy="888.5" r="5"/><circle cx="1413.7" cy="892.5" r="5"/><circle cx="1414.7" cy="919.4" r="5"/><circle cx="1415.7" cy="929.5" r="5"/><circle cx="1416.8" cy="907.9" r="5"/><circle cx="1417.8" cy="898.3" r="5"/><circle cx="1418.8" cy="885.9" r="5"/><circle cx="1419.8" cy="913.7" r="5"/><circle cx="1420.8" cy="908.5" r="5"/><circle cx="1421.8" cy="886.3" r="5"/><circle cx="1422.8" cy="898.4" r="5"/><circle cx="1423.8" cy="892.0" r="5"/><circle cx="1424.8" cy="917.4" r="5"/><circle cx="1425.8" cy="908.5" r="5"/><circle cx="1426.8" cy="930.6" r="5"/><circle cx="1427.8" cy="934.7" r="5"/><circle cx="1428.8" cy="918.2" r="5"/><circle cx="1429.8" cy="936.2" r="5"/><circle cx="1430.8" cy="936.9" r="5"/><circle cx="1431.8" cy="947.2" r="5"/><circle cx="1432.8" cy="914.7" r="5"/><circle cx="1433.8" cy="932.2" r="5"/><circle cx="1434.8" cy="953.6" r="5"/><circle cx="1435.8" cy="934.1" r="5"/><circle cx="1436.8" cy="914.5" r="5"/><circle cx="1437.8" cy="922.6" r="5"/><circle cx="1438.8" cy="956.7" r="5"/><circle cx="1439.8" cy="914.7" r="5"/><circle cx="1440.8" cy="909.6" r="5"/><circle cx="1441.8" cy="935.1" r="5"/><circle cx="1442.8" cy="911.2" r="5"/><circle cx="1443.8" cy="891.6" r="5"/><circle cx="1444.8" cy="886.8" r="5"/><circle cx="1445.8" cy="912.1" r="5"/><circle cx="1446.9" cy="902.1" r="5"/><circle cx="1447.9" cy="936.6" r="5"/><circle cx="1448.9" cy="903.1" r="5"/><circle cx="1449.9" cy="890.8" r="5"/><circle cx="1450.9" cy="900.6" r="5"/><circle cx="1451.9" cy="893.5" r="5"/><circle cx="1452.9" cy="936.1" r="5"/><circle cx="1453.9" cy="900.3" r="5"/><circle cx="1454.9" cy="936.8" r="5"/><circle cx="1455.9" cy="921.7" r="5"/><circle cx="1456.9" cy="949.3" r="5"/><circle cx="1457.9" cy="912.9" r="5"/><circle cx="1458.9" cy="930.6" r="5"/><circle cx="1459.9" cy="882.1" r="5"/><circle cx="1460.9" cy="910.6" r="5"/><circle cx="1461.9" cy="906.7" r="5"/><circle cx="1462.9" cy="942.3" r="5"/><circle cx="1463.9" cy="918.1" r="5"/><circle cx="1464.9" cy="932.5" r="5"/><circle cx="1465.9" cy="907.7" r="5"/><circle cx="1466.9" cy="895.5" r="5"/><circle cx="1467.9" cy="920.8" r="5"/><circle cx="1468.9" cy="947.0" r="5"/><circle cx="1469.9" cy="925.8" r="5"/><circle cx="1470.9" cy="956.7" r="5"/><circle cx="1471.9" cy="923.2" r="5"/><circle cx="1472.9" cy="924.5" r="5"/><circle cx="1473.9" cy="924.7" r="5"/><circle cx="1474.9" cy="927.6" r="5"/><circle cx="1475.9" cy="919.9" r="5"/><circle cx="1477.0" cy="924.0" r="5"/><circle cx="1478.0" cy="913.1" r="5"/><circle cx="1479.0" cy="909.1" r="5"/><circle cx="1480.0" cy="952.8" r="5"/><circle cx="1481.0" cy="942.4" r="5"/><circle cx="1482.0" cy="928.3" r="5"/><circle cx="1483.0" cy="918.6" r="5"/><circle cx="1484.0" cy="902.1" r="5"/><circle cx="1485.0" cy="939.8" r="5"/><circle cx="1486.0" cy="913.1" r="5"/><circle cx="1487.0" cy="959.5" r="5"/><circle cx="1488.0" cy="895.5" r="5"/><circle cx="1489.0" cy="933.9" r="5"/><circle cx="1490.0" cy="950.2" r="5"/><circle cx="1491.0" cy="920.7" r="5"/><circle cx="1492.0" cy="972.3" r="5"/><circle cx="1493.0" cy="952.9" r="5"/><circle cx="1494.0" cy="953.1" r="5"/><circle cx="1495.0" cy="920.6" r="5"/><circle cx="1496.0" cy="956.3" r="5"/><circle cx="1497.0" cy="952.8" r="5"/><circle cx="1498.0" cy="938.5" r="5"/><circle cx="1499.0" cy="968.5" r="5"/><circle cx="1500.0" cy="942.9" r="5"/><circle cx="1501.0" cy="895.7" r="5"/><circle cx="1502.0" cy="943.9" r="5"/><circle cx="1503.0" cy="971.9" r="5"/><circle cx="1504.0" cy="929.6" r="5"/><circle cx="1505.0" cy="956.9" r="5"/><circle cx="1506.0" cy="929.8" r="5"/><circle cx="1507.1" cy="941.1" r="5"/><circle cx="1508.1" cy="892.7" r="5"/><circle cx="1509.1" cy="910.7" r="5"/><circle cx="1510.1" cy="941.6" r="5"/><circle cx="1511.1" cy="936.3" r="5"/><circle cx="1512.1" cy="913.9" r="5"/><circle cx="1513.1" cy="962.1" r="5"/><circle cx="1514.1" cy="959.3" r="5"/><circle cx="1515.1" cy="937.7" r="5"/><circle cx="1516.1" cy="918.2" r="5"/><circle cx="1517.1" cy="968.9" r="5"/><circle cx="1518.1" cy="945.1" r="5"/><circle cx="1519.1" cy="968.2" r="5"/><circle cx="1520.1" cy="971.7" r="5"/><circle cx="1521.1" cy="945.3" r="5"/><circle cx="1522.1" cy="947.0" r="5"/><circle cx="1523.1" cy="966.6" r="5"/><circle cx="1524.1" cy="946.8" r="5"/><circle cx="1525.1" cy="912.0" r="5"/><circle cx="1526.1" cy="962.1" r="5"/><circle cx="1527.1" cy="956.9" r="5"/><circle cx="1528.1" cy="939.7" r="5"/><circle cx="1529.1" cy="959.3" r="5"/><circle cx="1530.1" cy="942.1" r="5"/><circle cx="1531.1" cy="941.9" r="5"/><circle cx="1532.1" cy="965.5" r="5"/><circle cx="1533.1" cy="924.4" r="5"/><circle cx="1534.1" cy="917.6" r="5"/><circle cx="1535.1" cy="948.5" r="5"/><circle cx="1536.1" cy="925.6" r="5"/><circle cx="1537.2" cy="971.6" r="5"/><circle cx="1538.2" cy="937.3" r="5"/><circle cx="1539.2" cy="918.8" r="5"/><circle cx="1540.2" cy="945.3" r="5"/><circle cx="1541.2" cy="907.8" r="5"/><circle cx="1542.2" cy="977.3" r="5"/><circle cx="1543.2" cy="949.6" r="5"/><circle cx="1544.2" cy="964.0" r="5"/><circle cx="1545.2" cy="959.1" r="5"/><circle cx="1546.2" cy="954.1" r="5"/><circle cx="1547.2" cy="927.8" r="5"/><circle cx="1548.2" cy="965.5" r="5"/><circle cx="1549.2" cy="945.6" r="5"/><circle cx="1550.2" cy="936.8" r="5"/><circle cx="1551.2" cy="907.1" r="5"/><circle cx="1552.2" cy="972.5" r="5"/><circle cx="1553.2" cy="941.8" r="5"/><circle cx="1554.2" cy="940.5" r="5"/><circle cx="1555.2" cy="910.8" r="5"/><circle cx="1556.2" cy="970.0" r="5"/><circle cx="1557.2" cy="949.9" r="5"/><circle cx="1558.2" cy="975.8" r="5"/><circle cx="1559.2" cy="954.0" r="5"/><circle cx="1560.2" cy="940.1" r="5"/><circle cx="1561.2" cy="967.6" r="5"/><circle cx="1562.2" cy="926.6" r="5"/><circle cx="1563.2" cy="928.1" r="5"/><circle cx="1564.2" cy="960.2" r="5"/><circle cx="1565.2" cy="980.0" r="5"/><circle cx="1566.2" cy="990.8" r="5"/><circle cx="1567.3" cy="967.2" r="5"/><circle cx="1568.3" cy="967.2" r="5"/><circle cx="1569.3" cy="971.0" r="5"/><circle cx="1570.3" cy="961.3" r="5"/><circle cx="1571.3" cy="954.5" r="5"/><circle cx="1572.3" cy="976.6" r="5"/><circle cx="1573.3" cy="953.6" r="5"/><circle cx="1574.3" cy="958.9" r="5"/><circle cx="1575.3" cy="985.1" r="5"/><circle cx="1576.3" cy="963.4" r="5"/><circle cx="1577.3" cy="946.4" r="5"/><circle cx="1578.3" cy="971.6" r="5"/><circle cx="1579.3" cy="951.6" r="5"/><circle cx="1580.3" cy="968.6" r="5"/><circle cx="1581.3" cy="938.9" r="5"/><circle cx="1582.3" cy="940.6" r="5"/><circle cx="1583.3" cy="929.5" r="5"/><circle cx="1584.3" cy="984.8" r="5"/><circle cx="1585.3" cy="991.7" r="5"/><circle cx="1586.3" cy="985.0" r="5"/><circle cx="1587.3" cy="966.7" r="5"/><circle cx="1588.3" cy="963.9" r="5"/><circle cx="1589.3" cy="954.5" r="5"/><circle cx="1590.3" cy="973.6" r="5"/><circle cx="1591.3" cy="958.7" r="5"/><circle cx="1592.3" cy="945.5" r="5"/><circle cx="1593.3" cy="985.2" r="5"/><circle cx="1594.3" cy="981.5" r="5"/><circle cx="1595.3" cy="974.2" r="5"/><circle cx="1596.3" cy="960.6" r="5"/><circle cx="1597.4" cy="954.7" r="5"/><circle cx="1598.4" cy="964.1" r="5"/><circle cx="1599.4" cy="964.3" r="5"/><circle cx="1600.4" cy="938.2" r="5"/><circle cx="1601.4" cy="959.4" r="5"/><circle cx="1602.4" cy="945.5" r="5"/><circle cx="1603.4" cy="994.1" r="5"/><circle cx="1604.4" cy="945.2" r="5"/><circle cx="1605.4" cy="953.7" r="5"/><circle cx="1606.4" cy="963.0" r="5"/><circle cx="1607.4" cy="985.5" r="5"/><circle cx="1608.4" cy="963.8" r="5"/><circle cx="1609.4" cy="1023.2" r="5"/><circle cx="1610.4" cy="999.6" r="5"/><circle cx="1611.4" cy="930.4" r="5"/><circle cx="1612.4" cy="987.0" r="5"/><circle cx="1613.4" cy="990.7" r="5"/><circle cx="1614.4" cy="958.1" r="5"/><circle cx="1615.4" cy="979.9" r="5"/><circle cx="1616.4" cy="982.1" r="5"/><circle cx="1617.4" cy="967.1" r="5"/><circle cx="1618.4" cy="979.1" r="5"/><circle cx="1619.4" cy="985.5" r="5"/><circle cx="1620.4" cy="964.2" r="5"/><circle cx="1621.4" cy="972.1" r="5"/><circle cx="1622.4" cy="949.9" r="5"/><circle cx="1623.4" cy="989.3" r="5"/><circle cx="1624.4" cy="966.1" r="5"/><circle cx="1625.4" cy="1012.2" r="5"/><circle cx="1626.4" cy="1032.4" r="5"/><circle cx="1627.5" cy="1026.8" r="5"/><circle cx="1628.5" cy="981.7" r="5"/><circle cx="1629.5" cy="1000.1" r="5"/><circle cx="1630.5" cy="986.1" r="5"/><circle cx="1631.5" cy="1004.0" r="5"/><circle cx="1632.5" cy="976.9" r="5"/><circle cx="1633.5" cy="974.1" r="5"/><circle cx="1634.5" cy="998.3" r="5"/><circle cx="1635.5" cy="983.4" r="5"/><circle cx="1636.5" cy="1028.8" r="5"/><circle cx="1637.5" cy="1012.8" r="5"/><circle cx="1638.5" cy="1004.7" r="5"/><circle cx="1639.5" cy="990.8" r="5"/><circle cx="1640.5" cy="984.0" r="5"/><circle cx="1641.5" cy="1009.9" r="5"/></g>
<g fill="none" stroke-width="5" stroke-linejoin="round">
<path d="M288.0,62.0 291.4,64.9 294.8,67.8 298.2,70.7 301.6,73.6 305.0,76.4 308.4,79.3 311.7,82.1 315.1,84.9 318.5,87.7 321.9,90.5 325.3,93.3 328.7,96.1 332.1,98.9 335.5,101.6 338.9,104.4 342.3,107.1 345.7,109.9 349.1,112.6 352.5,115.3 355.8,118.0 359.2,120.7 362.6,123.3 366.0,126.0 369.4,128.7 372.8,131.3 376.2,133.9 379.6,136.6 383.0,139.2 386.4,141.8 389.8,144.4 393.2,147.0 396.6,149.5 399.9,152.1 403.3,154.7 406.7,157.2 410.1,159.8 413.5,162.3 416.9,164.8 420.3,167.3 423.7,169.8 427.1,172.3 430.5,174.8 433.9,177.3 437.3,179.7 440.7,182.2 444.0,184.6 447.4,187.1 450.8,189.5 454.2,191.9 457.6,194.4 461.0,196.8 464.4,199.2 467.8,201.6 471.2,204.0 474.6,206.3 478.0,208.7 481.4,211.1 484.7,213.4 488.1,215.8 491.5,218.1 494.9,220.4 498.3,222.8 501.7,225.1 505.1,227.4 508.5,229.7 511.9,232.0 515.3,234.3 518.7,236.6 522.1,238.8 525.5,241.1 528.8,243.4 532.2,245.6 535.6,247.9 539.0,250.1 542.4,252.4 545.8,254.6 549.2,256.8 552.6,259.1 556.0,261.3 559.4,263.5 562.8,265.7 566.2,267.9 569.6,270.1 572.9,272.2 576.3,274.4 579.7,276.6 583.1,278.8 586.5,280.9 589.9,283.1 593.3,285.2 596.7,287.4 600.1,289.5 603.5,291.7 606.9,293.8 610.3,295.9 613.7,298.1 617.0,300.2 620.4,302.3 623.8,304.4 627.2,306.5 630.6,308.6 634.0,310.7 637.4,312.8 640.8,314.9 644.2,316.9 647.6,319.0 651.0,321.1 654.4,323.2 657.8,325.2 661.1,327.3 664.5,329.3 667.9,331.4 671.3,333.4 674.7,335.5 678.1,337.5 681.5,339.6 684.9,341.6 688.3,343.6 691.7,345.6 695.1,347.7 698.5,349.7 701.9,351.7 705.2,353.7 708.6,355.7 712.0,357.7 715.4,359.7 718.8,361.7 722.2,363.7 725.6,365.7 729.0,367.7 732.4,369.7 735.8,371.6 739.2,373.6 742.6,375.6 746.0,377.6 749.3,379.5 752.7,381.5 756.1,383.5 759.5,385.4 762.9,387.4 766.3,389.3 769.7,391.3 773.1,393.2 776.5,395.2 779.9,397.1 783.3,399.1 786.7,401.0 790.1,402.9 793.4,404.9 796.8,406.8 800.2,408.7 803.6,410.6 807.0,412.6 810.4,414.5 813.8,416.4 817.2,418.3 820.6,420.2 824.0,422.1 827.4,424.0 830.8,425.9 834.1,427.8 837.5,429.7 840.9,431.6 844.3,433.5 847.7,435.4 851.1,437.3 854.5,439.2 857.9,441.1 861.3,443.0 864.7,444.9 868.1,446.8 871.5,448.6 874.9,450.5 878.2,452.4 881.6,454.3 885.0,456.1 888.4,458.0 891.8,459.9 895.2,461.7 898.6,463.6 902.0,465.5 905.4,467.3 908.8,469.2 912.2,471.0 915.6,472.9 919.0,474.7 922.3,476.6 925.7,478.4 929.1,480.3 932.5,482.1 935.9,484.0 939.3,485.8 942.7,487.7 946.1,489.5 949.5,491.3 952.9,493.2 956.3,495.0 959.7,496.8 963.1,498.7 966.4,500.5 969.8,502.3 973.2,504.1 976.6,506.0 980.0,507.8 983.4,509.6 986.8,511.4 990.2,513.2 993.6,515.1 997.0,516.9 1000.4,518.7 1003.8,520.5 1007.2,522.3 1010.5,524.1 1013.9,525.9 1017.3,527.7 1020.7,529.5 1024.1,531.3 1027.5,533.1 1030.9,534.9 1034.3,536.7 1037.7,538.5 1041.1,540.3 1044.5,542.1 1047.9,543.9 1051.3,545.7 1054.6,547.5 1058.0,549.3 1061.4,551.1 1064.8,552.8 1068.2,554.6 1071.6,556.4 1075.0,558.2 1078.4,560.0 1081.8,561.7 1085.2,563.5 1088.6,565.3 1092.0,567.1 1095.4,568.8 1098.7,570.6 1102.1,572.4 1105.5,574.1 1108.9,575.9 1112.3,577.7 1115.7,579.4 1119.1,581.2 1122.5,583.0 1125.9,584.7 1129.3,586.5 1132.7,588.2 1136.1,590.0 1139.4,591.7 1142.8,593.5 1146.2,595.2 1149.6,597.0 1153.0,598.7 1156.4,600.5 1159.8,602.2 1163.2,604.0 1166.6,605.7 1170.0,607.4 1173.4,609.2 1176.8,610.9 1180.2,612.7 1183.5,614.4 1186.9,616.1 1190.3,617.9 1193.7,619.6 1197.1,621.3 1200.5,623.0 1203.9,624.8 1207.3,626.5 1210.7,628.2 1214.1,629.9 1217.5,631.6 1220.9,633.4 1224.3,635.1 1227.6,636.8 1231.0,638.5 1234.4,640.2 1237.8,641.9 1241.2,643.6 1244.6,645.3 1248.0,647.1 1251.4,648.8 1254.8,650.5 1258.2,652.2 1261.6,653.9 1265.0,655.6 1268.4,657.2 1271.7,658.9 1275.1,660.6 1278.5,662.3 1281.9,664.0 1285.3,665.7 1288.7,667.4 1292.1,669.1 1295.5,670.8 1298.9,672.4 1302.3,674.1 1305.7,675.8 1309.1,677.5 1312.5,679.1 1315.8,680.8 1319.2,682.5 1322.6,684.2 1326.0,685.8 1329.4,687.5 1332.8,689.1 1336.2,690.8 1339.6,692.5 1343.0,694.1 1346.4,695.8 1349.8,697.4 1353.2,699.1 1356.6,700.7 1359.9,702.4 1363.3,704.0 1366.7,705.7 1370.1,707.3 1373.5,709.0 1376.9,710.6 1380.3,712.2 1383.7,713.9 1387.1,715.5 1390.5,717.1 1393.9,718.8 1397.3,720.4 1400.7,722.0 1404.0,723.7 1407.4,725.3 1410.8,726.9 1414.2,728.5 1417.6,730.1 1421.0,731.7 1424.4,733.3 1427.8,735.0 1431.2,736.6 1434.6,738.2 1438.0,739.8 1441.4,741.4 1444.8,743.0 1448.1,744.6 1451.5,746.2 1454.9,747.8 1458.3,749.3 1461.7,750.9 1465.1,752.5 1468.5,754.1 1471.9,755.7 1475.3,757.3 1478.7,758.8 1482.1,760.4 1485.5,762.0 1488.8,763.6 1492.2,765.1 1495.6,766.7 1499.0,768.3 1502.4,769.8 1505.8,771.4 1509.2,772.9 1512.6,774.5 1516.0,776.0 1519.4,777.6 1522.8,779.1 1526.2,780.7 1529.6,782.2 1532.9,783.7 1536.3,785.3 1539.7,786.8 1543.1,788.3 1546.5,789.9 1549.9,791.4 1553.3,792.9 1556.7,794.4 1560.1,796.0 1563.5,797.5 1566.9,799.0 1570.3,800.5 1573.7,802.0 1577.0,803.5 1580.4,805.0 1583.8,806.5 1587.2,808.0 1590.6,809.5 1594.0,811.0 1597.4,812.5 1600.8,814.0 1604.2,815.4 1607.6,816.9 1611.0,818.4 1614.4,819.9 1617.8,821.3 1621.1,822.8 1624.5,824.3 1627.9,825.7 1631.3,827.2 1634.7,828.6 1638.1,830.1 1641.5,831.5" stroke="#ff0000"/>
<path d="M288.0,54.9 291.4,59.3 294.8,63.7 298.2,68.0 301.6,72.4 305.0,76.7 308.4,81.0 311.7,85.3 315.1,89.5 318.5,93.8 321.9,98.0 325.3,102.2 328.7,106.4 332.1,110.6 335.5,114.8 338.9,118.9 342.3,123.0 345.7,127.1 349.1,131.2 352.5,135.2 355.8,139.3 359.2,143.3 362.6,147.3 366.0,151.3 369.4,155.2 372.8,159.2 376.2,163.1 379.6,167.0 383.0,170.9 386.4,174.8 389.8,178.6 393.2,182.4 396.6,186.3 399.9,190.0 403.3,193.8 406.7,197.6 410.1,201.3 413.5,205.0 416.9,208.7 420.3,212.4 423.7,216.1 427.1,219.7 430.5,223.4 433.9,227.0 437.3,230.6 440.7,234.2 444.0,237.7 447.4,241.3 450.8,244.8 454.2,248.3 457.6,251.8 461.0,255.3 464.4,258.7 467.8,262.2 471.2,265.6 474.6,269.0 478.0,272.4 481.4,275.8 484.7,279.2 488.1,282.5 491.5,285.9 494.9,289.2 498.3,292.5 501.7,295.8 505.1,299.0 508.5,302.3 511.9,305.5 515.3,308.8 518.7,312.0 522.1,315.2 525.5,318.3 528.8,321.5 532.2,324.7 535.6,327.8 539.0,330.9 542.4,334.1 545.8,337.2 549.2,340.2 552.6,343.3 556.0,346.4 559.4,349.4 562.8,352.5 566.2,355.5 569.6,358.5 572.9,361.5 576.3,364.5 579.7,367.5 583.1,370.4 586.5,373.4 589.9,376.3 593.3,379.2 596.7,382.2 600.1,385.1 603.5,388.0 606.9,390.8 610.3,393.7 613.7,396.6 617.0,399.4 620.4,402.3 623.8,405.1 627.2,407.9 630.6,410.7 634.0,413.5 637.4,416.3 640.8,419.1 644.2,421.9 647.6,424.6 651.0,427.4 654.4,430.1 657.8,432.8 661.1,435.6 664.5,438.3 667.9,441.0 671.3,443.7 674.7,446.4 678.1,449.1 681.5,451.7 684.9,454.4 688.3,457.1 691.7,459.7 695.1,462.3 698.5,465.0 701.9,467.6 705.2,470.2 708.6,472.8 712.0,475.4 715.4,478.0 718.8,480.6 722.2,483.2 725.6,485.8 729.0,488.3 732.4,490.9 735.8,493.4 739.2,496.0 742.6,498.5 746.0,501.0 749.3,503.6 752.7,506.1 756.1,508.6 759.5,511.1 762.9,513.6 766.3,516.1 769.7,518.6 773.1,521.1 776.5,523.6 779.9,526.0 783.3,528.5 786.7,530.9 790.1,533.4 793.4,535.8 796.8,538.3 800.2,540.7 803.6,543.2 807.0,545.6 810.4,548.0 813.8,550.4 817.2,552.8 820.6,555.2 824.0,557.6 827.4,560.0 830.8,562.4 834.1,564.8 837.5,567.2 840.9,569.5 844.3,571.9 847.7,574.3 851.1,576.6 854.5,579.0 857.9,581.3 861.3,583.7 864.7,586.0 868.1,588.4 871.5,590.7 874.9,593.0 878.2,595.4 881.6,597.7 885.0,600.0 888.4,602.3 891.8,604.6 895.2,606.9 898.6,609.2 902.0,611.5 905.4,613.8 908.8,616.1 912.2,618.3 915.6,620.6 919.0,622.9 922.3,625.2 925.7,627.4 929.1,629.7 932.5,631.9 935.9,634.2 939.3,636.4 942.7,638.7 946.1,640.9 949.5,643.1 952.9,645.4 956.3,647.6 959.7,649.8 963.1,652.0 966.4,654.3 969.8,656.5 973.2,658.7 976.6,660.9 980.0,663.1 983.4,665.3 986.8,667.5 990.2,669.7 993.6,671.8 997.0,674.0 1000.4,676.2 1003.8,678.4 1007.2,680.5 1010.5,682.7 1013.9,684.8 1017.3,687.0 1020.7,689.2 1024.1,691.3 1027.5,693.4 1030.9,695.6 1034.3,697.7 1037.7,699.8 1041.1,702.0 1044.5,704.1 1047.9,706.2 1051.3,708.3 1054.6,710.4 1058.0,712.6 1061.4,714.7 1064.8,716.8 1068.2,718.9 1071.6,720.9 1075.0,723.0 1078.4,725.1 1081.8,727.2 1085.2,729.3 1088.6,731.3 1092.0,733.4 1095.4,735.5 1098.7,737.5 1102.1,739.6 1105.5,741.6 1108.9,743.7 1112.3,745.7 1115.7,747.7 1119.1,749.8 1122.5,751.8 1125.9,753.8 1129.3,755.9 1132.7,757.9 1136.1,759.9 1139.4,761.9 1142.8,763.9 1146.2,765.9 1149.6,767.9 1153.0,769.9 1156.4,771.9 1159.8,773.8 1163.2,775.8 1166.6,777.8 1170.0,779.7 1173.4,781.7 1176.8,783.7 1180.2,785.6 1183.5,787.6 1186.9,789.5 1190.3,791.4 1193.7,793.4 1197.1,795.3 1200.5,797.2 1203.9,799.1 1207.3,801.1 1210.7,803.0 1214.1,804.9 1217.5,806.8 1220.9,808.7 1224.3,810.6 1227.6,812.4 1231.0,814.3 1234.4,816.2 1237.8,818.1 1241.2,819.9 1244.6,821.8 1248.0,823.6 1251.4,825.5 1254.8,827.3 1258.2,829.2 1261.6,831.0 1265.0,832.8 1268.4,834.6 1271.7,836.5 1275.1,838.3 1278.5,840.1 1281.9,841.9 1285.3,843.7 1288.7,845.5 1292.1,847.2 1295.5,849.0 1298.9,850.8 1302.3,852.6 1305.7,854.3 1309.1,856.1 1312.5,857.8 1315.8,859.6 1319.2,861.3 1322.6,863.0 1326.0,864.8 1329.4,866.5 1332.8,868.2 1336.2,869.9 1339.6,871.6 1343.0,873.3 1346.4,875.0 1349.8,876.7 1353.2,878.3 1356.6,880.0 1359.9,881.7 1363.3,883.3 1366.7,885.0 1370.1,886.6 1373.5,888.3 1376.9,889.9 1380.3,891.5 1383.7,893.2 1387.1,894.8 1390.5,896.4 1393.9,898.0 1397.3,899.6 1400.7,901.2 1404.0,902.8 1407.4,904.3 1410.8,905.9 1414.2,907.5 1417.6,909.0 1421.0,910.6 1424.4,912.1 1427.8,913.7 1431.2,915.2 1434.6,916.7 1438.0,918.2 1441.4,919.7 1444.8,921.2 1448.1,922.7 1451.5,924.2 1454.9,925.7 1458.3,927.2 1461.7,928.6 1465.1,930.1 1468.5,931.6 1471.9,933.0 1475.3,934.4 1478.7,935.9 1482.1,937.3 1485.5,938.7 1488.8,940.1 1492.2,941.5 1495.6,942.9 1499.0,944.3 1502.4,945.7 1505.8,947.1 1509.2,948.5 1512.6,949.8 1516.0,951.2 1519.4,952.5 1522.8,953.9 1526.2,955.2 1529.6,956.5 1532.9,957.9 1536.3,959.2 1539.7,960.5 1543.1,961.8 1546.5,963.1 1549.9,964.3 1553.3,965.6 1556.7,966.9 1560.1,968.2 1563.5,969.4 1566.9,970.7 1570.3,971.9 1573.7,973.1 1577.0,974.3 1580.4,975.6 1583.8,976.8 1587.2,978.0 1590.6,979.2 1594.0,980.4 1597.4,981.5 1600.8,982.7 1604.2,983.9 1607.6,985.0 1611.0,986.2 1614.4,987.3 1617.8,988.5 1621.1,989.6 1624.5,990.7 1627.9,991.8 1631.3,993.0 1634.7,994.1 1638.1,995.2 1641.5,996.2" stroke="#0000ff"/>
<path d="M288.0,59.5 291.4,63.0 294.8,66.5 298.2,70.0 301.6,73.5 305.0,76.9 308.4,80.3 311.7,83.8 315.1,87.2 318.5,90.5 321.9,93.9 325.3,97.3 328.7,100.6 332.1,104.0 335.5,107.3 338.9,110.6 342.3,113.9 345.7,117.1 349.1,120.4 352.5,123.7 355.8,126.9 359.2,130.1 362.6,133.3 366.0,136.5 369.4,139.7 372.8,142.8 376.2,146.0 379.6,149.1 383.0,152.3 386.4,155.4 389.8,158.5 393.2,161.6 396.6,164.6 399.9,167.7 403.3,170.7 406.7,173.8 410.1,176.8 413.5,179.8 416.9,182.8 420.3,185.8 423.7,188.8 427.1,191.7 430.5,194.7 433.9,197.6 437.3,200.5 440.7,203.5 444.0,206.4 447.4,209.3 450.8,212.1 454.2,215.0 457.6,217.9 461.0,220.7 464.4,223.5 467.8,226.4 471.2,229.2 474.6,232.0 478.0,234.8 481.4,237.5 484.7,240.3 488.1,243.1 491.5,245.8 494.9,248.5 498.3,251.3 501.7,254.0 505.1,256.7 508.5,259.4 511.9,262.1 515.3,264.8 518.7,267.4 522.1,270.1 525.5,272.7 528.8,275.4 532.2,278.0 535.6,280.6 539.0,283.2 542.4,285.8 545.8,288.4 549.2,291.0 552.6,293.6 556.0,296.2 559.4,298.7 562.8,301.3 566.2,303.8 569.6,306.3 572.9,308.9 576.3,311.4 579.7,313.9 583.1,316.4 586.5,318.9 589.9,321.4 593.3,323.8 596.7,326.3 600.1,328.8 603.5,331.2 606.9,333.7 610.3,336.1 613.7,338.6 617.0,341.0 620.4,343.4 623.8,345.8 627.2,348.2 630.6,350.6 634.0,353.0 637.4,355.4 640.8,357.8 644.2,360.2 647.6,362.5 651.0,364.9 654.4,367.2 657.8,369.6 661.1,371.9 664.5,374.3 667.9,376.6 671.3,378.9 674.7,381.2 678.1,383.5 681.5,385.9 684.9,388.2 688.3,390.5 691.7,392.7 695.1,395.0 698.5,397.3 701.9,399.6 705.2,401.9 708.6,404.1 712.0,406.4 715.4,408.6 718.8,410.9 722.2,413.1 725.6,415.4 729.0,417.6 732.4,419.8 735.8,422.1 739.2,424.3 742.6,426.5 746.0,428.7 749.3,430.9 752.7,433.1 756.1,435.3 759.5,437.5 762.9,439.7 766.3,441.9 769.7,444.1 773.1,446.2 776.5,448.4 779.9,450.6 783.3,452.8 786.7,454.9 790.1,457.1 793.4,459.2 796.8,461.4 800.2,463.5 803.6,465.7 807.0,467.8 810.4,469.9 813.8,472.1 817.2,474.2 820.6,476.3 824.0,478.5 827.4,480.6 830.8,482.7 834.1,484.8 837.5,486.9 840.9,489.0 844.3,491.1 847.7,493.2 851.1,495.3 854.5,497.4 857.9,499.5 861.3,501.6 864.7,503.6 868.1,505.7 871.5,507.8 874.9,509.9 878.2,511.9 881.6,514.0 885.0,516.1 888.4,518.1 891.8,520.2 895.2,522.2 898.6,524.3 902.0,526.3 905.4,528.4 908.8,530.4 912.2,532.5 915.6,534.5 919.0,536.5 922.3,538.6 925.7,540.6 929.1,542.6 932.5,544.7 935.9,546.7 939.3,548.7 942.7,550.7 946.1,552.7 949.5,554.7 952.9,556.7 956.3,558.8 959.7,560.8 963.1,562.8 966.4,564.8 969.8,566.7 973.2,568.7 976.6,570.7 980.0,572.7 983.4,574.7 986.8,576.7 990.2,578.7 993.6,580.6 997.0,582.6 1000.4,584.6 1003.8,586.6 1007.2,588.5 1010.5,590.5 1013.9,592.5 1017.3,594.4 1020.7,596.4 1024.1,598.3 1027.5,600.3 1030.9,602.2 1034.3,604.2 1037.7,606.1 1041.1,608.1 1044.5,610.0 1047.9,612.0 1051.3,613.9 1054.6,615.8 1058.0,617.8 1061.4,619.7 1064.8,621.6 1068.2,623.5 1071.6,625.5 1075.0,627.4 1078.4,629.3 1081.8,631.2 1085.2,633.1 1088.6,635.0 1092.0,636.9 1095.4,638.9 1098.7,640.8 1102.1,642.7 1105.5,644.6 1108.9,646.5 1112.3,648.3 1115.7,650.2 1119.1,652.1 1122.5,654.0 1125.9,655.9 1129.3,657.8 1132.7,659.7 1136.1,661.5 1139.4,663.4 1142.8,665.3 1146.2,667.1 1149.6,669.0 1153.0,670.9 1156.4,672.7 1159.8,674.6 1163.2,676.5 1166.6,678.3 1170.0,680.2 1173.4,682.0 1176.8,683.9 1180.2,685.7 1183.5,687.5 1186.9,689.4 1190.3,691.2 1193.7,693.0 1197.1,694.9 1200.5,696.7 1203.9,698.5 1207.3,700.3 1210.7,702.2 1214.1,704.0 1217.5,705.8 1220.9,707.6 1224.3,709.4 1227.6,711.2 1231.0,713.0 1234.4,714.8 1237.8,716.6 1241.2,718.4 1244.6,720.2 1248.0,722.0 1251.4,723.8 1254.8,725.6 1258.2,727.4 1261.6,729.1 1265.0,730.9 1268.4,732.7 1271.7,734.5 1275.1,736.2 1278.5,738.0 1281.9,739.7 1285.3,741.5 1288.7,743.3 1292.1,745.0 1295.5,746.8 1298.9,748.5 1302.3,750.2 1305.7,752.0 1309.1,753.7 1312.5,755.5 1315.8,757.2 1319.2,758.9 1322.6,760.6 1326.0,762.4 1329.4,764.1 1332.8,765.8 1336.2,767.5 1339.6,769.2 1343.0,770.9 1346.4,772.6 1349.8,774.3 1353.2,776.0 1356.6,777.7 1359.9,779.4 1363.3,781.1 1366.7,782.7 1370.1,784.4 1373.5,786.1 1376.9,787.8 1380.3,789.4 1383.7,791.1 1387.1,792.8 1390.5,794.4 1393.9,796.1 1397.3,797.7 1400.7,799.4 1404.0,801.0 1407.4,802.6 1410.8,804.3 1414.2,805.9 1417.6,807.5 1421.0,809.2 1424.4,810.8 1427.8,812.4 1431.2,814.0 1434.6,815.6 1438.0,817.2 1441.4,818.8 1444.8,820.4 1448.1,822.0 1451.5,823.6 1454.9,825.2 1458.3,826.8 1461.7,828.3 1465.1,829.9 1468.5,831.5 1471.9,833.0 1475.3,834.6 1478.7,836.2 1482.1,837.7 1485.5,839.3 1488.8,840.8 1492.2,842.3 1495.6,843.9 1499.0,845.4 1502.4,846.9 1505.8,848.5 1509.2,850.0 1512.6,851.5 1516.0,853.0 1519.4,854.5 1522.8,856.0 1526.2,857.5 1529.6,859.0 1532.9,860.5 1536.3,862.0 1539.7,863.5 1543.1,864.9 1546.5,866.4 1549.9,867.9 1553.3,869.3 1556.7,870.8 1560.1,872.2 1563.5,873.7 1566.9,875.1 1570.3,876.6 1573.7,878.0 1577.0,879.4 1580.4,880.9 1583.8,882.3 1587.2,883.7 1590.6,885.1 1594.0,886.5 1597.4,887.9 1600.8,889.3 1604.2,890.7 1607.6,892.1 1611.0,893.5 1614.4,894.8 1617.8,896.2 1621.1,897.6 1624.5,898.9 1627.9,900.3 1631.3,901.6 1634.7,903.0 1638.1,904.3 1641.5,905.7" stroke="#ff8000"/>
</g></g>
<g stroke="#000" stroke-width="5" fill="none" stroke-linecap="round">
<rect x="288.0" y="63.5" width="1353.5" height="995.3" stroke-linecap="butt"/>
<path d="M288.0,63.5h-20M288.0,496.0h-20M288.0,365.8h-10M288.0,289.7h-10M288.0,235.6h-10M288.0,193.7h-10M288.0,159.5h-10M288.0,130.5h-10M288.0,105.4h-10M288.0,83.3h-10M288.0,928.6h-20M288.0,798.4h-10M288.0,722.2h-10M288.0,668.2h-10M288.0,626.3h-10M288.0,592.0h-10M288.0,563.0h-10M288.0,538.0h-10M288.0,515.8h-10M288.0,1058.8v20M423.4,1058.8v10M423.4,63.5v10M558.7,1058.8v20M558.7,63.5v20M694.0,1058.8v10M694.0,63.5v10M829.4,1058.8v20M829.4,63.5v20M964.8,1058.8v10M964.8,63.5v10M1100.1,1058.8v20M1100.1,63.5v20M1235.5,1058.8v10M1235.5,63.5v10M1370.8,1058.8v20M1370.8,63.5v20M1506.2,1058.8v10M1506.2,63.5v10M1641.5,1058.8v20"/>
</g>
<g font-size="63.5">
<text x="254.7" y="87.7" text-anchor="end">10<tspan font-size="37" dy="-35">0</tspan></text>
<text x="254.7" y="520.2" text-anchor="end">10<tspan font-size="37" dy="-35">-1</tspan></text>
<text x="254.7" y="952.8" text-anchor="end">10<tspan font-size="37" dy="-35">-2</tspan></text>
<text x="288.0" y="1144" text-anchor="middle">0</text>
<text x="558.7" y="1144" text-anchor="middle">3</text>
<text x="829.4" y="1144" text-anchor="middle">6</text>
<text x="1100.1" y="1144" text-anchor="middle">9</text>
<text x="1370.8" y="1144" text-anchor="middle">12</text>
<text x="1641.5" y="1144" text-anchor="middle">15</text>
</g>
<text x="964.9" y="1234.6" font-size="72" text-anchor="middle">Time (ms)</text>
<text transform="translate(106,609.3) rotate(-90)" font-size="72" text-anchor="middle">Intensity(a.u.)</text>
<rect x="307.7" y="783.5" width="438.3" height="255.7" fill="#fff" stroke="#000" stroke-width="2.7"/>
<g font-size="63.5"><text x="488.5" y="859.2">2.5% Eu</text><text x="488.5" y="936.2">5% Eu</text><text x="488.5" y="1014.5">10% Eu</text></g>
<circle cx="400.7" cy="836.4" r="5" fill="url(#gG)"/><circle cx="400.7" cy="914" r="5" fill="url(#gB)"/><circle cx="400.7" cy="991.4" r="5" fill="url(#gM)"/>
<rect x="1445.8" y="88" width="165.2" height="186.8" fill="none" stroke="#dd0000" stroke-width="5.7"/>
<text transform="translate(1503.1,216.9) scale(0.806,1)" font-size="96.4">a</text>
<g stroke="#000" stroke-width="4.6" fill="none" stroke-linecap="round">
<rect x="317.5" y="1298.5" width="1292.0" height="950.0999999999999" stroke-linecap="butt"/>
<path d="M317.5,1298.5h-20M317.5,1417.3h-10M1609.5,1417.3h-10M317.5,1536.0h-20M1609.5,1536.0h-20M317.5,1654.8h-10M1609.5,1654.8h-10M317.5,1773.5h-20M1609.5,1773.5h-20M317.5,1892.3h-10M1609.5,1892.3h-10M317.5,2011.1h-20M1609.5,2011.1h-20M317.5,2129.8h-10M1609.5,2129.8h-10M317.5,2248.6h-20M317.5,2248.6v10M385.5,2248.6v20M385.5,1298.5v20M453.5,2248.6v10M453.5,1298.5v10M521.5,2248.6v20M521.5,1298.5v20M589.5,2248.6v10M589.5,1298.5v10M657.5,2248.6v20M657.5,1298.5v20M725.5,2248.6v10M725.5,1298.5v10M793.5,2248.6v20M793.5,1298.5v20M861.5,2248.6v10M861.5,1298.5v10M929.5,2248.6v20M929.5,1298.5v20M997.5,2248.6v10M997.5,1298.5v10M1065.5,2248.6v20M1065.5,1298.5v20M1133.5,2248.6v10M1133.5,1298.5v10M1201.5,2248.6v20M1201.5,1298.5v20M1269.5,2248.6v10M1269.5,1298.5v10M1337.5,2248.6v20M1337.5,1298.5v20M1405.5,2248.6v10M1405.5,1298.5v10M1473.5,2248.6v20M1473.5,1298.5v20M1541.5,2248.6v10M1541.5,1298.5v10M1609.5,2248.6v20"/>
</g>
<g font-size="60">
<text x="285.4" y="1315.3" text-anchor="end">4,0</text>
<text x="285.4" y="1552.8" text-anchor="end">3,5</text>
<text x="285.4" y="1790.3" text-anchor="end">3,0</text>
<text x="285.4" y="2027.9" text-anchor="end">2,5</text>
<text x="285.4" y="2265.4" text-anchor="end">2,0</text>
<text x="385.5" y="2329" text-anchor="middle">2</text>
<text x="521.5" y="2329" text-anchor="middle">3</text>
<text x="657.5" y="2329" text-anchor="middle">4</text>
<text x="793.5" y="2329" text-anchor="middle">5</text>
<text x="929.5" y="2329" text-anchor="middle">6</text>
<text x="1065.5" y="2329" text-anchor="middle">7</text>
<text x="1201.5" y="2329" text-anchor="middle">8</text>
<text x="1337.5" y="2329" text-anchor="middle">9</text>
<text x="1473.5" y="2329" text-anchor="middle">10</text>
<text x="1609.5" y="2329" text-anchor="middle">11</text>
</g>
<g font-size="68.5">
<text x="635.1" y="2420">% Eu</text>
<text x="797.5" y="2381.7" font-size="40">3+</text>
<text x="863.3" y="2420">in (H</text>
<text x="1006.9" y="2446" font-size="40">3</text>
<text x="1029.8" y="2420">O)Lu</text>
<text x="1182.3" y="2446" font-size="40">3</text>
<text x="1204.6" y="2420">F</text>
<text x="1246.0" y="2446" font-size="40">10</text>
</g>
<text transform="translate(159.2,1818.8) rotate(-90)" font-size="68.5" text-anchor="middle">Average lifetime (ms)</text>
<rect x="1408" y="1343" width="169.5" height="187.4" fill="none" stroke="#dd0000" stroke-width="5.5"/>
<text x="1465.1" y="1473" font-size="101.5">b</text>
<line x1="452.8" y1="1594.6" x2="1474" y2="2048" stroke="#ff0000" stroke-width="2.6"/>
<circle cx="452.5" cy="1553.9" r="24.7" fill="#ff0000"/><circle cx="445.5" cy="1546.7" r="12.4" fill="#ff6b6b"/><circle cx="445.5" cy="1546.7" r="8.3" fill="#ffb4b4"/><circle cx="445.5" cy="1546.7" r="4.6" fill="#fff8f8"/>
<circle cx="792.5" cy="1792" r="24.7" fill="#ff0000"/><circle cx="785.5" cy="1784.8" r="12.4" fill="#ff6b6b"/><circle cx="785.5" cy="1784.8" r="8.3" fill="#ffb4b4"/><circle cx="785.5" cy="1784.8" r="4.6" fill="#fff8f8"/>
<circle cx="1474" cy="2036.9" r="24.7" fill="#ff0000"/><circle cx="1467" cy="2029.7" r="12.4" fill="#ff6b6b"/><circle cx="1467" cy="2029.7" r="8.3" fill="#ffb4b4"/><circle cx="1467" cy="2029.7" r="4.6" fill="#fff8f8"/>
</svg></body></html>
